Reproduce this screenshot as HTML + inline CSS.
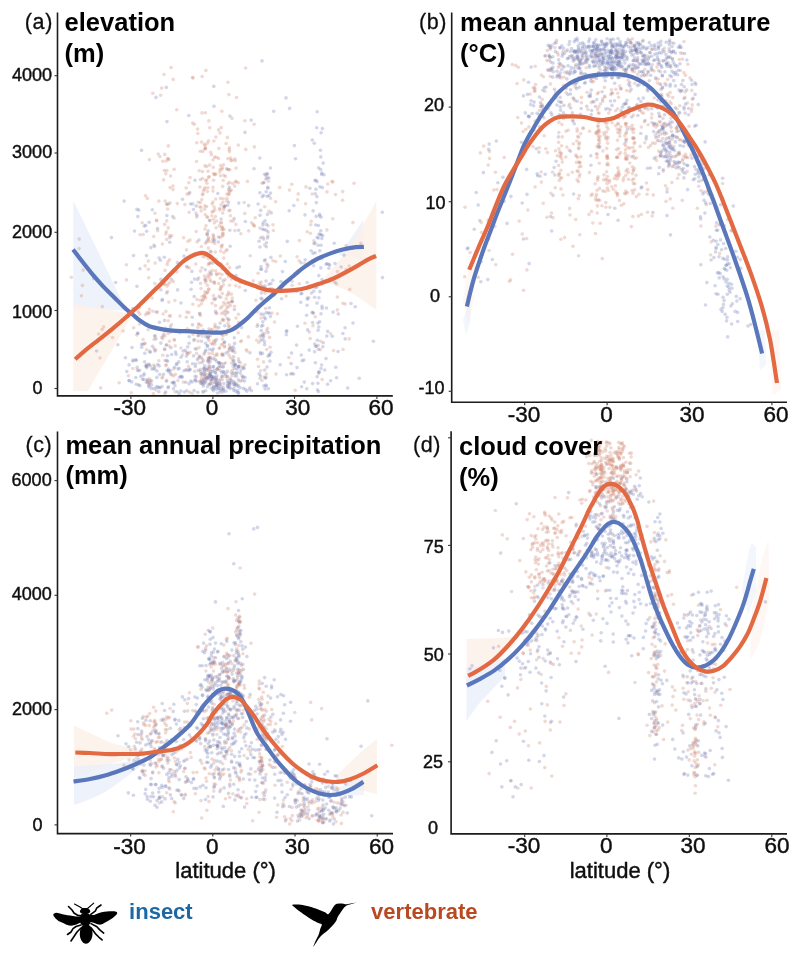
<!DOCTYPE html>
<html><head><meta charset="utf-8"><title>Figure</title>
<style>html,body{margin:0;padding:0;background:#fff;width:800px;height:959px;overflow:hidden}svg{display:block}</style>
</head><body>
<svg width="800" height="959" viewBox="0 0 800 959">
<rect width="800" height="959" fill="#fff"/>
<defs><filter id="gb" x="0" y="0" width="100%" height="100%"><feGaussianBlur stdDeviation="0.45"/></filter></defs><g filter="url(#gb)">
<polygon points="73.3,200.7 124.2,305.5 126.0,311.0 100.0,309.0 73.3,309.0" fill="#e8edf9" fill-opacity="0.75"/>
<polygon points="73.3,304.0 102.8,308.5 128.4,313.5 130.6,318.3 87.8,391.0 73.3,391.0" fill="#fdf0e9" fill-opacity="0.80"/>
<path d="M338.1,255.6 C340.3,252.7 347.1,244.0 351.2,238.0 C355.4,232.0 361.3,222.6 363.3,219.5 L363.3,260.0 C361.3,259.3 353.3,256.3 351.2,255.6Z" fill="#e8edf9" fill-opacity="0.75"/>
<path d="M325.0,277.5 C329.4,272.0 342.7,257.4 351.2,244.7 C359.8,231.9 372.2,208.3 376.4,201.0 L376.4,310.3 C372.2,307.4 359.8,297.5 351.2,292.8 C342.7,288.1 329.4,283.8 325.0,282.0Z" fill="#fdf0e9" fill-opacity="0.80"/>
<path d="M74.0,725.5 C76.7,726.8 83.7,730.1 90.0,733.0 C96.3,735.9 104.5,740.4 112.0,743.0 C119.5,745.6 128.7,747.2 135.0,748.5 C141.3,749.8 147.5,750.6 150.0,751.0 L150.0,753.0 C146.7,753.8 137.5,755.8 130.0,758.0 C122.5,760.2 112.0,763.7 105.0,766.0 C98.0,768.3 93.2,770.2 88.0,772.0 C82.8,773.8 76.3,775.8 74.0,776.5Z" fill="#fdf0e9" fill-opacity="0.80"/>
<path d="M74.0,766.0 C77.5,765.8 87.3,765.5 95.0,765.0 C102.7,764.5 111.7,764.0 120.0,763.0 C128.3,762.0 140.8,759.7 145.0,759.0 L145.0,762.0 C141.7,764.7 131.7,773.0 125.0,778.0 C118.3,783.0 111.2,788.3 105.0,792.0 C98.8,795.7 93.2,797.8 88.0,800.0 C82.8,802.2 76.3,804.2 74.0,805.0Z" fill="#e8edf9" fill-opacity="0.75"/>
<path d="M335.0,777.0 C339.2,773.0 353.0,759.3 360.0,753.0 C367.0,746.7 374.2,741.3 377.0,739.0 L377.0,794.0 C374.2,793.3 366.2,791.8 360.0,790.0 C353.8,788.2 343.3,784.2 340.0,783.0Z" fill="#fdf0e9" fill-opacity="0.80"/>
<path d="M335.0,790.0 C339.8,787.5 359.2,777.5 364.0,775.0 L364.0,795.0 C360.8,795.2 348.2,795.8 345.0,796.0Z" fill="#e8edf9" fill-opacity="0.60"/>
<path d="M466.5,639.0 C468.8,638.9 474.4,638.7 480.0,638.5 C485.6,638.3 494.2,638.4 500.0,638.0 C505.8,637.6 512.5,636.3 515.0,636.0 L515.0,645.0 C511.7,647.5 500.8,655.8 495.0,660.0 C489.2,664.2 484.8,666.3 480.0,670.0 C475.2,673.7 468.8,680.0 466.5,682.0Z" fill="#fdf0e9" fill-opacity="0.80"/>
<path d="M466.5,668.0 C469.6,667.5 478.6,666.7 485.0,665.0 C491.4,663.3 501.7,659.2 505.0,658.0 L505.0,676.0 C502.5,678.7 494.5,687.2 490.0,692.0 C485.5,696.8 481.9,700.2 478.0,705.0 C474.1,709.8 468.4,718.3 466.5,721.0Z" fill="#e8edf9" fill-opacity="0.75"/>
<path d="M742.0,590.0 C743.3,582.8 747.7,554.2 750.0,547.0 C752.3,539.8 755.0,547.0 756.0,547.0 L756.0,592.0 C754.7,595.8 749.3,611.2 748.0,615.0Z" fill="#e8edf9" fill-opacity="0.50"/>
<path d="M752.0,610.0 C753.7,601.7 759.2,571.7 762.0,560.0 C764.8,548.3 767.4,543.3 768.5,540.0 L769.0,600.0 C767.5,606.7 763.2,630.0 760.0,640.0 C756.8,650.0 751.7,656.7 750.0,660.0Z" fill="#fdf0e9" fill-opacity="0.50"/>
<path d="M463.0,300.0 C464.2,294.2 467.8,271.3 470.0,265.0 C472.2,258.7 475.0,262.5 476.0,262.0 L474.0,300.0 C473.0,304.2 469.0,320.8 468.0,325.0Z" fill="#fdf0e9" fill-opacity="0.50"/>
<path d="M463.0,320.0 C464.2,316.7 468.8,303.3 470.0,300.0 L471.0,320.0 C470.2,322.5 466.8,332.5 466.0,335.0Z" fill="#e8edf9" fill-opacity="0.50"/>
<path d="M757.0,330.0 C758.3,330.0 763.7,330.0 765.0,330.0 L766.0,365.0 C765.0,365.8 761.0,369.2 760.0,370.0Z" fill="#e8edf9" fill-opacity="0.50"/>
<path d="M768.0,330.0 C769.8,330.0 777.2,330.0 779.0,330.0 L781.0,390.0 C779.7,390.8 774.3,394.2 773.0,395.0Z" fill="#fdf0e9" fill-opacity="0.50"/>
<defs><filter id="bl" x="-5%" y="-5%" width="110%" height="110%"><feGaussianBlur stdDeviation="0.75"/></filter></defs>
<g filter="url(#bl)">
<g fill="rgb(208,138,115)" fill-opacity="0.32"><circle cx="152.3" cy="292.2" r="1.8"/><circle cx="189.0" cy="193.9" r="1.8"/><circle cx="204.9" cy="187.8" r="1.8"/><circle cx="139.6" cy="323.9" r="1.8"/><circle cx="149.1" cy="312.4" r="1.8"/><circle cx="232.4" cy="359.6" r="1.8"/><circle cx="155.3" cy="336.1" r="1.8"/><circle cx="153.9" cy="245.0" r="1.8"/><circle cx="232.6" cy="183.4" r="1.8"/><circle cx="205.3" cy="373.9" r="1.8"/><circle cx="169.4" cy="316.0" r="1.8"/><circle cx="204.4" cy="296.0" r="1.8"/><circle cx="200.5" cy="315.4" r="1.8"/><circle cx="171.8" cy="235.7" r="1.8"/><circle cx="157.7" cy="230.8" r="1.8"/><circle cx="214.0" cy="282.2" r="1.8"/><circle cx="212.2" cy="270.5" r="1.8"/><circle cx="199.8" cy="313.2" r="1.8"/><circle cx="228.6" cy="382.6" r="1.8"/><circle cx="199.2" cy="356.8" r="1.8"/><circle cx="248.7" cy="230.9" r="1.8"/><circle cx="162.4" cy="244.1" r="1.8"/><circle cx="200.2" cy="381.8" r="1.8"/><circle cx="190.0" cy="240.0" r="1.8"/><circle cx="180.9" cy="348.0" r="1.8"/><circle cx="196.5" cy="161.5" r="1.8"/><circle cx="169.5" cy="259.8" r="1.8"/><circle cx="221.2" cy="263.9" r="1.8"/><circle cx="224.5" cy="347.0" r="1.8"/><circle cx="155.7" cy="349.9" r="1.8"/><circle cx="199.2" cy="170.8" r="1.8"/><circle cx="174.9" cy="300.5" r="1.8"/><circle cx="145.6" cy="314.7" r="1.8"/><circle cx="238.3" cy="182.8" r="1.8"/><circle cx="182.4" cy="355.0" r="1.8"/><circle cx="154.8" cy="283.5" r="1.8"/><circle cx="211.2" cy="378.9" r="1.8"/><circle cx="147.3" cy="198.4" r="1.8"/><circle cx="235.8" cy="285.8" r="1.8"/><circle cx="156.6" cy="220.2" r="1.8"/><circle cx="139.3" cy="307.6" r="1.8"/><circle cx="152.2" cy="298.0" r="1.8"/><circle cx="167.2" cy="264.4" r="1.8"/><circle cx="183.6" cy="237.7" r="1.8"/><circle cx="240.1" cy="282.6" r="1.8"/><circle cx="223.2" cy="233.6" r="1.8"/><circle cx="175.5" cy="374.2" r="1.8"/><circle cx="148.3" cy="261.1" r="1.8"/><circle cx="155.2" cy="263.1" r="1.8"/><circle cx="233.2" cy="221.1" r="1.8"/><circle cx="189.2" cy="212.3" r="1.8"/><circle cx="215.2" cy="380.9" r="1.8"/><circle cx="143.2" cy="234.5" r="1.8"/><circle cx="145.4" cy="366.1" r="1.8"/><circle cx="232.3" cy="298.1" r="1.8"/><circle cx="196.5" cy="376.9" r="1.8"/><circle cx="163.6" cy="179.9" r="1.8"/><circle cx="172.0" cy="382.7" r="1.8"/><circle cx="148.1" cy="329.8" r="1.8"/><circle cx="156.0" cy="287.2" r="1.8"/><circle cx="148.5" cy="313.7" r="1.8"/><circle cx="238.5" cy="322.3" r="1.8"/><circle cx="186.5" cy="249.9" r="1.8"/><circle cx="157.5" cy="312.1" r="1.8"/><circle cx="223.3" cy="198.7" r="1.8"/><circle cx="164.8" cy="154.4" r="1.8"/><circle cx="152.8" cy="311.2" r="1.8"/><circle cx="200.5" cy="271.1" r="1.8"/><circle cx="238.5" cy="358.8" r="1.8"/><circle cx="155.0" cy="213.2" r="1.8"/><circle cx="229.4" cy="345.1" r="1.8"/><circle cx="156.2" cy="389.9" r="1.8"/><circle cx="153.4" cy="368.4" r="1.8"/><circle cx="149.5" cy="378.7" r="1.8"/><circle cx="173.0" cy="189.6" r="1.8"/><circle cx="213.0" cy="187.4" r="1.8"/><circle cx="201.0" cy="207.6" r="1.8"/><circle cx="222.1" cy="236.1" r="1.8"/><circle cx="165.8" cy="173.8" r="1.8"/><circle cx="173.0" cy="186.0" r="1.8"/><circle cx="159.9" cy="156.6" r="1.8"/><circle cx="250.0" cy="387.6" r="1.8"/><circle cx="240.9" cy="233.7" r="1.8"/><circle cx="168.8" cy="302.1" r="1.8"/><circle cx="189.4" cy="267.9" r="1.8"/><circle cx="170.4" cy="315.9" r="1.8"/><circle cx="207.0" cy="333.0" r="1.8"/><circle cx="140.1" cy="234.8" r="1.8"/><circle cx="148.7" cy="277.8" r="1.8"/><circle cx="186.2" cy="188.0" r="1.8"/><circle cx="166.7" cy="220.9" r="1.8"/><circle cx="229.0" cy="210.7" r="1.8"/><circle cx="220.7" cy="222.7" r="1.8"/><circle cx="196.0" cy="213.1" r="1.8"/><circle cx="216.5" cy="274.1" r="1.8"/><circle cx="213.6" cy="236.0" r="1.8"/><circle cx="223.8" cy="229.6" r="1.8"/><circle cx="240.6" cy="341.7" r="1.8"/><circle cx="149.4" cy="159.6" r="1.8"/><circle cx="201.5" cy="142.0" r="1.8"/><circle cx="164.3" cy="170.5" r="1.8"/><circle cx="188.5" cy="366.4" r="1.8"/><circle cx="220.9" cy="297.5" r="1.8"/><circle cx="236.0" cy="318.1" r="1.8"/><circle cx="216.8" cy="384.9" r="1.8"/><circle cx="145.4" cy="195.7" r="1.8"/><circle cx="173.7" cy="376.0" r="1.8"/><circle cx="158.8" cy="201.1" r="1.8"/><circle cx="235.4" cy="279.4" r="1.8"/><circle cx="163.1" cy="314.0" r="1.8"/><circle cx="162.6" cy="338.7" r="1.8"/><circle cx="168.0" cy="204.2" r="1.8"/><circle cx="145.1" cy="265.9" r="1.8"/><circle cx="229.2" cy="149.6" r="1.8"/><circle cx="207.7" cy="217.4" r="1.8"/><circle cx="149.9" cy="383.1" r="1.8"/><circle cx="194.7" cy="371.3" r="1.8"/><circle cx="170.0" cy="282.2" r="1.8"/><circle cx="196.5" cy="349.0" r="1.8"/><circle cx="166.4" cy="364.7" r="1.8"/><circle cx="142.2" cy="222.8" r="1.8"/><circle cx="153.3" cy="393.6" r="1.8"/><circle cx="187.4" cy="267.6" r="1.8"/><circle cx="200.0" cy="187.0" r="1.8"/><circle cx="176.9" cy="271.9" r="1.8"/><circle cx="207.3" cy="292.6" r="1.8"/><circle cx="186.8" cy="312.1" r="1.8"/><circle cx="149.5" cy="309.2" r="1.8"/><circle cx="174.1" cy="169.3" r="1.8"/><circle cx="199.0" cy="305.7" r="1.8"/><circle cx="231.2" cy="372.1" r="1.8"/><circle cx="146.7" cy="312.9" r="1.8"/><circle cx="148.8" cy="383.7" r="1.8"/><circle cx="198.7" cy="277.8" r="1.8"/><circle cx="246.2" cy="349.7" r="1.8"/><circle cx="236.0" cy="181.4" r="1.8"/><circle cx="209.0" cy="365.6" r="1.8"/><circle cx="148.3" cy="269.2" r="1.8"/><circle cx="240.5" cy="362.9" r="1.8"/><circle cx="219.4" cy="225.9" r="1.8"/><circle cx="138.4" cy="312.1" r="1.8"/><circle cx="188.0" cy="353.2" r="1.8"/><circle cx="139.9" cy="314.1" r="1.8"/><circle cx="227.9" cy="302.8" r="1.8"/><circle cx="214.4" cy="377.6" r="1.8"/><circle cx="236.1" cy="168.1" r="1.8"/><circle cx="225.4" cy="176.4" r="1.8"/><circle cx="173.4" cy="281.6" r="1.8"/><circle cx="224.0" cy="374.5" r="1.8"/><circle cx="165.9" cy="311.4" r="1.8"/><circle cx="156.5" cy="220.8" r="1.8"/><circle cx="188.8" cy="182.8" r="1.8"/><circle cx="195.5" cy="253.3" r="1.8"/><circle cx="167.9" cy="261.8" r="1.8"/><circle cx="211.3" cy="274.6" r="1.8"/><circle cx="204.4" cy="295.3" r="1.8"/><circle cx="164.7" cy="224.4" r="1.8"/><circle cx="200.6" cy="369.2" r="1.8"/><circle cx="174.1" cy="218.3" r="1.8"/><circle cx="213.3" cy="167.2" r="1.8"/><circle cx="153.7" cy="236.5" r="1.8"/><circle cx="230.0" cy="378.6" r="1.8"/><circle cx="187.0" cy="194.1" r="1.8"/><circle cx="196.8" cy="217.1" r="1.8"/><circle cx="217.0" cy="379.6" r="1.8"/><circle cx="197.1" cy="241.9" r="1.8"/><circle cx="169.3" cy="346.0" r="1.8"/><circle cx="228.0" cy="169.5" r="1.8"/><circle cx="148.7" cy="364.3" r="1.8"/><circle cx="177.3" cy="203.6" r="1.8"/><circle cx="207.3" cy="191.4" r="1.8"/><circle cx="154.1" cy="339.4" r="1.8"/><circle cx="164.8" cy="393.4" r="1.8"/><circle cx="217.0" cy="369.5" r="1.8"/><circle cx="209.1" cy="331.1" r="1.8"/><circle cx="210.3" cy="368.6" r="1.8"/><circle cx="234.9" cy="385.8" r="1.8"/><circle cx="225.1" cy="279.6" r="1.8"/><circle cx="170.6" cy="176.0" r="1.8"/><circle cx="209.0" cy="359.0" r="1.8"/><circle cx="166.7" cy="239.4" r="1.8"/><circle cx="221.4" cy="222.8" r="1.8"/><circle cx="177.7" cy="266.6" r="1.8"/><circle cx="158.2" cy="154.0" r="1.8"/><circle cx="234.8" cy="158.9" r="1.8"/><circle cx="211.8" cy="215.7" r="1.8"/><circle cx="220.1" cy="289.0" r="1.8"/><circle cx="198.7" cy="324.2" r="1.8"/><circle cx="226.8" cy="376.9" r="1.8"/><circle cx="190.0" cy="352.2" r="1.8"/><circle cx="245.8" cy="149.4" r="1.8"/><circle cx="213.1" cy="234.7" r="1.8"/><circle cx="223.0" cy="229.1" r="1.8"/><circle cx="235.0" cy="352.4" r="1.8"/><circle cx="238.3" cy="145.1" r="1.8"/><circle cx="220.5" cy="175.8" r="1.8"/><circle cx="242.5" cy="366.9" r="1.8"/><circle cx="197.8" cy="133.5" r="1.8"/><circle cx="229.0" cy="190.9" r="1.8"/><circle cx="221.5" cy="247.2" r="1.8"/><circle cx="221.2" cy="127.6" r="1.8"/><circle cx="226.7" cy="200.7" r="1.8"/><circle cx="214.6" cy="283.4" r="1.8"/><circle cx="218.8" cy="283.5" r="1.8"/><circle cx="219.2" cy="273.5" r="1.8"/><circle cx="204.3" cy="297.6" r="1.8"/><circle cx="208.0" cy="291.6" r="1.8"/><circle cx="218.6" cy="129.9" r="1.8"/><circle cx="200.2" cy="300.2" r="1.8"/><circle cx="222.0" cy="274.5" r="1.8"/><circle cx="222.7" cy="186.4" r="1.8"/><circle cx="187.9" cy="241.2" r="1.8"/><circle cx="202.4" cy="194.7" r="1.8"/><circle cx="198.4" cy="358.2" r="1.8"/><circle cx="226.9" cy="198.2" r="1.8"/><circle cx="190.1" cy="177.6" r="1.8"/><circle cx="193.1" cy="334.4" r="1.8"/><circle cx="210.9" cy="329.9" r="1.8"/><circle cx="215.1" cy="355.7" r="1.8"/><circle cx="192.8" cy="304.2" r="1.8"/><circle cx="234.8" cy="230.6" r="1.8"/><circle cx="211.0" cy="257.3" r="1.8"/><circle cx="229.6" cy="267.6" r="1.8"/><circle cx="210.0" cy="279.6" r="1.8"/><circle cx="217.5" cy="369.1" r="1.8"/><circle cx="212.1" cy="204.0" r="1.8"/><circle cx="208.9" cy="328.8" r="1.8"/><circle cx="208.8" cy="120.9" r="1.8"/><circle cx="227.9" cy="183.8" r="1.8"/><circle cx="223.7" cy="387.9" r="1.8"/><circle cx="224.5" cy="206.0" r="1.8"/><circle cx="216.2" cy="259.4" r="1.8"/><circle cx="204.0" cy="368.7" r="1.8"/><circle cx="212.1" cy="303.2" r="1.8"/><circle cx="217.6" cy="262.3" r="1.8"/><circle cx="227.9" cy="312.6" r="1.8"/><circle cx="207.0" cy="377.7" r="1.8"/><circle cx="207.4" cy="379.2" r="1.8"/><circle cx="205.7" cy="180.8" r="1.8"/><circle cx="218.5" cy="158.4" r="1.8"/><circle cx="200.5" cy="202.6" r="1.8"/><circle cx="221.8" cy="169.3" r="1.8"/><circle cx="236.1" cy="328.6" r="1.8"/><circle cx="232.2" cy="349.9" r="1.8"/><circle cx="208.0" cy="171.3" r="1.8"/><circle cx="210.7" cy="152.2" r="1.8"/><circle cx="244.8" cy="213.4" r="1.8"/><circle cx="202.5" cy="300.4" r="1.8"/><circle cx="226.0" cy="333.9" r="1.8"/><circle cx="223.7" cy="258.1" r="1.8"/><circle cx="226.9" cy="307.9" r="1.8"/><circle cx="209.0" cy="368.3" r="1.8"/><circle cx="208.5" cy="358.6" r="1.8"/><circle cx="220.0" cy="169.2" r="1.8"/><circle cx="198.9" cy="324.0" r="1.8"/><circle cx="226.5" cy="333.9" r="1.8"/><circle cx="232.5" cy="370.1" r="1.8"/><circle cx="207.0" cy="234.1" r="1.8"/><circle cx="214.5" cy="174.0" r="1.8"/><circle cx="208.4" cy="248.1" r="1.8"/><circle cx="254.0" cy="225.3" r="1.8"/><circle cx="196.2" cy="231.5" r="1.8"/><circle cx="210.5" cy="335.8" r="1.8"/><circle cx="220.8" cy="286.7" r="1.8"/><circle cx="231.3" cy="301.8" r="1.8"/><circle cx="232.5" cy="301.6" r="1.8"/><circle cx="206.8" cy="166.4" r="1.8"/><circle cx="196.8" cy="142.7" r="1.8"/><circle cx="223.0" cy="235.2" r="1.8"/><circle cx="217.2" cy="355.0" r="1.8"/><circle cx="201.6" cy="303.7" r="1.8"/><circle cx="216.4" cy="330.8" r="1.8"/><circle cx="204.9" cy="291.9" r="1.8"/><circle cx="203.4" cy="331.8" r="1.8"/><circle cx="212.1" cy="383.6" r="1.8"/><circle cx="222.1" cy="306.4" r="1.8"/><circle cx="209.1" cy="353.4" r="1.8"/><circle cx="201.4" cy="377.6" r="1.8"/><circle cx="223.2" cy="335.4" r="1.8"/><circle cx="213.8" cy="340.7" r="1.8"/><circle cx="205.0" cy="149.0" r="1.8"/><circle cx="215.9" cy="137.0" r="1.8"/><circle cx="240.3" cy="381.2" r="1.8"/><circle cx="234.7" cy="186.1" r="1.8"/><circle cx="219.7" cy="208.3" r="1.8"/><circle cx="232.0" cy="160.4" r="1.8"/><circle cx="231.5" cy="294.1" r="1.8"/><circle cx="227.4" cy="137.4" r="1.8"/><circle cx="214.7" cy="344.3" r="1.8"/><circle cx="215.7" cy="199.0" r="1.8"/><circle cx="227.9" cy="323.2" r="1.8"/><circle cx="225.6" cy="376.4" r="1.8"/><circle cx="234.5" cy="306.3" r="1.8"/><circle cx="208.0" cy="239.2" r="1.8"/><circle cx="239.4" cy="287.0" r="1.8"/><circle cx="208.7" cy="336.6" r="1.8"/><circle cx="238.5" cy="314.2" r="1.8"/><circle cx="244.2" cy="202.5" r="1.8"/><circle cx="197.6" cy="129.1" r="1.8"/><circle cx="199.0" cy="347.6" r="1.8"/><circle cx="222.3" cy="293.6" r="1.8"/><circle cx="254.4" cy="146.9" r="1.8"/><circle cx="231.5" cy="279.1" r="1.8"/><circle cx="201.0" cy="288.5" r="1.8"/><circle cx="184.9" cy="204.6" r="1.8"/><circle cx="199.1" cy="362.7" r="1.8"/><circle cx="247.5" cy="181.4" r="1.8"/><circle cx="216.1" cy="174.0" r="1.8"/><circle cx="213.2" cy="211.4" r="1.8"/><circle cx="236.0" cy="224.4" r="1.8"/><circle cx="238.3" cy="366.1" r="1.8"/><circle cx="213.6" cy="299.0" r="1.8"/><circle cx="235.3" cy="160.7" r="1.8"/><circle cx="222.0" cy="227.0" r="1.8"/><circle cx="204.3" cy="144.2" r="1.8"/><circle cx="188.9" cy="312.6" r="1.8"/><circle cx="204.2" cy="353.1" r="1.8"/><circle cx="229.5" cy="147.7" r="1.8"/><circle cx="195.8" cy="264.1" r="1.8"/><circle cx="226.9" cy="194.1" r="1.8"/><circle cx="199.8" cy="206.7" r="1.8"/><circle cx="223.1" cy="319.4" r="1.8"/><circle cx="209.4" cy="373.3" r="1.8"/><circle cx="214.1" cy="207.1" r="1.8"/><circle cx="216.8" cy="274.6" r="1.8"/><circle cx="219.8" cy="209.9" r="1.8"/><circle cx="226.1" cy="143.5" r="1.8"/><circle cx="223.4" cy="284.9" r="1.8"/><circle cx="228.5" cy="169.5" r="1.8"/><circle cx="230.5" cy="305.6" r="1.8"/><circle cx="223.6" cy="312.1" r="1.8"/><circle cx="202.5" cy="171.6" r="1.8"/><circle cx="204.6" cy="276.0" r="1.8"/><circle cx="235.7" cy="182.1" r="1.8"/><circle cx="214.8" cy="326.5" r="1.8"/><circle cx="225.4" cy="205.8" r="1.8"/><circle cx="197.0" cy="299.5" r="1.8"/><circle cx="215.5" cy="305.6" r="1.8"/><circle cx="200.5" cy="283.4" r="1.8"/><circle cx="213.0" cy="191.1" r="1.8"/><circle cx="204.9" cy="278.9" r="1.8"/><circle cx="201.8" cy="199.5" r="1.8"/><circle cx="198.3" cy="202.3" r="1.8"/><circle cx="203.5" cy="391.8" r="1.8"/><circle cx="205.0" cy="229.0" r="1.8"/><circle cx="204.7" cy="380.9" r="1.8"/><circle cx="202.2" cy="296.6" r="1.8"/><circle cx="202.8" cy="151.4" r="1.8"/><circle cx="203.4" cy="190.8" r="1.8"/><circle cx="200.3" cy="151.3" r="1.8"/><circle cx="202.0" cy="267.7" r="1.8"/><circle cx="202.0" cy="380.1" r="1.8"/><circle cx="205.4" cy="148.2" r="1.8"/><circle cx="202.0" cy="112.9" r="1.8"/><circle cx="205.3" cy="148.6" r="1.8"/><circle cx="203.0" cy="193.8" r="1.8"/><circle cx="200.5" cy="179.5" r="1.8"/><circle cx="206.3" cy="378.0" r="1.8"/><circle cx="201.5" cy="333.5" r="1.8"/><circle cx="203.9" cy="379.4" r="1.8"/><circle cx="205.6" cy="282.4" r="1.8"/><circle cx="202.2" cy="335.9" r="1.8"/><circle cx="201.2" cy="325.6" r="1.8"/><circle cx="204.6" cy="209.2" r="1.8"/><circle cx="203.1" cy="299.7" r="1.8"/><circle cx="201.2" cy="211.0" r="1.8"/><circle cx="201.4" cy="246.5" r="1.8"/><circle cx="202.4" cy="359.1" r="1.8"/><circle cx="204.4" cy="189.3" r="1.8"/><circle cx="202.6" cy="178.5" r="1.8"/><circle cx="204.0" cy="354.3" r="1.8"/><circle cx="205.5" cy="243.3" r="1.8"/><circle cx="204.9" cy="165.9" r="1.8"/><circle cx="205.2" cy="214.5" r="1.8"/><circle cx="204.8" cy="205.9" r="1.8"/><circle cx="200.6" cy="373.9" r="1.8"/><circle cx="204.8" cy="256.7" r="1.8"/><circle cx="203.5" cy="360.7" r="1.8"/><circle cx="202.8" cy="256.6" r="1.8"/><circle cx="201.4" cy="381.0" r="1.8"/><circle cx="209.5" cy="220.5" r="1.8"/><circle cx="208.5" cy="274.2" r="1.8"/><circle cx="206.2" cy="280.5" r="1.8"/><circle cx="209.8" cy="271.8" r="1.8"/><circle cx="206.9" cy="183.3" r="1.8"/><circle cx="208.9" cy="289.3" r="1.8"/><circle cx="205.7" cy="297.9" r="1.8"/><circle cx="209.2" cy="276.5" r="1.8"/><circle cx="206.9" cy="216.7" r="1.8"/><circle cx="209.7" cy="165.1" r="1.8"/><circle cx="210.7" cy="262.4" r="1.8"/><circle cx="209.8" cy="127.7" r="1.8"/><circle cx="206.3" cy="369.7" r="1.8"/><circle cx="206.6" cy="206.6" r="1.8"/><circle cx="206.7" cy="179.7" r="1.8"/><circle cx="209.0" cy="241.5" r="1.8"/><circle cx="208.5" cy="140.9" r="1.8"/><circle cx="208.3" cy="357.7" r="1.8"/><circle cx="208.5" cy="384.2" r="1.8"/><circle cx="208.9" cy="340.4" r="1.8"/><circle cx="209.0" cy="263.2" r="1.8"/><circle cx="210.6" cy="375.4" r="1.8"/><circle cx="207.9" cy="187.8" r="1.8"/><circle cx="208.3" cy="239.7" r="1.8"/><circle cx="205.2" cy="145.7" r="1.8"/><circle cx="206.0" cy="225.8" r="1.8"/><circle cx="207.0" cy="375.1" r="1.8"/><circle cx="206.2" cy="293.3" r="1.8"/><circle cx="208.3" cy="258.6" r="1.8"/><circle cx="209.6" cy="263.8" r="1.8"/><circle cx="207.4" cy="285.3" r="1.8"/><circle cx="207.3" cy="277.1" r="1.8"/><circle cx="207.2" cy="233.2" r="1.8"/><circle cx="208.2" cy="264.7" r="1.8"/><circle cx="207.2" cy="143.3" r="1.8"/><circle cx="208.7" cy="237.6" r="1.8"/><circle cx="208.5" cy="289.0" r="1.8"/><circle cx="208.5" cy="177.1" r="1.8"/><circle cx="209.2" cy="176.8" r="1.8"/><circle cx="208.1" cy="338.7" r="1.8"/><circle cx="212.2" cy="377.3" r="1.8"/><circle cx="216.8" cy="313.4" r="1.8"/><circle cx="211.4" cy="343.6" r="1.8"/><circle cx="215.7" cy="383.4" r="1.8"/><circle cx="215.1" cy="324.4" r="1.8"/><circle cx="211.2" cy="252.0" r="1.8"/><circle cx="213.5" cy="295.6" r="1.8"/><circle cx="216.1" cy="327.2" r="1.8"/><circle cx="215.6" cy="298.2" r="1.8"/><circle cx="211.4" cy="154.8" r="1.8"/><circle cx="213.1" cy="159.7" r="1.8"/><circle cx="212.1" cy="211.9" r="1.8"/><circle cx="212.4" cy="344.1" r="1.8"/><circle cx="212.9" cy="202.1" r="1.8"/><circle cx="216.7" cy="221.0" r="1.8"/><circle cx="214.1" cy="342.4" r="1.8"/><circle cx="213.6" cy="180.3" r="1.8"/><circle cx="213.4" cy="219.2" r="1.8"/><circle cx="214.9" cy="209.9" r="1.8"/><circle cx="214.9" cy="174.8" r="1.8"/><circle cx="212.5" cy="329.3" r="1.8"/><circle cx="216.1" cy="227.7" r="1.8"/><circle cx="212.3" cy="242.0" r="1.8"/><circle cx="213.5" cy="237.6" r="1.8"/><circle cx="214.6" cy="157.1" r="1.8"/><circle cx="216.5" cy="339.3" r="1.8"/><circle cx="213.4" cy="173.9" r="1.8"/><circle cx="214.3" cy="222.9" r="1.8"/><circle cx="215.9" cy="313.3" r="1.8"/><circle cx="214.8" cy="243.4" r="1.8"/><circle cx="215.6" cy="270.9" r="1.8"/><circle cx="215.5" cy="216.6" r="1.8"/><circle cx="214.3" cy="282.0" r="1.8"/><circle cx="214.8" cy="239.9" r="1.8"/><circle cx="215.3" cy="252.1" r="1.8"/><circle cx="213.9" cy="141.1" r="1.8"/><circle cx="216.3" cy="157.2" r="1.8"/><circle cx="210.9" cy="281.5" r="1.8"/><circle cx="212.5" cy="353.6" r="1.8"/><circle cx="216.1" cy="386.5" r="1.8"/><circle cx="222.2" cy="268.9" r="1.8"/><circle cx="222.4" cy="339.0" r="1.8"/><circle cx="223.7" cy="302.6" r="1.8"/><circle cx="225.1" cy="304.5" r="1.8"/><circle cx="221.7" cy="313.4" r="1.8"/><circle cx="223.8" cy="252.8" r="1.8"/><circle cx="221.4" cy="333.6" r="1.8"/><circle cx="222.8" cy="344.1" r="1.8"/><circle cx="220.5" cy="289.8" r="1.8"/><circle cx="220.7" cy="165.6" r="1.8"/><circle cx="222.5" cy="233.2" r="1.8"/><circle cx="220.5" cy="198.4" r="1.8"/><circle cx="223.2" cy="180.2" r="1.8"/><circle cx="221.1" cy="204.8" r="1.8"/><circle cx="222.0" cy="334.7" r="1.8"/><circle cx="221.8" cy="229.7" r="1.8"/><circle cx="221.4" cy="245.7" r="1.8"/><circle cx="222.1" cy="227.2" r="1.8"/><circle cx="223.5" cy="164.7" r="1.8"/><circle cx="226.6" cy="273.2" r="1.8"/><circle cx="220.1" cy="237.6" r="1.8"/><circle cx="222.3" cy="379.7" r="1.8"/><circle cx="221.6" cy="287.1" r="1.8"/><circle cx="220.5" cy="392.4" r="1.8"/><circle cx="222.3" cy="353.7" r="1.8"/><circle cx="220.6" cy="251.0" r="1.8"/><circle cx="221.8" cy="111.2" r="1.8"/><circle cx="223.8" cy="175.3" r="1.8"/><circle cx="218.9" cy="148.4" r="1.8"/><circle cx="222.3" cy="319.9" r="1.8"/><circle cx="222.6" cy="167.8" r="1.8"/><circle cx="220.5" cy="308.2" r="1.8"/><circle cx="222.7" cy="213.1" r="1.8"/><circle cx="222.4" cy="245.0" r="1.8"/><circle cx="221.4" cy="344.9" r="1.8"/><circle cx="223.7" cy="209.4" r="1.8"/><circle cx="219.9" cy="171.9" r="1.8"/><circle cx="222.9" cy="202.2" r="1.8"/><circle cx="221.5" cy="363.9" r="1.8"/><circle cx="220.3" cy="278.2" r="1.8"/><circle cx="229.5" cy="285.2" r="1.8"/><circle cx="231.3" cy="190.1" r="1.8"/><circle cx="230.5" cy="158.1" r="1.8"/><circle cx="230.2" cy="191.3" r="1.8"/><circle cx="230.8" cy="221.0" r="1.8"/><circle cx="228.5" cy="292.4" r="1.8"/><circle cx="228.2" cy="306.6" r="1.8"/><circle cx="228.8" cy="326.4" r="1.8"/><circle cx="227.0" cy="249.7" r="1.8"/><circle cx="228.7" cy="294.3" r="1.8"/><circle cx="228.4" cy="276.7" r="1.8"/><circle cx="229.9" cy="210.2" r="1.8"/><circle cx="228.9" cy="193.8" r="1.8"/><circle cx="226.0" cy="250.8" r="1.8"/><circle cx="229.0" cy="303.1" r="1.8"/><circle cx="231.0" cy="160.4" r="1.8"/><circle cx="226.2" cy="298.9" r="1.8"/><circle cx="227.8" cy="158.8" r="1.8"/><circle cx="228.9" cy="194.4" r="1.8"/><circle cx="226.9" cy="318.1" r="1.8"/><circle cx="228.1" cy="352.1" r="1.8"/><circle cx="229.0" cy="326.1" r="1.8"/><circle cx="226.9" cy="312.0" r="1.8"/><circle cx="229.4" cy="182.4" r="1.8"/><circle cx="229.5" cy="382.2" r="1.8"/><circle cx="227.0" cy="295.3" r="1.8"/><circle cx="229.0" cy="355.2" r="1.8"/><circle cx="230.5" cy="357.8" r="1.8"/><circle cx="228.7" cy="189.4" r="1.8"/><circle cx="229.6" cy="384.4" r="1.8"/><circle cx="229.9" cy="169.8" r="1.8"/><circle cx="228.6" cy="320.2" r="1.8"/><circle cx="230.4" cy="215.8" r="1.8"/><circle cx="229.5" cy="151.6" r="1.8"/><circle cx="227.4" cy="264.0" r="1.8"/><circle cx="166.4" cy="231.7" r="1.8"/><circle cx="168.2" cy="320.7" r="1.8"/><circle cx="162.8" cy="377.1" r="1.8"/><circle cx="165.0" cy="336.0" r="1.8"/><circle cx="165.2" cy="201.0" r="1.8"/><circle cx="166.2" cy="161.1" r="1.8"/><circle cx="165.7" cy="234.0" r="1.8"/><circle cx="167.1" cy="286.1" r="1.8"/><circle cx="168.2" cy="227.9" r="1.8"/><circle cx="166.2" cy="345.2" r="1.8"/><circle cx="167.6" cy="209.0" r="1.8"/><circle cx="170.1" cy="187.6" r="1.8"/><circle cx="164.1" cy="284.0" r="1.8"/><circle cx="164.0" cy="333.8" r="1.8"/><circle cx="167.1" cy="204.3" r="1.8"/><circle cx="169.8" cy="235.6" r="1.8"/><circle cx="166.5" cy="204.1" r="1.8"/><circle cx="168.3" cy="145.9" r="1.8"/><circle cx="165.5" cy="328.1" r="1.8"/><circle cx="168.0" cy="159.0" r="1.8"/><circle cx="164.9" cy="284.6" r="1.8"/><circle cx="167.5" cy="291.5" r="1.8"/><circle cx="166.9" cy="278.2" r="1.8"/><circle cx="166.9" cy="170.5" r="1.8"/><circle cx="168.9" cy="159.8" r="1.8"/><circle cx="168.3" cy="284.0" r="1.8"/><circle cx="165.0" cy="270.4" r="1.8"/><circle cx="167.9" cy="158.3" r="1.8"/><circle cx="162.8" cy="161.2" r="1.8"/><circle cx="168.2" cy="333.4" r="1.8"/><circle cx="258.1" cy="273.3" r="1.8"/><circle cx="260.6" cy="285.5" r="1.8"/><circle cx="255.9" cy="300.3" r="1.8"/><circle cx="262.0" cy="183.2" r="1.8"/><circle cx="256.7" cy="340.3" r="1.8"/><circle cx="271.5" cy="288.2" r="1.8"/><circle cx="254.4" cy="226.2" r="1.8"/><circle cx="263.5" cy="361.9" r="1.8"/><circle cx="272.9" cy="260.7" r="1.8"/><circle cx="264.5" cy="333.3" r="1.8"/><circle cx="259.9" cy="228.1" r="1.8"/><circle cx="259.6" cy="283.4" r="1.8"/><circle cx="264.7" cy="206.7" r="1.8"/><circle cx="268.1" cy="225.8" r="1.8"/><circle cx="268.0" cy="236.1" r="1.8"/><circle cx="275.6" cy="201.8" r="1.8"/><circle cx="248.4" cy="336.9" r="1.8"/><circle cx="275.7" cy="261.5" r="1.8"/><circle cx="251.6" cy="222.8" r="1.8"/><circle cx="265.1" cy="293.1" r="1.8"/><circle cx="269.0" cy="211.4" r="1.8"/><circle cx="250.2" cy="255.7" r="1.8"/><circle cx="265.0" cy="285.7" r="1.8"/><circle cx="260.8" cy="305.5" r="1.8"/><circle cx="266.7" cy="263.7" r="1.8"/><circle cx="258.8" cy="342.5" r="1.8"/><circle cx="258.6" cy="366.5" r="1.8"/><circle cx="266.3" cy="377.6" r="1.8"/><circle cx="264.3" cy="290.6" r="1.8"/><circle cx="276.0" cy="374.1" r="1.8"/><circle cx="262.0" cy="380.5" r="1.8"/><circle cx="272.0" cy="313.1" r="1.8"/><circle cx="279.7" cy="187.5" r="1.8"/><circle cx="257.7" cy="307.1" r="1.8"/><circle cx="253.2" cy="280.9" r="1.8"/><circle cx="261.1" cy="318.0" r="1.8"/><circle cx="273.4" cy="230.5" r="1.8"/><circle cx="264.6" cy="244.9" r="1.8"/><circle cx="273.0" cy="224.8" r="1.8"/><circle cx="267.0" cy="268.0" r="1.8"/><circle cx="266.8" cy="330.2" r="1.8"/><circle cx="255.2" cy="217.8" r="1.8"/><circle cx="280.3" cy="256.1" r="1.8"/><circle cx="257.3" cy="311.7" r="1.8"/><circle cx="260.0" cy="336.9" r="1.8"/><circle cx="260.7" cy="370.8" r="1.8"/><circle cx="270.9" cy="290.7" r="1.8"/><circle cx="266.4" cy="374.1" r="1.8"/><circle cx="253.1" cy="224.5" r="1.8"/><circle cx="265.6" cy="308.6" r="1.8"/><circle cx="267.6" cy="328.3" r="1.8"/><circle cx="265.7" cy="175.4" r="1.8"/><circle cx="266.6" cy="349.5" r="1.8"/><circle cx="247.1" cy="351.1" r="1.8"/><circle cx="286.1" cy="296.1" r="1.8"/><circle cx="257.5" cy="359.3" r="1.8"/><circle cx="274.5" cy="322.0" r="1.8"/><circle cx="263.0" cy="237.0" r="1.8"/><circle cx="269.6" cy="337.4" r="1.8"/><circle cx="261.2" cy="282.1" r="1.8"/><circle cx="257.7" cy="324.5" r="1.8"/><circle cx="259.9" cy="378.5" r="1.8"/><circle cx="277.4" cy="313.8" r="1.8"/><circle cx="260.9" cy="335.5" r="1.8"/><circle cx="270.0" cy="347.2" r="1.8"/><circle cx="270.6" cy="198.3" r="1.8"/><circle cx="264.0" cy="182.5" r="1.8"/><circle cx="268.3" cy="181.2" r="1.8"/><circle cx="337.3" cy="309.9" r="1.8"/><circle cx="291.8" cy="184.2" r="1.8"/><circle cx="360.8" cy="243.3" r="1.8"/><circle cx="332.9" cy="181.9" r="1.8"/><circle cx="312.9" cy="312.2" r="1.8"/><circle cx="290.6" cy="374.0" r="1.8"/><circle cx="308.9" cy="297.8" r="1.8"/><circle cx="342.9" cy="303.2" r="1.8"/><circle cx="288.9" cy="357.5" r="1.8"/><circle cx="299.4" cy="240.6" r="1.8"/><circle cx="292.2" cy="285.2" r="1.8"/><circle cx="333.5" cy="350.6" r="1.8"/><circle cx="352.9" cy="222.6" r="1.8"/><circle cx="313.0" cy="325.7" r="1.8"/><circle cx="305.6" cy="203.8" r="1.8"/><circle cx="349.1" cy="266.0" r="1.8"/><circle cx="332.8" cy="218.8" r="1.8"/><circle cx="346.1" cy="269.5" r="1.8"/><circle cx="311.2" cy="221.2" r="1.8"/><circle cx="289.5" cy="190.1" r="1.8"/><circle cx="292.1" cy="281.2" r="1.8"/><circle cx="304.7" cy="263.4" r="1.8"/><circle cx="309.3" cy="332.1" r="1.8"/><circle cx="331.9" cy="181.6" r="1.8"/><circle cx="315.3" cy="316.8" r="1.8"/><circle cx="306.0" cy="186.9" r="1.8"/><circle cx="336.5" cy="283.9" r="1.8"/><circle cx="327.8" cy="184.0" r="1.8"/><circle cx="322.1" cy="379.5" r="1.8"/><circle cx="349.8" cy="289.4" r="1.8"/><circle cx="337.4" cy="271.6" r="1.8"/><circle cx="298.2" cy="193.9" r="1.8"/><circle cx="343.1" cy="349.5" r="1.8"/><circle cx="310.4" cy="233.2" r="1.8"/><circle cx="299.2" cy="283.7" r="1.8"/><circle cx="330.6" cy="333.7" r="1.8"/><circle cx="320.3" cy="349.8" r="1.8"/><circle cx="299.1" cy="260.7" r="1.8"/><circle cx="335.5" cy="194.6" r="1.8"/><circle cx="295.2" cy="390.2" r="1.8"/><circle cx="310.8" cy="224.7" r="1.8"/><circle cx="354.1" cy="183.3" r="1.8"/><circle cx="345.1" cy="304.0" r="1.8"/><circle cx="318.5" cy="373.6" r="1.8"/><circle cx="342.6" cy="200.3" r="1.8"/><circle cx="327.0" cy="191.9" r="1.8"/><circle cx="304.9" cy="323.3" r="1.8"/><circle cx="337.4" cy="297.1" r="1.8"/><circle cx="326.9" cy="229.9" r="1.8"/><circle cx="313.9" cy="240.8" r="1.8"/><circle cx="349.2" cy="338.9" r="1.8"/><circle cx="312.1" cy="194.0" r="1.8"/><circle cx="307.2" cy="231.7" r="1.8"/><circle cx="297.1" cy="256.7" r="1.8"/><circle cx="320.7" cy="341.3" r="1.8"/><circle cx="346.1" cy="245.6" r="1.8"/><circle cx="342.7" cy="191.6" r="1.8"/><circle cx="318.1" cy="345.3" r="1.8"/><circle cx="310.2" cy="338.6" r="1.8"/><circle cx="297.7" cy="199.8" r="1.8"/><circle cx="160.6" cy="95.2" r="1.8"/><circle cx="194.4" cy="124.2" r="1.8"/><circle cx="164.0" cy="74.5" r="1.8"/><circle cx="227.9" cy="82.3" r="1.8"/><circle cx="228.9" cy="94.6" r="1.8"/><circle cx="173.2" cy="79.4" r="1.8"/><circle cx="192.7" cy="123.1" r="1.8"/><circle cx="171.1" cy="67.6" r="1.8"/><circle cx="244.9" cy="120.8" r="1.8"/><circle cx="254.1" cy="124.3" r="1.8"/><circle cx="245.6" cy="68.0" r="1.8"/><circle cx="220.0" cy="133.1" r="1.8"/><circle cx="176.7" cy="109.8" r="1.8"/><circle cx="202.1" cy="76.5" r="1.8"/><circle cx="232.0" cy="118.4" r="1.8"/><circle cx="193.0" cy="77.9" r="1.8"/><circle cx="152.8" cy="93.2" r="1.8"/><circle cx="205.9" cy="70.4" r="1.8"/><circle cx="161.6" cy="88.1" r="1.8"/><circle cx="192.5" cy="77.6" r="1.8"/><circle cx="236.5" cy="97.5" r="1.8"/><circle cx="205.4" cy="112.7" r="1.8"/><circle cx="126.5" cy="279.9" r="1.8"/><circle cx="119.1" cy="382.8" r="1.8"/><circle cx="82.4" cy="285.4" r="1.8"/><circle cx="79.1" cy="248.6" r="1.8"/><circle cx="102.1" cy="329.5" r="1.8"/><circle cx="128.4" cy="375.7" r="1.8"/><circle cx="126.4" cy="264.7" r="1.8"/><circle cx="103.6" cy="326.9" r="1.8"/><circle cx="81.4" cy="295.8" r="1.8"/><circle cx="112.5" cy="337.6" r="1.8"/><circle cx="71.3" cy="277.3" r="1.8"/><circle cx="83.2" cy="270.1" r="1.8"/><circle cx="131.2" cy="392.8" r="1.8"/><circle cx="100.0" cy="358.0" r="1.8"/><circle cx="144.5" cy="343.6" r="1.8"/><circle cx="123.1" cy="331.0" r="1.8"/><circle cx="100.7" cy="387.9" r="1.8"/><circle cx="79.2" cy="239.1" r="1.8"/><circle cx="102.3" cy="306.6" r="1.8"/><circle cx="98.6" cy="334.0" r="1.8"/><circle cx="153.7" cy="365.1" r="1.8"/><circle cx="158.8" cy="360.7" r="1.8"/><circle cx="200.6" cy="383.5" r="1.8"/><circle cx="146.3" cy="382.3" r="1.8"/><circle cx="216.7" cy="353.9" r="1.8"/><circle cx="222.2" cy="354.6" r="1.8"/><circle cx="241.5" cy="340.7" r="1.8"/><circle cx="162.8" cy="355.3" r="1.8"/><circle cx="161.7" cy="337.5" r="1.8"/><circle cx="187.3" cy="328.7" r="1.8"/><circle cx="132.8" cy="368.5" r="1.8"/><circle cx="211.3" cy="376.6" r="1.8"/><circle cx="177.9" cy="380.6" r="1.8"/><circle cx="189.4" cy="330.3" r="1.8"/><circle cx="154.0" cy="348.5" r="1.8"/><circle cx="136.7" cy="335.0" r="1.8"/><circle cx="225.6" cy="362.7" r="1.8"/><circle cx="193.8" cy="340.6" r="1.8"/><circle cx="175.2" cy="345.9" r="1.8"/><circle cx="238.2" cy="332.7" r="1.8"/><circle cx="150.4" cy="380.7" r="1.8"/><circle cx="175.1" cy="391.7" r="1.8"/><circle cx="143.1" cy="339.5" r="1.8"/><circle cx="224.6" cy="346.1" r="1.8"/><circle cx="218.3" cy="367.9" r="1.8"/><circle cx="173.9" cy="368.9" r="1.8"/><circle cx="228.8" cy="350.5" r="1.8"/><circle cx="225.4" cy="310.5" r="1.8"/><circle cx="171.8" cy="375.0" r="1.8"/><circle cx="231.8" cy="375.8" r="1.8"/><circle cx="174.3" cy="340.1" r="1.8"/><circle cx="221.9" cy="386.9" r="1.8"/><circle cx="186.7" cy="370.1" r="1.8"/><circle cx="165.7" cy="365.6" r="1.8"/><circle cx="196.6" cy="353.4" r="1.8"/><circle cx="133.7" cy="327.8" r="1.8"/><circle cx="192.1" cy="393.4" r="1.8"/><circle cx="189.5" cy="392.2" r="1.8"/><circle cx="203.8" cy="332.9" r="1.8"/><circle cx="217.7" cy="383.0" r="1.8"/><circle cx="231.5" cy="363.1" r="1.8"/><circle cx="219.2" cy="348.3" r="1.8"/><circle cx="233.8" cy="360.5" r="1.8"/><circle cx="179.6" cy="332.7" r="1.8"/><circle cx="145.1" cy="343.5" r="1.8"/><circle cx="219.7" cy="348.0" r="1.8"/><circle cx="137.2" cy="369.7" r="1.8"/><circle cx="245.0" cy="364.9" r="1.8"/><circle cx="186.3" cy="317.2" r="1.8"/><circle cx="169.4" cy="341.2" r="1.8"/><circle cx="146.7" cy="349.8" r="1.8"/><circle cx="234.1" cy="348.7" r="1.8"/><circle cx="236.5" cy="383.5" r="1.8"/><circle cx="149.2" cy="382.1" r="1.8"/><circle cx="208.4" cy="360.3" r="1.8"/><circle cx="188.0" cy="353.9" r="1.8"/><circle cx="222.0" cy="354.9" r="1.8"/><circle cx="164.9" cy="360.6" r="1.8"/><circle cx="223.5" cy="320.5" r="1.8"/><circle cx="227.7" cy="329.7" r="1.8"/><circle cx="236.8" cy="376.3" r="1.8"/><circle cx="183.3" cy="382.1" r="1.8"/><circle cx="165.0" cy="349.6" r="1.8"/><circle cx="197.9" cy="327.5" r="1.8"/><circle cx="218.9" cy="362.6" r="1.8"/><circle cx="220.4" cy="379.3" r="1.8"/><circle cx="180.0" cy="316.1" r="1.8"/><circle cx="209.0" cy="370.9" r="1.8"/><circle cx="197.7" cy="335.4" r="1.8"/><circle cx="198.0" cy="341.1" r="1.8"/><circle cx="223.4" cy="366.7" r="1.8"/><circle cx="174.4" cy="339.8" r="1.8"/><circle cx="166.6" cy="380.3" r="1.8"/><circle cx="171.4" cy="324.5" r="1.8"/><circle cx="229.9" cy="348.6" r="1.8"/><circle cx="241.8" cy="375.6" r="1.8"/><circle cx="161.9" cy="378.0" r="1.8"/><circle cx="210.7" cy="360.1" r="1.8"/></g>
<g fill="rgb(115,128,182)" fill-opacity="0.32"><circle cx="179.4" cy="377.2" r="1.8"/><circle cx="139.7" cy="370.3" r="1.8"/><circle cx="217.0" cy="385.4" r="1.8"/><circle cx="240.1" cy="387.8" r="1.8"/><circle cx="205.4" cy="351.5" r="1.8"/><circle cx="219.8" cy="383.3" r="1.8"/><circle cx="224.0" cy="363.8" r="1.8"/><circle cx="245.2" cy="377.5" r="1.8"/><circle cx="140.8" cy="376.4" r="1.8"/><circle cx="235.9" cy="391.4" r="1.8"/><circle cx="209.7" cy="362.4" r="1.8"/><circle cx="243.4" cy="388.3" r="1.8"/><circle cx="218.8" cy="388.1" r="1.8"/><circle cx="190.2" cy="369.5" r="1.8"/><circle cx="207.5" cy="386.8" r="1.8"/><circle cx="160.0" cy="387.7" r="1.8"/><circle cx="171.7" cy="354.5" r="1.8"/><circle cx="147.0" cy="365.9" r="1.8"/><circle cx="175.0" cy="385.7" r="1.8"/><circle cx="227.7" cy="382.9" r="1.8"/><circle cx="174.3" cy="382.3" r="1.8"/><circle cx="222.2" cy="376.7" r="1.8"/><circle cx="150.4" cy="366.0" r="1.8"/><circle cx="203.0" cy="384.1" r="1.8"/><circle cx="157.7" cy="364.5" r="1.8"/><circle cx="209.1" cy="375.9" r="1.8"/><circle cx="212.3" cy="350.5" r="1.8"/><circle cx="234.1" cy="363.8" r="1.8"/><circle cx="207.1" cy="369.9" r="1.8"/><circle cx="141.7" cy="347.3" r="1.8"/><circle cx="205.6" cy="343.3" r="1.8"/><circle cx="162.1" cy="386.6" r="1.8"/><circle cx="184.4" cy="392.1" r="1.8"/><circle cx="143.0" cy="344.2" r="1.8"/><circle cx="178.7" cy="361.9" r="1.8"/><circle cx="204.0" cy="378.9" r="1.8"/><circle cx="132.0" cy="347.5" r="1.8"/><circle cx="189.2" cy="336.8" r="1.8"/><circle cx="229.0" cy="388.0" r="1.8"/><circle cx="193.6" cy="355.9" r="1.8"/><circle cx="173.4" cy="388.8" r="1.8"/><circle cx="170.7" cy="373.9" r="1.8"/><circle cx="183.9" cy="370.8" r="1.8"/><circle cx="170.5" cy="370.5" r="1.8"/><circle cx="210.7" cy="371.5" r="1.8"/><circle cx="219.1" cy="362.9" r="1.8"/><circle cx="210.9" cy="380.0" r="1.8"/><circle cx="210.7" cy="373.7" r="1.8"/><circle cx="220.1" cy="390.8" r="1.8"/><circle cx="213.1" cy="358.6" r="1.8"/><circle cx="150.2" cy="352.2" r="1.8"/><circle cx="189.1" cy="383.7" r="1.8"/><circle cx="182.0" cy="377.4" r="1.8"/><circle cx="125.4" cy="357.7" r="1.8"/><circle cx="203.3" cy="385.9" r="1.8"/><circle cx="144.6" cy="361.7" r="1.8"/><circle cx="217.0" cy="383.2" r="1.8"/><circle cx="195.3" cy="379.9" r="1.8"/><circle cx="132.9" cy="361.0" r="1.8"/><circle cx="185.8" cy="382.3" r="1.8"/><circle cx="189.4" cy="369.2" r="1.8"/><circle cx="170.4" cy="326.9" r="1.8"/><circle cx="246.8" cy="391.3" r="1.8"/><circle cx="238.8" cy="361.4" r="1.8"/><circle cx="146.5" cy="366.6" r="1.8"/><circle cx="213.5" cy="387.3" r="1.8"/><circle cx="173.7" cy="383.2" r="1.8"/><circle cx="232.1" cy="350.7" r="1.8"/><circle cx="240.2" cy="373.0" r="1.8"/><circle cx="192.5" cy="324.7" r="1.8"/><circle cx="209.2" cy="376.8" r="1.8"/><circle cx="180.6" cy="376.4" r="1.8"/><circle cx="212.7" cy="378.2" r="1.8"/><circle cx="243.3" cy="376.7" r="1.8"/><circle cx="168.7" cy="370.5" r="1.8"/><circle cx="135.8" cy="377.5" r="1.8"/><circle cx="240.9" cy="370.1" r="1.8"/><circle cx="131.7" cy="381.9" r="1.8"/><circle cx="220.1" cy="323.1" r="1.8"/><circle cx="199.6" cy="356.0" r="1.8"/><circle cx="187.7" cy="346.9" r="1.8"/><circle cx="232.3" cy="373.5" r="1.8"/><circle cx="143.5" cy="375.3" r="1.8"/><circle cx="154.8" cy="350.9" r="1.8"/><circle cx="223.0" cy="392.0" r="1.8"/><circle cx="129.1" cy="364.9" r="1.8"/><circle cx="159.5" cy="322.2" r="1.8"/><circle cx="146.8" cy="379.9" r="1.8"/><circle cx="189.1" cy="343.3" r="1.8"/><circle cx="218.7" cy="327.6" r="1.8"/><circle cx="235.1" cy="364.2" r="1.8"/><circle cx="154.8" cy="366.7" r="1.8"/><circle cx="135.9" cy="359.9" r="1.8"/><circle cx="218.6" cy="362.8" r="1.8"/><circle cx="231.0" cy="347.5" r="1.8"/><circle cx="137.2" cy="367.2" r="1.8"/><circle cx="192.1" cy="382.0" r="1.8"/><circle cx="195.5" cy="364.0" r="1.8"/><circle cx="204.1" cy="372.1" r="1.8"/><circle cx="186.6" cy="352.6" r="1.8"/><circle cx="160.8" cy="343.1" r="1.8"/><circle cx="238.7" cy="366.9" r="1.8"/><circle cx="154.6" cy="335.9" r="1.8"/><circle cx="234.1" cy="373.1" r="1.8"/><circle cx="234.1" cy="382.9" r="1.8"/><circle cx="213.2" cy="366.5" r="1.8"/><circle cx="166.6" cy="360.4" r="1.8"/><circle cx="239.3" cy="366.5" r="1.8"/><circle cx="151.3" cy="388.4" r="1.8"/><circle cx="186.4" cy="356.1" r="1.8"/><circle cx="187.2" cy="361.7" r="1.8"/><circle cx="147.8" cy="380.4" r="1.8"/><circle cx="233.5" cy="361.1" r="1.8"/><circle cx="149.0" cy="386.9" r="1.8"/><circle cx="183.1" cy="351.0" r="1.8"/><circle cx="138.0" cy="333.5" r="1.8"/><circle cx="157.0" cy="371.0" r="1.8"/><circle cx="212.4" cy="379.4" r="1.8"/><circle cx="211.9" cy="376.8" r="1.8"/><circle cx="176.8" cy="363.6" r="1.8"/><circle cx="218.7" cy="388.5" r="1.8"/><circle cx="153.9" cy="388.7" r="1.8"/><circle cx="215.6" cy="372.6" r="1.8"/><circle cx="235.9" cy="384.3" r="1.8"/><circle cx="129.3" cy="380.8" r="1.8"/><circle cx="167.4" cy="355.7" r="1.8"/><circle cx="152.6" cy="346.2" r="1.8"/><circle cx="141.6" cy="344.4" r="1.8"/><circle cx="234.6" cy="343.4" r="1.8"/><circle cx="203.0" cy="381.6" r="1.8"/><circle cx="208.0" cy="361.9" r="1.8"/><circle cx="207.1" cy="345.9" r="1.8"/><circle cx="210.1" cy="374.5" r="1.8"/><circle cx="167.6" cy="361.3" r="1.8"/><circle cx="162.9" cy="335.9" r="1.8"/><circle cx="138.1" cy="370.7" r="1.8"/><circle cx="139.8" cy="385.8" r="1.8"/><circle cx="147.2" cy="382.5" r="1.8"/><circle cx="225.8" cy="391.3" r="1.8"/><circle cx="168.4" cy="369.1" r="1.8"/><circle cx="165.7" cy="392.1" r="1.8"/><circle cx="222.9" cy="367.0" r="1.8"/><circle cx="242.7" cy="377.3" r="1.8"/><circle cx="151.5" cy="384.9" r="1.8"/><circle cx="204.2" cy="368.1" r="1.8"/><circle cx="175.5" cy="352.0" r="1.8"/><circle cx="151.5" cy="380.9" r="1.8"/><circle cx="215.1" cy="359.4" r="1.8"/><circle cx="159.2" cy="365.9" r="1.8"/><circle cx="197.4" cy="359.5" r="1.8"/><circle cx="190.6" cy="381.1" r="1.8"/><circle cx="126.8" cy="371.5" r="1.8"/><circle cx="233.1" cy="351.0" r="1.8"/><circle cx="229.4" cy="383.2" r="1.8"/><circle cx="224.8" cy="325.7" r="1.8"/><circle cx="186.8" cy="390.8" r="1.8"/><circle cx="177.3" cy="391.8" r="1.8"/><circle cx="215.7" cy="340.9" r="1.8"/><circle cx="241.6" cy="327.6" r="1.8"/><circle cx="182.0" cy="376.5" r="1.8"/><circle cx="169.0" cy="372.0" r="1.8"/><circle cx="176.1" cy="354.4" r="1.8"/><circle cx="188.9" cy="370.8" r="1.8"/><circle cx="201.4" cy="341.3" r="1.8"/><circle cx="238.3" cy="366.7" r="1.8"/><circle cx="195.1" cy="376.3" r="1.8"/><circle cx="212.9" cy="389.5" r="1.8"/><circle cx="176.5" cy="364.6" r="1.8"/><circle cx="185.3" cy="350.3" r="1.8"/><circle cx="237.6" cy="390.5" r="1.8"/><circle cx="156.9" cy="377.4" r="1.8"/><circle cx="166.5" cy="344.8" r="1.8"/><circle cx="194.3" cy="339.5" r="1.8"/><circle cx="149.1" cy="364.5" r="1.8"/><circle cx="144.8" cy="353.2" r="1.8"/><circle cx="198.3" cy="370.4" r="1.8"/><circle cx="202.0" cy="362.6" r="1.8"/><circle cx="251.5" cy="390.8" r="1.8"/><circle cx="148.7" cy="385.4" r="1.8"/><circle cx="129.0" cy="380.6" r="1.8"/><circle cx="207.5" cy="337.2" r="1.8"/><circle cx="234.9" cy="384.8" r="1.8"/><circle cx="146.8" cy="367.7" r="1.8"/><circle cx="156.2" cy="387.1" r="1.8"/><circle cx="205.6" cy="336.4" r="1.8"/><circle cx="207.6" cy="345.9" r="1.8"/><circle cx="233.1" cy="346.9" r="1.8"/><circle cx="200.1" cy="381.1" r="1.8"/><circle cx="233.8" cy="390.5" r="1.8"/><circle cx="166.5" cy="381.3" r="1.8"/><circle cx="209.8" cy="357.4" r="1.8"/><circle cx="199.4" cy="334.0" r="1.8"/><circle cx="180.9" cy="391.0" r="1.8"/><circle cx="213.2" cy="348.8" r="1.8"/><circle cx="211.4" cy="388.3" r="1.8"/><circle cx="203.9" cy="368.8" r="1.8"/><circle cx="219.4" cy="366.1" r="1.8"/><circle cx="186.0" cy="369.7" r="1.8"/><circle cx="234.3" cy="337.8" r="1.8"/><circle cx="164.4" cy="349.1" r="1.8"/><circle cx="210.4" cy="383.6" r="1.8"/><circle cx="200.8" cy="371.4" r="1.8"/><circle cx="194.9" cy="380.3" r="1.8"/><circle cx="234.9" cy="365.1" r="1.8"/><circle cx="209.7" cy="366.7" r="1.8"/><circle cx="196.6" cy="381.4" r="1.8"/><circle cx="221.8" cy="376.5" r="1.8"/><circle cx="213.4" cy="366.9" r="1.8"/><circle cx="167.1" cy="370.5" r="1.8"/><circle cx="158.9" cy="391.7" r="1.8"/><circle cx="203.1" cy="330.1" r="1.8"/><circle cx="146.3" cy="364.9" r="1.8"/><circle cx="224.4" cy="342.3" r="1.8"/><circle cx="224.5" cy="342.1" r="1.8"/><circle cx="208.3" cy="337.0" r="1.8"/><circle cx="168.5" cy="386.7" r="1.8"/><circle cx="244.0" cy="368.5" r="1.8"/><circle cx="216.1" cy="377.7" r="1.8"/><circle cx="233.6" cy="356.8" r="1.8"/><circle cx="217.1" cy="368.9" r="1.8"/><circle cx="195.3" cy="366.5" r="1.8"/><circle cx="157.7" cy="386.8" r="1.8"/><circle cx="156.0" cy="338.7" r="1.8"/><circle cx="229.5" cy="348.4" r="1.8"/><circle cx="195.3" cy="348.8" r="1.8"/><circle cx="159.7" cy="374.6" r="1.8"/><circle cx="151.9" cy="369.1" r="1.8"/><circle cx="173.1" cy="382.2" r="1.8"/><circle cx="202.9" cy="392.1" r="1.8"/><circle cx="223.5" cy="390.1" r="1.8"/><circle cx="181.0" cy="357.3" r="1.8"/><circle cx="154.7" cy="369.2" r="1.8"/><circle cx="214.1" cy="370.2" r="1.8"/><circle cx="138.5" cy="384.8" r="1.8"/><circle cx="144.3" cy="373.8" r="1.8"/><circle cx="171.0" cy="347.7" r="1.8"/><circle cx="198.5" cy="335.8" r="1.8"/><circle cx="136.1" cy="360.3" r="1.8"/><circle cx="142.6" cy="379.3" r="1.8"/><circle cx="209.7" cy="349.3" r="1.8"/><circle cx="178.0" cy="369.0" r="1.8"/><circle cx="179.2" cy="368.3" r="1.8"/><circle cx="179.2" cy="393.9" r="1.8"/><circle cx="143.7" cy="379.5" r="1.8"/><circle cx="245.4" cy="389.4" r="1.8"/><circle cx="235.0" cy="376.0" r="1.8"/><circle cx="220.2" cy="363.3" r="1.8"/><circle cx="204.7" cy="371.1" r="1.8"/><circle cx="223.2" cy="371.6" r="1.8"/><circle cx="170.7" cy="332.0" r="1.8"/><circle cx="149.8" cy="351.4" r="1.8"/><circle cx="216.4" cy="361.1" r="1.8"/><circle cx="205.9" cy="350.0" r="1.8"/><circle cx="174.5" cy="367.3" r="1.8"/><circle cx="168.0" cy="387.7" r="1.8"/><circle cx="250.0" cy="352.7" r="1.8"/><circle cx="137.5" cy="333.1" r="1.8"/><circle cx="163.5" cy="374.3" r="1.8"/><circle cx="205.7" cy="390.7" r="1.8"/><circle cx="207.1" cy="368.2" r="1.8"/><circle cx="233.8" cy="388.6" r="1.8"/><circle cx="223.2" cy="355.3" r="1.8"/><circle cx="204.3" cy="374.9" r="1.8"/><circle cx="216.3" cy="385.7" r="1.8"/><circle cx="233.5" cy="384.5" r="1.8"/><circle cx="206.0" cy="378.1" r="1.8"/><circle cx="217.4" cy="393.0" r="1.8"/><circle cx="227.6" cy="376.5" r="1.8"/><circle cx="220.2" cy="370.5" r="1.8"/><circle cx="235.6" cy="365.3" r="1.8"/><circle cx="222.8" cy="389.5" r="1.8"/><circle cx="238.6" cy="385.8" r="1.8"/><circle cx="227.8" cy="387.3" r="1.8"/><circle cx="227.3" cy="385.5" r="1.8"/><circle cx="210.4" cy="357.7" r="1.8"/><circle cx="227.4" cy="380.4" r="1.8"/><circle cx="192.5" cy="363.8" r="1.8"/><circle cx="209.9" cy="374.6" r="1.8"/><circle cx="226.0" cy="353.0" r="1.8"/><circle cx="231.7" cy="380.5" r="1.8"/><circle cx="243.4" cy="367.9" r="1.8"/><circle cx="233.9" cy="381.9" r="1.8"/><circle cx="249.2" cy="389.2" r="1.8"/><circle cx="233.2" cy="366.3" r="1.8"/><circle cx="204.8" cy="376.0" r="1.8"/><circle cx="234.7" cy="368.4" r="1.8"/><circle cx="207.9" cy="360.5" r="1.8"/><circle cx="214.7" cy="382.4" r="1.8"/><circle cx="230.4" cy="379.8" r="1.8"/><circle cx="223.8" cy="383.6" r="1.8"/><circle cx="238.1" cy="393.1" r="1.8"/><circle cx="205.7" cy="381.6" r="1.8"/><circle cx="228.1" cy="385.9" r="1.8"/><circle cx="214.9" cy="387.9" r="1.8"/><circle cx="237.4" cy="386.1" r="1.8"/><circle cx="244.6" cy="381.0" r="1.8"/><circle cx="216.6" cy="379.8" r="1.8"/><circle cx="211.0" cy="376.6" r="1.8"/><circle cx="214.9" cy="379.3" r="1.8"/><circle cx="208.6" cy="377.8" r="1.8"/><circle cx="216.9" cy="382.3" r="1.8"/><circle cx="223.8" cy="372.0" r="1.8"/><circle cx="225.8" cy="373.7" r="1.8"/><circle cx="212.3" cy="371.4" r="1.8"/><circle cx="202.0" cy="373.8" r="1.8"/><circle cx="201.9" cy="374.7" r="1.8"/><circle cx="217.7" cy="385.6" r="1.8"/><circle cx="201.2" cy="357.7" r="1.8"/><circle cx="197.8" cy="392.3" r="1.8"/><circle cx="237.0" cy="369.1" r="1.8"/><circle cx="213.6" cy="376.9" r="1.8"/><circle cx="204.7" cy="365.8" r="1.8"/><circle cx="202.9" cy="383.0" r="1.8"/><circle cx="219.5" cy="381.1" r="1.8"/><circle cx="216.7" cy="375.9" r="1.8"/><circle cx="211.1" cy="381.2" r="1.8"/><circle cx="230.8" cy="388.5" r="1.8"/><circle cx="230.9" cy="382.7" r="1.8"/><circle cx="215.2" cy="372.8" r="1.8"/><circle cx="227.3" cy="371.4" r="1.8"/><circle cx="213.5" cy="390.6" r="1.8"/><circle cx="221.5" cy="389.0" r="1.8"/><circle cx="236.2" cy="373.7" r="1.8"/><circle cx="204.8" cy="383.0" r="1.8"/><circle cx="220.6" cy="366.8" r="1.8"/><circle cx="220.0" cy="385.6" r="1.8"/><circle cx="220.0" cy="384.0" r="1.8"/><circle cx="229.6" cy="385.9" r="1.8"/><circle cx="237.0" cy="372.5" r="1.8"/><circle cx="238.6" cy="392.7" r="1.8"/><circle cx="238.4" cy="379.9" r="1.8"/><circle cx="194.1" cy="390.6" r="1.8"/><circle cx="209.6" cy="384.6" r="1.8"/><circle cx="216.4" cy="389.2" r="1.8"/><circle cx="201.5" cy="383.3" r="1.8"/><circle cx="213.4" cy="386.6" r="1.8"/><circle cx="207.6" cy="377.9" r="1.8"/><circle cx="266.3" cy="230.3" r="1.8"/><circle cx="266.3" cy="246.7" r="1.8"/><circle cx="267.9" cy="265.4" r="1.8"/><circle cx="272.8" cy="280.2" r="1.8"/><circle cx="259.2" cy="373.9" r="1.8"/><circle cx="260.8" cy="269.3" r="1.8"/><circle cx="261.5" cy="292.9" r="1.8"/><circle cx="263.0" cy="339.2" r="1.8"/><circle cx="268.1" cy="356.2" r="1.8"/><circle cx="263.8" cy="385.9" r="1.8"/><circle cx="262.9" cy="334.0" r="1.8"/><circle cx="261.1" cy="298.2" r="1.8"/><circle cx="262.8" cy="325.2" r="1.8"/><circle cx="263.5" cy="195.3" r="1.8"/><circle cx="264.6" cy="344.8" r="1.8"/><circle cx="260.0" cy="215.3" r="1.8"/><circle cx="264.7" cy="370.0" r="1.8"/><circle cx="267.0" cy="367.1" r="1.8"/><circle cx="266.2" cy="312.8" r="1.8"/><circle cx="260.6" cy="376.1" r="1.8"/><circle cx="267.9" cy="187.3" r="1.8"/><circle cx="267.8" cy="188.2" r="1.8"/><circle cx="266.0" cy="281.0" r="1.8"/><circle cx="260.7" cy="210.4" r="1.8"/><circle cx="259.8" cy="158.0" r="1.8"/><circle cx="265.1" cy="389.0" r="1.8"/><circle cx="261.4" cy="269.2" r="1.8"/><circle cx="260.3" cy="352.6" r="1.8"/><circle cx="268.1" cy="232.1" r="1.8"/><circle cx="268.2" cy="312.7" r="1.8"/><circle cx="267.2" cy="177.8" r="1.8"/><circle cx="269.6" cy="313.3" r="1.8"/><circle cx="268.1" cy="332.6" r="1.8"/><circle cx="260.9" cy="314.0" r="1.8"/><circle cx="269.0" cy="284.3" r="1.8"/><circle cx="265.4" cy="319.0" r="1.8"/><circle cx="266.5" cy="224.4" r="1.8"/><circle cx="270.5" cy="316.5" r="1.8"/><circle cx="266.5" cy="242.7" r="1.8"/><circle cx="270.5" cy="193.1" r="1.8"/><circle cx="265.2" cy="259.8" r="1.8"/><circle cx="263.7" cy="336.6" r="1.8"/><circle cx="262.5" cy="229.2" r="1.8"/><circle cx="264.5" cy="341.9" r="1.8"/><circle cx="259.1" cy="241.3" r="1.8"/><circle cx="264.8" cy="287.2" r="1.8"/><circle cx="264.6" cy="174.2" r="1.8"/><circle cx="263.1" cy="222.7" r="1.8"/><circle cx="257.2" cy="326.2" r="1.8"/><circle cx="257.5" cy="383.7" r="1.8"/><circle cx="267.5" cy="237.9" r="1.8"/><circle cx="261.6" cy="326.3" r="1.8"/><circle cx="269.8" cy="355.1" r="1.8"/><circle cx="262.5" cy="353.4" r="1.8"/><circle cx="266.3" cy="386.0" r="1.8"/><circle cx="259.9" cy="192.7" r="1.8"/><circle cx="262.8" cy="321.7" r="1.8"/><circle cx="264.2" cy="229.6" r="1.8"/><circle cx="267.0" cy="173.6" r="1.8"/><circle cx="270.9" cy="283.5" r="1.8"/><circle cx="268.4" cy="388.8" r="1.8"/><circle cx="259.9" cy="247.0" r="1.8"/><circle cx="265.0" cy="220.7" r="1.8"/><circle cx="264.4" cy="377.1" r="1.8"/><circle cx="262.8" cy="335.5" r="1.8"/><circle cx="267.1" cy="196.2" r="1.8"/><circle cx="270.5" cy="168.0" r="1.8"/><circle cx="263.4" cy="182.8" r="1.8"/><circle cx="268.9" cy="195.7" r="1.8"/><circle cx="269.9" cy="361.1" r="1.8"/><circle cx="261.3" cy="330.6" r="1.8"/><circle cx="271.2" cy="212.9" r="1.8"/><circle cx="270.9" cy="257.4" r="1.8"/><circle cx="266.0" cy="271.2" r="1.8"/><circle cx="271.0" cy="352.3" r="1.8"/><circle cx="265.9" cy="385.1" r="1.8"/><circle cx="269.0" cy="178.0" r="1.8"/><circle cx="267.3" cy="174.3" r="1.8"/><circle cx="262.0" cy="299.1" r="1.8"/><circle cx="265.9" cy="179.0" r="1.8"/><circle cx="264.4" cy="260.7" r="1.8"/><circle cx="263.3" cy="314.4" r="1.8"/><circle cx="261.0" cy="266.6" r="1.8"/><circle cx="262.3" cy="196.7" r="1.8"/><circle cx="260.7" cy="237.7" r="1.8"/><circle cx="269.0" cy="289.0" r="1.8"/><circle cx="258.1" cy="204.0" r="1.8"/><circle cx="265.3" cy="378.1" r="1.8"/><circle cx="262.9" cy="225.0" r="1.8"/><circle cx="260.6" cy="354.0" r="1.8"/><circle cx="267.5" cy="214.4" r="1.8"/><circle cx="262.2" cy="286.2" r="1.8"/><circle cx="269.2" cy="354.6" r="1.8"/><circle cx="264.4" cy="317.6" r="1.8"/><circle cx="266.2" cy="191.7" r="1.8"/><circle cx="318.8" cy="327.0" r="1.8"/><circle cx="314.0" cy="243.6" r="1.8"/><circle cx="315.7" cy="346.2" r="1.8"/><circle cx="318.5" cy="349.3" r="1.8"/><circle cx="318.4" cy="238.0" r="1.8"/><circle cx="321.8" cy="238.5" r="1.8"/><circle cx="321.0" cy="313.8" r="1.8"/><circle cx="319.7" cy="321.8" r="1.8"/><circle cx="316.9" cy="196.6" r="1.8"/><circle cx="317.9" cy="383.2" r="1.8"/><circle cx="317.1" cy="237.4" r="1.8"/><circle cx="324.0" cy="174.8" r="1.8"/><circle cx="319.6" cy="214.4" r="1.8"/><circle cx="315.7" cy="225.0" r="1.8"/><circle cx="315.1" cy="252.8" r="1.8"/><circle cx="322.3" cy="187.6" r="1.8"/><circle cx="315.0" cy="243.1" r="1.8"/><circle cx="319.3" cy="372.3" r="1.8"/><circle cx="321.7" cy="174.4" r="1.8"/><circle cx="315.0" cy="180.6" r="1.8"/><circle cx="319.6" cy="216.0" r="1.8"/><circle cx="318.7" cy="167.8" r="1.8"/><circle cx="320.8" cy="156.9" r="1.8"/><circle cx="322.7" cy="235.8" r="1.8"/><circle cx="318.4" cy="225.5" r="1.8"/><circle cx="317.2" cy="111.7" r="1.8"/><circle cx="321.0" cy="245.2" r="1.8"/><circle cx="313.1" cy="253.2" r="1.8"/><circle cx="318.7" cy="371.8" r="1.8"/><circle cx="314.6" cy="351.7" r="1.8"/><circle cx="313.8" cy="291.1" r="1.8"/><circle cx="312.6" cy="260.6" r="1.8"/><circle cx="312.3" cy="140.0" r="1.8"/><circle cx="320.9" cy="267.9" r="1.8"/><circle cx="321.0" cy="368.6" r="1.8"/><circle cx="318.4" cy="391.6" r="1.8"/><circle cx="321.6" cy="365.0" r="1.8"/><circle cx="318.1" cy="330.2" r="1.8"/><circle cx="316.3" cy="202.6" r="1.8"/><circle cx="314.3" cy="143.2" r="1.8"/><circle cx="320.7" cy="169.5" r="1.8"/><circle cx="320.8" cy="230.8" r="1.8"/><circle cx="322.4" cy="128.6" r="1.8"/><circle cx="315.3" cy="193.7" r="1.8"/><circle cx="317.1" cy="376.8" r="1.8"/><circle cx="313.4" cy="313.2" r="1.8"/><circle cx="322.0" cy="306.3" r="1.8"/><circle cx="320.5" cy="150.3" r="1.8"/><circle cx="319.8" cy="250.8" r="1.8"/><circle cx="318.0" cy="245.2" r="1.8"/><circle cx="317.5" cy="389.7" r="1.8"/><circle cx="316.8" cy="286.9" r="1.8"/><circle cx="321.8" cy="173.1" r="1.8"/><circle cx="315.9" cy="180.2" r="1.8"/><circle cx="321.1" cy="132.8" r="1.8"/><circle cx="319.1" cy="234.1" r="1.8"/><circle cx="314.6" cy="297.2" r="1.8"/><circle cx="313.1" cy="210.9" r="1.8"/><circle cx="315.4" cy="362.8" r="1.8"/><circle cx="317.9" cy="323.1" r="1.8"/><circle cx="313.6" cy="265.7" r="1.8"/><circle cx="320.2" cy="234.6" r="1.8"/><circle cx="322.0" cy="279.5" r="1.8"/><circle cx="319.9" cy="291.6" r="1.8"/><circle cx="312.2" cy="312.6" r="1.8"/><circle cx="309.9" cy="188.2" r="1.8"/><circle cx="321.1" cy="217.1" r="1.8"/><circle cx="323.2" cy="163.1" r="1.8"/><circle cx="316.7" cy="127.7" r="1.8"/><circle cx="319.9" cy="186.7" r="1.8"/><circle cx="317.1" cy="181.7" r="1.8"/><circle cx="315.9" cy="189.2" r="1.8"/><circle cx="321.5" cy="234.7" r="1.8"/><circle cx="316.2" cy="216.4" r="1.8"/><circle cx="338.1" cy="351.5" r="1.8"/><circle cx="335.8" cy="367.3" r="1.8"/><circle cx="336.6" cy="377.7" r="1.8"/><circle cx="353.0" cy="323.0" r="1.8"/><circle cx="347.7" cy="388.1" r="1.8"/><circle cx="317.0" cy="303.1" r="1.8"/><circle cx="307.3" cy="298.0" r="1.8"/><circle cx="303.9" cy="360.1" r="1.8"/><circle cx="286.6" cy="374.7" r="1.8"/><circle cx="285.3" cy="261.5" r="1.8"/><circle cx="327.7" cy="331.4" r="1.8"/><circle cx="338.3" cy="314.0" r="1.8"/><circle cx="335.0" cy="263.5" r="1.8"/><circle cx="326.2" cy="264.3" r="1.8"/><circle cx="291.1" cy="363.6" r="1.8"/><circle cx="312.6" cy="383.6" r="1.8"/><circle cx="345.1" cy="327.8" r="1.8"/><circle cx="334.9" cy="282.2" r="1.8"/><circle cx="301.6" cy="386.7" r="1.8"/><circle cx="306.6" cy="315.2" r="1.8"/><circle cx="282.5" cy="271.6" r="1.8"/><circle cx="302.1" cy="360.8" r="1.8"/><circle cx="296.6" cy="345.1" r="1.8"/><circle cx="297.0" cy="367.6" r="1.8"/><circle cx="351.0" cy="303.5" r="1.8"/><circle cx="281.6" cy="298.8" r="1.8"/><circle cx="318.8" cy="275.6" r="1.8"/><circle cx="286.4" cy="331.4" r="1.8"/><circle cx="300.8" cy="302.2" r="1.8"/><circle cx="322.8" cy="346.7" r="1.8"/><circle cx="291.8" cy="373.6" r="1.8"/><circle cx="324.8" cy="370.0" r="1.8"/><circle cx="311.2" cy="250.7" r="1.8"/><circle cx="317.4" cy="340.3" r="1.8"/><circle cx="322.0" cy="258.5" r="1.8"/><circle cx="318.9" cy="297.7" r="1.8"/><circle cx="301.0" cy="293.7" r="1.8"/><circle cx="286.8" cy="330.9" r="1.8"/><circle cx="328.8" cy="264.4" r="1.8"/><circle cx="296.8" cy="291.4" r="1.8"/><circle cx="330.6" cy="380.8" r="1.8"/><circle cx="334.2" cy="243.3" r="1.8"/><circle cx="311.5" cy="293.1" r="1.8"/><circle cx="297.4" cy="326.3" r="1.8"/><circle cx="301.1" cy="262.8" r="1.8"/><circle cx="315.3" cy="287.4" r="1.8"/><circle cx="332.3" cy="336.2" r="1.8"/><circle cx="355.2" cy="306.8" r="1.8"/><circle cx="307.6" cy="329.9" r="1.8"/><circle cx="304.3" cy="382.1" r="1.8"/><circle cx="305.2" cy="259.7" r="1.8"/><circle cx="345.2" cy="338.9" r="1.8"/><circle cx="298.2" cy="270.8" r="1.8"/><circle cx="307.1" cy="305.3" r="1.8"/><circle cx="291.5" cy="353.1" r="1.8"/><circle cx="327.6" cy="384.2" r="1.8"/><circle cx="312.6" cy="322.5" r="1.8"/><circle cx="342.9" cy="333.5" r="1.8"/><circle cx="326.4" cy="308.0" r="1.8"/><circle cx="326.9" cy="263.6" r="1.8"/><circle cx="329.6" cy="265.1" r="1.8"/><circle cx="323.2" cy="342.8" r="1.8"/><circle cx="293.6" cy="374.0" r="1.8"/><circle cx="281.0" cy="281.5" r="1.8"/><circle cx="301.3" cy="355.0" r="1.8"/><circle cx="286.3" cy="334.7" r="1.8"/><circle cx="301.8" cy="293.4" r="1.8"/><circle cx="314.7" cy="344.1" r="1.8"/><circle cx="314.5" cy="261.1" r="1.8"/><circle cx="307.1" cy="282.5" r="1.8"/><circle cx="309.2" cy="350.1" r="1.8"/><circle cx="307.6" cy="299.2" r="1.8"/><circle cx="223.2" cy="281.1" r="1.8"/><circle cx="115.7" cy="282.5" r="1.8"/><circle cx="273.7" cy="295.2" r="1.8"/><circle cx="159.2" cy="387.5" r="1.8"/><circle cx="328.9" cy="268.3" r="1.8"/><circle cx="181.0" cy="303.0" r="1.8"/><circle cx="263.7" cy="239.1" r="1.8"/><circle cx="239.4" cy="266.7" r="1.8"/><circle cx="124.2" cy="201.1" r="1.8"/><circle cx="280.2" cy="364.7" r="1.8"/><circle cx="373.4" cy="341.3" r="1.8"/><circle cx="96.6" cy="351.0" r="1.8"/><circle cx="260.9" cy="340.4" r="1.8"/><circle cx="289.2" cy="210.8" r="1.8"/><circle cx="333.1" cy="312.1" r="1.8"/><circle cx="166.9" cy="215.6" r="1.8"/><circle cx="322.2" cy="308.5" r="1.8"/><circle cx="293.8" cy="205.5" r="1.8"/><circle cx="137.8" cy="216.6" r="1.8"/><circle cx="305.0" cy="214.9" r="1.8"/><circle cx="214.9" cy="299.6" r="1.8"/><circle cx="138.8" cy="210.1" r="1.8"/><circle cx="159.1" cy="258.0" r="1.8"/><circle cx="184.0" cy="256.0" r="1.8"/><circle cx="306.8" cy="388.8" r="1.8"/><circle cx="117.8" cy="344.7" r="1.8"/><circle cx="269.4" cy="307.8" r="1.8"/><circle cx="316.4" cy="346.4" r="1.8"/><circle cx="229.4" cy="187.4" r="1.8"/><circle cx="352.8" cy="248.0" r="1.8"/><circle cx="287.3" cy="241.4" r="1.8"/><circle cx="228.7" cy="319.2" r="1.8"/><circle cx="382.3" cy="212.3" r="1.8"/><circle cx="242.1" cy="380.4" r="1.8"/><circle cx="111.5" cy="237.6" r="1.8"/><circle cx="133.1" cy="360.1" r="1.8"/><circle cx="326.0" cy="358.6" r="1.8"/><circle cx="341.2" cy="267.0" r="1.8"/><circle cx="194.9" cy="180.2" r="1.8"/><circle cx="190.4" cy="204.0" r="1.8"/><circle cx="140.0" cy="268.8" r="1.8"/><circle cx="326.8" cy="336.1" r="1.8"/><circle cx="382.5" cy="277.6" r="1.8"/><circle cx="359.2" cy="378.3" r="1.8"/><circle cx="221.8" cy="372.6" r="1.8"/><circle cx="344.0" cy="255.3" r="1.8"/><circle cx="136.2" cy="384.3" r="1.8"/><circle cx="93.6" cy="278.6" r="1.8"/><circle cx="273.7" cy="111.3" r="1.8"/><circle cx="213.8" cy="86.4" r="1.8"/><circle cx="141.5" cy="150.4" r="1.8"/><circle cx="188.8" cy="115.5" r="1.8"/><circle cx="254.0" cy="168.8" r="1.8"/><circle cx="214.0" cy="106.2" r="1.8"/><circle cx="251.2" cy="120.1" r="1.8"/><circle cx="167.0" cy="121.6" r="1.8"/><circle cx="245.0" cy="132.4" r="1.8"/><circle cx="226.7" cy="168.8" r="1.8"/><circle cx="156.0" cy="97.4" r="1.8"/><circle cx="289.6" cy="108.4" r="1.8"/><circle cx="286.0" cy="97.9" r="1.8"/><circle cx="166.3" cy="87.4" r="1.8"/><circle cx="262.0" cy="60.9" r="1.8"/><circle cx="295.5" cy="158.8" r="1.8"/><circle cx="229.9" cy="116.1" r="1.8"/><circle cx="294.4" cy="145.6" r="1.8"/><circle cx="196.2" cy="205.9" r="1.8"/><circle cx="208.2" cy="230.9" r="1.8"/><circle cx="164.3" cy="257.2" r="1.8"/><circle cx="144.3" cy="226.1" r="1.8"/><circle cx="154.5" cy="246.4" r="1.8"/><circle cx="199.6" cy="313.9" r="1.8"/><circle cx="169.9" cy="203.1" r="1.8"/><circle cx="248.6" cy="205.6" r="1.8"/><circle cx="205.3" cy="269.8" r="1.8"/><circle cx="166.7" cy="293.0" r="1.8"/><circle cx="207.3" cy="234.9" r="1.8"/><circle cx="152.3" cy="209.7" r="1.8"/><circle cx="206.5" cy="241.8" r="1.8"/><circle cx="160.8" cy="289.8" r="1.8"/><circle cx="213.0" cy="239.3" r="1.8"/><circle cx="177.4" cy="262.5" r="1.8"/><circle cx="210.4" cy="251.3" r="1.8"/><circle cx="215.6" cy="311.4" r="1.8"/><circle cx="160.9" cy="279.4" r="1.8"/><circle cx="146.5" cy="255.6" r="1.8"/><circle cx="169.7" cy="242.2" r="1.8"/><circle cx="234.1" cy="218.6" r="1.8"/><circle cx="245.3" cy="290.5" r="1.8"/><circle cx="209.9" cy="220.6" r="1.8"/><circle cx="157.5" cy="228.5" r="1.8"/><circle cx="218.5" cy="237.0" r="1.8"/><circle cx="171.5" cy="279.3" r="1.8"/><circle cx="160.4" cy="260.2" r="1.8"/><circle cx="224.0" cy="206.9" r="1.8"/><circle cx="236.9" cy="267.7" r="1.8"/><circle cx="194.6" cy="279.1" r="1.8"/><circle cx="191.1" cy="289.2" r="1.8"/><circle cx="238.6" cy="230.2" r="1.8"/><circle cx="136.9" cy="209.4" r="1.8"/><circle cx="230.2" cy="246.2" r="1.8"/><circle cx="245.4" cy="221.5" r="1.8"/><circle cx="234.4" cy="309.5" r="1.8"/><circle cx="191.6" cy="282.3" r="1.8"/><circle cx="229.8" cy="230.2" r="1.8"/><circle cx="194.2" cy="296.5" r="1.8"/><circle cx="186.6" cy="266.3" r="1.8"/><circle cx="192.7" cy="203.9" r="1.8"/><circle cx="146.7" cy="231.3" r="1.8"/><circle cx="134.5" cy="231.1" r="1.8"/><circle cx="192.2" cy="317.3" r="1.8"/><circle cx="197.7" cy="279.4" r="1.8"/><circle cx="149.2" cy="222.2" r="1.8"/><circle cx="219.2" cy="296.4" r="1.8"/><circle cx="150.9" cy="247.6" r="1.8"/><circle cx="156.2" cy="312.1" r="1.8"/><circle cx="191.9" cy="271.4" r="1.8"/><circle cx="217.8" cy="193.5" r="1.8"/><circle cx="198.9" cy="240.1" r="1.8"/><circle cx="236.0" cy="275.5" r="1.8"/><circle cx="218.4" cy="242.0" r="1.8"/><circle cx="205.1" cy="280.1" r="1.8"/><circle cx="224.3" cy="206.8" r="1.8"/><circle cx="182.5" cy="199.2" r="1.8"/><circle cx="196.8" cy="215.3" r="1.8"/><circle cx="212.5" cy="263.2" r="1.8"/><circle cx="145.7" cy="225.4" r="1.8"/><circle cx="162.1" cy="300.5" r="1.8"/><circle cx="232.0" cy="301.4" r="1.8"/><circle cx="172.7" cy="216.5" r="1.8"/><circle cx="238.8" cy="203.1" r="1.8"/><circle cx="136.9" cy="286.2" r="1.8"/><circle cx="177.6" cy="289.9" r="1.8"/><circle cx="164.5" cy="320.4" r="1.8"/><circle cx="133.5" cy="255.5" r="1.8"/><circle cx="228.5" cy="202.2" r="1.8"/><circle cx="162.3" cy="299.4" r="1.8"/><circle cx="210.8" cy="273.3" r="1.8"/><circle cx="132.8" cy="308.5" r="1.8"/><circle cx="213.9" cy="241.1" r="1.8"/><circle cx="193.4" cy="209.5" r="1.8"/><circle cx="189.7" cy="192.5" r="1.8"/><circle cx="225.1" cy="314.6" r="1.8"/><circle cx="169.9" cy="237.6" r="1.8"/><circle cx="221.1" cy="219.1" r="1.8"/><circle cx="227.7" cy="205.2" r="1.8"/></g>
<g fill="rgb(208,138,115)" fill-opacity="0.32"><circle cx="534.6" cy="87.9" r="1.8"/><circle cx="618.6" cy="97.3" r="1.8"/><circle cx="578.8" cy="144.3" r="1.8"/><circle cx="573.4" cy="59.1" r="1.8"/><circle cx="633.9" cy="129.3" r="1.8"/><circle cx="651.5" cy="89.0" r="1.8"/><circle cx="549.2" cy="60.3" r="1.8"/><circle cx="639.8" cy="106.4" r="1.8"/><circle cx="612.1" cy="122.7" r="1.8"/><circle cx="617.7" cy="93.3" r="1.8"/><circle cx="566.1" cy="92.6" r="1.8"/><circle cx="670.1" cy="92.6" r="1.8"/><circle cx="660.5" cy="71.9" r="1.8"/><circle cx="598.9" cy="106.9" r="1.8"/><circle cx="517.8" cy="117.5" r="1.8"/><circle cx="667.7" cy="79.5" r="1.8"/><circle cx="643.5" cy="73.6" r="1.8"/><circle cx="560.9" cy="77.9" r="1.8"/><circle cx="589.6" cy="131.3" r="1.8"/><circle cx="644.5" cy="59.2" r="1.8"/><circle cx="626.7" cy="90.5" r="1.8"/><circle cx="582.2" cy="73.8" r="1.8"/><circle cx="594.2" cy="77.5" r="1.8"/><circle cx="680.5" cy="70.5" r="1.8"/><circle cx="637.3" cy="59.7" r="1.8"/><circle cx="636.9" cy="108.0" r="1.8"/><circle cx="600.5" cy="103.9" r="1.8"/><circle cx="535.0" cy="89.0" r="1.8"/><circle cx="569.6" cy="104.3" r="1.8"/><circle cx="602.5" cy="98.9" r="1.8"/><circle cx="558.2" cy="74.7" r="1.8"/><circle cx="610.8" cy="94.7" r="1.8"/><circle cx="665.5" cy="126.3" r="1.8"/><circle cx="623.7" cy="76.7" r="1.8"/><circle cx="622.9" cy="73.7" r="1.8"/><circle cx="630.4" cy="42.6" r="1.8"/><circle cx="599.6" cy="119.8" r="1.8"/><circle cx="586.2" cy="67.8" r="1.8"/><circle cx="622.5" cy="54.4" r="1.8"/><circle cx="592.3" cy="57.5" r="1.8"/><circle cx="540.4" cy="106.8" r="1.8"/><circle cx="545.1" cy="56.0" r="1.8"/><circle cx="594.0" cy="101.9" r="1.8"/><circle cx="657.3" cy="82.9" r="1.8"/><circle cx="535.0" cy="121.1" r="1.8"/><circle cx="634.8" cy="83.3" r="1.8"/><circle cx="685.4" cy="75.2" r="1.8"/><circle cx="544.0" cy="117.9" r="1.8"/><circle cx="656.0" cy="106.4" r="1.8"/><circle cx="644.9" cy="107.1" r="1.8"/><circle cx="665.0" cy="83.2" r="1.8"/><circle cx="523.1" cy="131.5" r="1.8"/><circle cx="574.8" cy="100.4" r="1.8"/><circle cx="657.0" cy="95.2" r="1.8"/><circle cx="568.9" cy="106.0" r="1.8"/><circle cx="619.6" cy="86.1" r="1.8"/><circle cx="626.0" cy="133.5" r="1.8"/><circle cx="604.4" cy="87.4" r="1.8"/><circle cx="598.3" cy="113.0" r="1.8"/><circle cx="517.1" cy="83.6" r="1.8"/><circle cx="555.7" cy="92.4" r="1.8"/><circle cx="581.4" cy="102.7" r="1.8"/><circle cx="573.9" cy="98.9" r="1.8"/><circle cx="611.4" cy="93.4" r="1.8"/><circle cx="634.4" cy="71.7" r="1.8"/><circle cx="643.4" cy="113.3" r="1.8"/><circle cx="562.0" cy="124.6" r="1.8"/><circle cx="660.2" cy="134.4" r="1.8"/><circle cx="680.5" cy="52.7" r="1.8"/><circle cx="562.4" cy="115.6" r="1.8"/><circle cx="657.0" cy="67.1" r="1.8"/><circle cx="573.0" cy="116.0" r="1.8"/><circle cx="525.9" cy="129.3" r="1.8"/><circle cx="611.5" cy="89.7" r="1.8"/><circle cx="687.8" cy="64.2" r="1.8"/><circle cx="670.1" cy="101.9" r="1.8"/><circle cx="581.5" cy="97.4" r="1.8"/><circle cx="556.0" cy="94.2" r="1.8"/><circle cx="590.2" cy="96.5" r="1.8"/><circle cx="652.2" cy="89.8" r="1.8"/><circle cx="535.2" cy="66.3" r="1.8"/><circle cx="592.2" cy="82.1" r="1.8"/><circle cx="541.8" cy="104.2" r="1.8"/><circle cx="633.7" cy="54.6" r="1.8"/><circle cx="628.1" cy="80.1" r="1.8"/><circle cx="651.6" cy="117.9" r="1.8"/><circle cx="556.7" cy="77.1" r="1.8"/><circle cx="597.3" cy="93.7" r="1.8"/><circle cx="518.3" cy="67.2" r="1.8"/><circle cx="623.6" cy="69.4" r="1.8"/><circle cx="587.9" cy="109.6" r="1.8"/><circle cx="549.8" cy="105.6" r="1.8"/><circle cx="575.2" cy="86.9" r="1.8"/><circle cx="691.8" cy="90.4" r="1.8"/><circle cx="560.9" cy="64.0" r="1.8"/><circle cx="626.3" cy="103.7" r="1.8"/><circle cx="557.4" cy="52.8" r="1.8"/><circle cx="684.0" cy="72.8" r="1.8"/><circle cx="535.5" cy="84.5" r="1.8"/><circle cx="512.3" cy="64.6" r="1.8"/><circle cx="530.2" cy="94.1" r="1.8"/><circle cx="680.8" cy="90.8" r="1.8"/><circle cx="587.0" cy="92.2" r="1.8"/><circle cx="679.4" cy="59.5" r="1.8"/><circle cx="542.2" cy="106.7" r="1.8"/><circle cx="554.4" cy="95.6" r="1.8"/><circle cx="658.3" cy="79.0" r="1.8"/><circle cx="600.7" cy="70.2" r="1.8"/><circle cx="534.4" cy="91.2" r="1.8"/><circle cx="644.0" cy="75.2" r="1.8"/><circle cx="660.6" cy="84.5" r="1.8"/><circle cx="644.8" cy="69.2" r="1.8"/><circle cx="577.1" cy="128.9" r="1.8"/><circle cx="668.6" cy="96.2" r="1.8"/><circle cx="534.9" cy="91.0" r="1.8"/><circle cx="657.7" cy="125.3" r="1.8"/><circle cx="637.2" cy="104.6" r="1.8"/><circle cx="604.9" cy="97.1" r="1.8"/><circle cx="604.6" cy="96.1" r="1.8"/><circle cx="631.9" cy="69.5" r="1.8"/><circle cx="660.0" cy="83.9" r="1.8"/><circle cx="638.0" cy="67.6" r="1.8"/><circle cx="684.9" cy="97.2" r="1.8"/><circle cx="690.0" cy="78.0" r="1.8"/><circle cx="661.6" cy="94.4" r="1.8"/><circle cx="685.1" cy="92.0" r="1.8"/><circle cx="559.6" cy="65.4" r="1.8"/><circle cx="641.4" cy="127.1" r="1.8"/><circle cx="616.3" cy="55.1" r="1.8"/><circle cx="692.4" cy="99.2" r="1.8"/><circle cx="574.9" cy="82.9" r="1.8"/><circle cx="639.5" cy="110.3" r="1.8"/><circle cx="615.9" cy="89.3" r="1.8"/><circle cx="585.7" cy="56.9" r="1.8"/><circle cx="647.8" cy="87.4" r="1.8"/><circle cx="671.3" cy="103.8" r="1.8"/><circle cx="651.9" cy="70.3" r="1.8"/><circle cx="632.4" cy="71.1" r="1.8"/><circle cx="550.1" cy="70.7" r="1.8"/><circle cx="593.6" cy="81.2" r="1.8"/><circle cx="631.7" cy="129.7" r="1.8"/><circle cx="656.2" cy="79.1" r="1.8"/><circle cx="676.9" cy="109.0" r="1.8"/><circle cx="515.7" cy="65.4" r="1.8"/><circle cx="583.2" cy="128.1" r="1.8"/><circle cx="664.9" cy="123.4" r="1.8"/><circle cx="598.5" cy="92.6" r="1.8"/><circle cx="550.3" cy="76.5" r="1.8"/><circle cx="533.2" cy="87.7" r="1.8"/><circle cx="637.1" cy="107.6" r="1.8"/><circle cx="550.4" cy="83.9" r="1.8"/><circle cx="601.5" cy="53.8" r="1.8"/><circle cx="591.4" cy="78.3" r="1.8"/><circle cx="591.3" cy="102.6" r="1.8"/><circle cx="598.4" cy="53.3" r="1.8"/><circle cx="629.9" cy="91.6" r="1.8"/><circle cx="650.2" cy="105.6" r="1.8"/><circle cx="666.0" cy="100.8" r="1.8"/><circle cx="607.8" cy="108.5" r="1.8"/><circle cx="691.8" cy="108.7" r="1.8"/><circle cx="528.9" cy="126.9" r="1.8"/><circle cx="542.2" cy="99.4" r="1.8"/><circle cx="542.0" cy="114.2" r="1.8"/><circle cx="572.7" cy="120.4" r="1.8"/><circle cx="615.6" cy="110.8" r="1.8"/><circle cx="677.5" cy="118.8" r="1.8"/><circle cx="566.0" cy="131.3" r="1.8"/><circle cx="545.0" cy="91.2" r="1.8"/><circle cx="575.4" cy="66.3" r="1.8"/><circle cx="523.8" cy="79.9" r="1.8"/><circle cx="541.4" cy="75.0" r="1.8"/><circle cx="567.0" cy="73.2" r="1.8"/><circle cx="563.5" cy="85.2" r="1.8"/><circle cx="591.6" cy="119.3" r="1.8"/><circle cx="539.5" cy="110.6" r="1.8"/><circle cx="561.5" cy="102.1" r="1.8"/><circle cx="521.5" cy="123.0" r="1.8"/><circle cx="638.7" cy="80.1" r="1.8"/><circle cx="644.2" cy="75.6" r="1.8"/><circle cx="691.4" cy="111.4" r="1.8"/><circle cx="616.1" cy="61.1" r="1.8"/><circle cx="635.5" cy="50.2" r="1.8"/><circle cx="605.8" cy="67.8" r="1.8"/><circle cx="563.8" cy="77.3" r="1.8"/><circle cx="663.0" cy="60.9" r="1.8"/><circle cx="558.2" cy="54.9" r="1.8"/><circle cx="672.3" cy="58.8" r="1.8"/><circle cx="592.8" cy="56.3" r="1.8"/><circle cx="642.4" cy="41.5" r="1.8"/><circle cx="581.7" cy="51.1" r="1.8"/><circle cx="637.5" cy="74.2" r="1.8"/><circle cx="552.0" cy="45.2" r="1.8"/><circle cx="611.9" cy="78.1" r="1.8"/><circle cx="554.9" cy="47.6" r="1.8"/><circle cx="651.5" cy="49.3" r="1.8"/><circle cx="563.0" cy="51.2" r="1.8"/><circle cx="664.4" cy="48.3" r="1.8"/><circle cx="582.5" cy="55.4" r="1.8"/><circle cx="558.4" cy="67.3" r="1.8"/><circle cx="632.0" cy="64.9" r="1.8"/><circle cx="584.8" cy="62.8" r="1.8"/><circle cx="630.3" cy="42.6" r="1.8"/><circle cx="682.5" cy="59.1" r="1.8"/><circle cx="611.1" cy="42.7" r="1.8"/><circle cx="639.4" cy="52.0" r="1.8"/><circle cx="550.6" cy="68.5" r="1.8"/><circle cx="668.1" cy="57.5" r="1.8"/><circle cx="670.6" cy="65.4" r="1.8"/><circle cx="550.3" cy="49.3" r="1.8"/><circle cx="627.1" cy="42.5" r="1.8"/><circle cx="556.6" cy="40.2" r="1.8"/><circle cx="671.2" cy="51.8" r="1.8"/><circle cx="643.9" cy="59.7" r="1.8"/><circle cx="543.4" cy="76.8" r="1.8"/><circle cx="647.2" cy="56.0" r="1.8"/><circle cx="625.9" cy="71.5" r="1.8"/><circle cx="624.5" cy="53.8" r="1.8"/><circle cx="564.7" cy="72.2" r="1.8"/><circle cx="671.4" cy="42.7" r="1.8"/><circle cx="628.5" cy="84.4" r="1.8"/><circle cx="654.0" cy="71.0" r="1.8"/><circle cx="622.0" cy="54.3" r="1.8"/><circle cx="617.0" cy="52.5" r="1.8"/><circle cx="596.6" cy="65.4" r="1.8"/><circle cx="546.9" cy="60.6" r="1.8"/><circle cx="581.8" cy="64.4" r="1.8"/><circle cx="636.2" cy="50.8" r="1.8"/><circle cx="548.5" cy="70.2" r="1.8"/><circle cx="682.3" cy="53.5" r="1.8"/><circle cx="637.8" cy="60.8" r="1.8"/><circle cx="566.0" cy="51.2" r="1.8"/><circle cx="575.3" cy="57.7" r="1.8"/><circle cx="684.0" cy="41.5" r="1.8"/><circle cx="547.2" cy="50.5" r="1.8"/><circle cx="632.4" cy="38.8" r="1.8"/><circle cx="579.1" cy="61.2" r="1.8"/><circle cx="635.9" cy="48.2" r="1.8"/><circle cx="652.5" cy="64.7" r="1.8"/><circle cx="611.5" cy="67.1" r="1.8"/><circle cx="632.6" cy="46.3" r="1.8"/><circle cx="657.8" cy="63.7" r="1.8"/><circle cx="549.5" cy="56.6" r="1.8"/><circle cx="617.8" cy="52.3" r="1.8"/><circle cx="597.5" cy="180.3" r="1.8"/><circle cx="596.5" cy="133.4" r="1.8"/><circle cx="596.5" cy="153.7" r="1.8"/><circle cx="597.0" cy="200.2" r="1.8"/><circle cx="602.8" cy="190.9" r="1.8"/><circle cx="599.6" cy="200.2" r="1.8"/><circle cx="598.5" cy="122.5" r="1.8"/><circle cx="598.4" cy="144.5" r="1.8"/><circle cx="595.7" cy="132.9" r="1.8"/><circle cx="596.5" cy="194.4" r="1.8"/><circle cx="599.1" cy="113.3" r="1.8"/><circle cx="598.0" cy="132.2" r="1.8"/><circle cx="599.6" cy="188.4" r="1.8"/><circle cx="598.0" cy="135.1" r="1.8"/><circle cx="598.8" cy="137.7" r="1.8"/><circle cx="598.2" cy="130.4" r="1.8"/><circle cx="598.8" cy="139.9" r="1.8"/><circle cx="598.5" cy="199.9" r="1.8"/><circle cx="599.6" cy="131.7" r="1.8"/><circle cx="597.2" cy="154.2" r="1.8"/><circle cx="597.7" cy="178.2" r="1.8"/><circle cx="597.0" cy="146.7" r="1.8"/><circle cx="598.0" cy="176.9" r="1.8"/><circle cx="598.7" cy="146.3" r="1.8"/><circle cx="598.1" cy="126.6" r="1.8"/><circle cx="595.1" cy="183.7" r="1.8"/><circle cx="597.0" cy="157.6" r="1.8"/><circle cx="597.2" cy="131.7" r="1.8"/><circle cx="597.5" cy="109.6" r="1.8"/><circle cx="597.1" cy="190.2" r="1.8"/><circle cx="597.5" cy="205.9" r="1.8"/><circle cx="599.3" cy="163.3" r="1.8"/><circle cx="598.9" cy="129.7" r="1.8"/><circle cx="600.1" cy="136.4" r="1.8"/><circle cx="595.6" cy="199.6" r="1.8"/><circle cx="605.9" cy="179.4" r="1.8"/><circle cx="607.2" cy="156.4" r="1.8"/><circle cx="608.7" cy="113.0" r="1.8"/><circle cx="607.8" cy="158.4" r="1.8"/><circle cx="607.0" cy="156.8" r="1.8"/><circle cx="607.6" cy="143.3" r="1.8"/><circle cx="607.0" cy="139.8" r="1.8"/><circle cx="608.3" cy="190.4" r="1.8"/><circle cx="606.7" cy="148.4" r="1.8"/><circle cx="609.5" cy="180.2" r="1.8"/><circle cx="607.6" cy="163.2" r="1.8"/><circle cx="607.3" cy="188.0" r="1.8"/><circle cx="604.4" cy="135.0" r="1.8"/><circle cx="603.8" cy="132.7" r="1.8"/><circle cx="606.8" cy="126.7" r="1.8"/><circle cx="606.4" cy="132.1" r="1.8"/><circle cx="609.9" cy="207.3" r="1.8"/><circle cx="605.9" cy="207.2" r="1.8"/><circle cx="605.6" cy="123.0" r="1.8"/><circle cx="608.2" cy="137.6" r="1.8"/><circle cx="604.0" cy="174.9" r="1.8"/><circle cx="607.1" cy="158.2" r="1.8"/><circle cx="605.1" cy="191.4" r="1.8"/><circle cx="602.9" cy="150.9" r="1.8"/><circle cx="604.3" cy="121.6" r="1.8"/><circle cx="606.8" cy="164.8" r="1.8"/><circle cx="607.0" cy="122.9" r="1.8"/><circle cx="606.6" cy="136.9" r="1.8"/><circle cx="605.6" cy="138.1" r="1.8"/><circle cx="607.0" cy="180.1" r="1.8"/><circle cx="607.4" cy="176.5" r="1.8"/><circle cx="607.0" cy="183.4" r="1.8"/><circle cx="609.4" cy="182.1" r="1.8"/><circle cx="608.4" cy="165.0" r="1.8"/><circle cx="605.6" cy="119.0" r="1.8"/><circle cx="617.9" cy="123.3" r="1.8"/><circle cx="621.4" cy="205.2" r="1.8"/><circle cx="614.4" cy="178.5" r="1.8"/><circle cx="617.5" cy="193.7" r="1.8"/><circle cx="619.5" cy="129.8" r="1.8"/><circle cx="620.8" cy="126.8" r="1.8"/><circle cx="619.9" cy="133.1" r="1.8"/><circle cx="617.3" cy="129.0" r="1.8"/><circle cx="620.5" cy="89.0" r="1.8"/><circle cx="620.4" cy="152.5" r="1.8"/><circle cx="617.5" cy="140.3" r="1.8"/><circle cx="618.1" cy="176.6" r="1.8"/><circle cx="616.7" cy="149.6" r="1.8"/><circle cx="617.6" cy="157.2" r="1.8"/><circle cx="620.1" cy="130.1" r="1.8"/><circle cx="616.3" cy="175.0" r="1.8"/><circle cx="619.8" cy="136.3" r="1.8"/><circle cx="618.6" cy="148.6" r="1.8"/><circle cx="618.6" cy="171.0" r="1.8"/><circle cx="617.1" cy="179.0" r="1.8"/><circle cx="619.2" cy="173.7" r="1.8"/><circle cx="617.8" cy="167.9" r="1.8"/><circle cx="617.7" cy="108.7" r="1.8"/><circle cx="615.6" cy="125.6" r="1.8"/><circle cx="618.1" cy="173.1" r="1.8"/><circle cx="617.5" cy="195.8" r="1.8"/><circle cx="619.3" cy="154.3" r="1.8"/><circle cx="618.2" cy="124.2" r="1.8"/><circle cx="617.9" cy="132.4" r="1.8"/><circle cx="617.2" cy="116.4" r="1.8"/><circle cx="617.1" cy="193.8" r="1.8"/><circle cx="616.9" cy="157.2" r="1.8"/><circle cx="619.1" cy="175.2" r="1.8"/><circle cx="615.8" cy="176.0" r="1.8"/><circle cx="615.8" cy="191.7" r="1.8"/><circle cx="625.7" cy="145.8" r="1.8"/><circle cx="626.1" cy="170.9" r="1.8"/><circle cx="625.8" cy="175.2" r="1.8"/><circle cx="627.5" cy="169.3" r="1.8"/><circle cx="628.4" cy="179.2" r="1.8"/><circle cx="626.4" cy="126.5" r="1.8"/><circle cx="628.0" cy="155.7" r="1.8"/><circle cx="625.2" cy="153.3" r="1.8"/><circle cx="629.5" cy="127.4" r="1.8"/><circle cx="624.5" cy="193.5" r="1.8"/><circle cx="624.3" cy="116.2" r="1.8"/><circle cx="625.4" cy="159.1" r="1.8"/><circle cx="627.2" cy="158.9" r="1.8"/><circle cx="627.4" cy="192.5" r="1.8"/><circle cx="623.6" cy="177.9" r="1.8"/><circle cx="626.3" cy="132.4" r="1.8"/><circle cx="626.5" cy="139.5" r="1.8"/><circle cx="629.8" cy="148.1" r="1.8"/><circle cx="625.5" cy="149.9" r="1.8"/><circle cx="623.8" cy="203.8" r="1.8"/><circle cx="623.4" cy="117.6" r="1.8"/><circle cx="625.7" cy="191.1" r="1.8"/><circle cx="626.7" cy="159.0" r="1.8"/><circle cx="626.3" cy="123.5" r="1.8"/><circle cx="625.8" cy="123.9" r="1.8"/><circle cx="624.8" cy="135.7" r="1.8"/><circle cx="625.9" cy="139.4" r="1.8"/><circle cx="626.0" cy="193.7" r="1.8"/><circle cx="629.8" cy="163.0" r="1.8"/><circle cx="625.8" cy="158.3" r="1.8"/><circle cx="624.3" cy="144.1" r="1.8"/><circle cx="625.3" cy="123.9" r="1.8"/><circle cx="625.6" cy="116.1" r="1.8"/><circle cx="622.7" cy="112.7" r="1.8"/><circle cx="625.9" cy="156.3" r="1.8"/><circle cx="632.8" cy="147.6" r="1.8"/><circle cx="634.6" cy="142.3" r="1.8"/><circle cx="636.1" cy="175.2" r="1.8"/><circle cx="634.2" cy="143.8" r="1.8"/><circle cx="633.9" cy="138.5" r="1.8"/><circle cx="634.7" cy="183.8" r="1.8"/><circle cx="632.5" cy="173.6" r="1.8"/><circle cx="633.0" cy="193.2" r="1.8"/><circle cx="632.2" cy="180.1" r="1.8"/><circle cx="632.5" cy="128.3" r="1.8"/><circle cx="636.4" cy="196.6" r="1.8"/><circle cx="632.7" cy="137.9" r="1.8"/><circle cx="633.8" cy="178.8" r="1.8"/><circle cx="633.3" cy="170.1" r="1.8"/><circle cx="633.2" cy="138.5" r="1.8"/><circle cx="633.4" cy="132.5" r="1.8"/><circle cx="633.5" cy="156.0" r="1.8"/><circle cx="634.3" cy="168.2" r="1.8"/><circle cx="633.4" cy="183.4" r="1.8"/><circle cx="634.4" cy="158.3" r="1.8"/><circle cx="633.6" cy="109.9" r="1.8"/><circle cx="633.4" cy="151.6" r="1.8"/><circle cx="633.5" cy="115.1" r="1.8"/><circle cx="636.3" cy="157.9" r="1.8"/><circle cx="632.1" cy="190.6" r="1.8"/><circle cx="633.6" cy="170.7" r="1.8"/><circle cx="634.9" cy="150.8" r="1.8"/><circle cx="634.6" cy="189.9" r="1.8"/><circle cx="632.4" cy="166.7" r="1.8"/><circle cx="632.2" cy="125.3" r="1.8"/><circle cx="578.9" cy="162.0" r="1.8"/><circle cx="580.9" cy="156.8" r="1.8"/><circle cx="577.1" cy="171.0" r="1.8"/><circle cx="577.2" cy="179.9" r="1.8"/><circle cx="576.5" cy="162.4" r="1.8"/><circle cx="581.0" cy="166.2" r="1.8"/><circle cx="579.5" cy="142.9" r="1.8"/><circle cx="576.8" cy="141.1" r="1.8"/><circle cx="577.8" cy="136.3" r="1.8"/><circle cx="579.0" cy="147.8" r="1.8"/><circle cx="577.6" cy="157.5" r="1.8"/><circle cx="579.7" cy="163.1" r="1.8"/><circle cx="578.1" cy="171.3" r="1.8"/><circle cx="579.8" cy="162.3" r="1.8"/><circle cx="578.5" cy="137.2" r="1.8"/><circle cx="578.4" cy="181.7" r="1.8"/><circle cx="577.2" cy="131.2" r="1.8"/><circle cx="578.5" cy="148.7" r="1.8"/><circle cx="579.2" cy="167.0" r="1.8"/><circle cx="575.8" cy="155.0" r="1.8"/><circle cx="560.2" cy="153.2" r="1.8"/><circle cx="561.6" cy="145.7" r="1.8"/><circle cx="560.5" cy="177.7" r="1.8"/><circle cx="562.2" cy="136.9" r="1.8"/><circle cx="559.3" cy="180.4" r="1.8"/><circle cx="558.9" cy="132.6" r="1.8"/><circle cx="561.5" cy="153.5" r="1.8"/><circle cx="560.9" cy="170.3" r="1.8"/><circle cx="559.4" cy="174.3" r="1.8"/><circle cx="558.6" cy="142.3" r="1.8"/><circle cx="559.2" cy="173.3" r="1.8"/><circle cx="560.1" cy="156.7" r="1.8"/><circle cx="559.8" cy="151.7" r="1.8"/><circle cx="558.6" cy="165.4" r="1.8"/><circle cx="558.9" cy="148.7" r="1.8"/><circle cx="560.9" cy="155.7" r="1.8"/><circle cx="561.7" cy="178.0" r="1.8"/><circle cx="562.3" cy="162.1" r="1.8"/><circle cx="559.0" cy="122.4" r="1.8"/><circle cx="558.6" cy="175.5" r="1.8"/><circle cx="670.2" cy="198.9" r="1.8"/><circle cx="594.4" cy="119.3" r="1.8"/><circle cx="677.6" cy="178.2" r="1.8"/><circle cx="667.2" cy="188.7" r="1.8"/><circle cx="555.2" cy="187.7" r="1.8"/><circle cx="561.0" cy="188.9" r="1.8"/><circle cx="553.0" cy="217.8" r="1.8"/><circle cx="662.8" cy="126.2" r="1.8"/><circle cx="568.2" cy="174.8" r="1.8"/><circle cx="607.1" cy="155.5" r="1.8"/><circle cx="573.3" cy="143.8" r="1.8"/><circle cx="664.8" cy="134.2" r="1.8"/><circle cx="544.1" cy="135.7" r="1.8"/><circle cx="660.5" cy="152.4" r="1.8"/><circle cx="608.1" cy="129.0" r="1.8"/><circle cx="646.5" cy="183.0" r="1.8"/><circle cx="619.5" cy="200.5" r="1.8"/><circle cx="579.4" cy="176.6" r="1.8"/><circle cx="655.4" cy="135.0" r="1.8"/><circle cx="565.8" cy="157.0" r="1.8"/><circle cx="547.4" cy="152.6" r="1.8"/><circle cx="576.5" cy="156.2" r="1.8"/><circle cx="597.2" cy="213.0" r="1.8"/><circle cx="547.0" cy="217.2" r="1.8"/><circle cx="592.8" cy="223.0" r="1.8"/><circle cx="539.2" cy="147.7" r="1.8"/><circle cx="682.3" cy="200.4" r="1.8"/><circle cx="579.3" cy="195.6" r="1.8"/><circle cx="600.2" cy="223.3" r="1.8"/><circle cx="652.7" cy="143.0" r="1.8"/><circle cx="658.6" cy="131.4" r="1.8"/><circle cx="555.5" cy="150.7" r="1.8"/><circle cx="597.9" cy="125.8" r="1.8"/><circle cx="666.0" cy="201.4" r="1.8"/><circle cx="647.7" cy="189.6" r="1.8"/><circle cx="668.1" cy="161.4" r="1.8"/><circle cx="552.6" cy="172.3" r="1.8"/><circle cx="557.3" cy="155.8" r="1.8"/><circle cx="665.4" cy="185.7" r="1.8"/><circle cx="638.9" cy="194.3" r="1.8"/><circle cx="580.7" cy="133.7" r="1.8"/><circle cx="541.1" cy="172.0" r="1.8"/><circle cx="589.5" cy="172.4" r="1.8"/><circle cx="628.2" cy="172.4" r="1.8"/><circle cx="568.2" cy="130.2" r="1.8"/><circle cx="566.8" cy="147.1" r="1.8"/><circle cx="613.4" cy="189.2" r="1.8"/><circle cx="543.2" cy="203.2" r="1.8"/><circle cx="616.7" cy="157.4" r="1.8"/><circle cx="655.1" cy="143.4" r="1.8"/><circle cx="648.1" cy="124.8" r="1.8"/><circle cx="653.3" cy="194.9" r="1.8"/><circle cx="595.9" cy="196.8" r="1.8"/><circle cx="673.3" cy="166.4" r="1.8"/><circle cx="678.3" cy="153.1" r="1.8"/><circle cx="583.1" cy="128.3" r="1.8"/><circle cx="600.0" cy="146.8" r="1.8"/><circle cx="603.6" cy="179.9" r="1.8"/><circle cx="632.9" cy="216.5" r="1.8"/><circle cx="591.5" cy="211.4" r="1.8"/><circle cx="668.5" cy="166.6" r="1.8"/><circle cx="679.0" cy="174.6" r="1.8"/><circle cx="579.8" cy="174.2" r="1.8"/><circle cx="676.1" cy="128.0" r="1.8"/><circle cx="675.2" cy="162.9" r="1.8"/><circle cx="606.6" cy="171.7" r="1.8"/><circle cx="599.3" cy="140.2" r="1.8"/><circle cx="656.0" cy="157.3" r="1.8"/><circle cx="628.1" cy="147.7" r="1.8"/><circle cx="659.4" cy="121.7" r="1.8"/><circle cx="672.8" cy="208.2" r="1.8"/><circle cx="541.4" cy="182.1" r="1.8"/><circle cx="663.3" cy="171.1" r="1.8"/><circle cx="572.3" cy="172.3" r="1.8"/><circle cx="551.5" cy="213.0" r="1.8"/><circle cx="623.2" cy="180.6" r="1.8"/><circle cx="561.8" cy="158.8" r="1.8"/><circle cx="599.4" cy="143.0" r="1.8"/><circle cx="633.9" cy="137.7" r="1.8"/><circle cx="611.8" cy="186.7" r="1.8"/><circle cx="589.0" cy="214.4" r="1.8"/><circle cx="562.9" cy="195.0" r="1.8"/><circle cx="656.0" cy="127.0" r="1.8"/><circle cx="602.0" cy="205.7" r="1.8"/><circle cx="615.5" cy="185.7" r="1.8"/><circle cx="545.8" cy="148.7" r="1.8"/><circle cx="569.1" cy="150.0" r="1.8"/><circle cx="550.9" cy="193.2" r="1.8"/><circle cx="671.9" cy="182.5" r="1.8"/><circle cx="640.1" cy="146.4" r="1.8"/><circle cx="670.9" cy="118.2" r="1.8"/><circle cx="677.0" cy="155.1" r="1.8"/><circle cx="679.8" cy="105.8" r="1.8"/><circle cx="684.9" cy="129.6" r="1.8"/><circle cx="641.7" cy="112.0" r="1.8"/><circle cx="676.9" cy="128.6" r="1.8"/><circle cx="680.5" cy="139.8" r="1.8"/><circle cx="670.8" cy="145.0" r="1.8"/><circle cx="670.0" cy="124.5" r="1.8"/><circle cx="669.5" cy="113.9" r="1.8"/><circle cx="662.7" cy="133.4" r="1.8"/><circle cx="652.3" cy="103.8" r="1.8"/><circle cx="647.0" cy="107.2" r="1.8"/><circle cx="654.3" cy="105.4" r="1.8"/><circle cx="683.7" cy="156.2" r="1.8"/><circle cx="692.0" cy="141.7" r="1.8"/><circle cx="667.5" cy="94.4" r="1.8"/><circle cx="660.4" cy="122.1" r="1.8"/><circle cx="672.7" cy="97.6" r="1.8"/><circle cx="657.4" cy="140.8" r="1.8"/><circle cx="676.9" cy="127.9" r="1.8"/><circle cx="672.0" cy="166.6" r="1.8"/><circle cx="648.4" cy="147.5" r="1.8"/><circle cx="660.6" cy="155.7" r="1.8"/><circle cx="673.8" cy="146.5" r="1.8"/><circle cx="671.5" cy="131.4" r="1.8"/><circle cx="674.2" cy="113.0" r="1.8"/><circle cx="653.6" cy="125.8" r="1.8"/><circle cx="663.4" cy="108.6" r="1.8"/><circle cx="678.9" cy="112.5" r="1.8"/><circle cx="668.2" cy="137.8" r="1.8"/><circle cx="678.9" cy="154.2" r="1.8"/><circle cx="679.5" cy="167.9" r="1.8"/><circle cx="685.5" cy="154.2" r="1.8"/><circle cx="650.5" cy="145.4" r="1.8"/><circle cx="666.2" cy="153.9" r="1.8"/><circle cx="644.8" cy="142.8" r="1.8"/><circle cx="685.8" cy="157.0" r="1.8"/><circle cx="658.4" cy="140.4" r="1.8"/><circle cx="677.4" cy="137.2" r="1.8"/><circle cx="663.3" cy="127.4" r="1.8"/><circle cx="651.9" cy="114.1" r="1.8"/><circle cx="678.3" cy="130.9" r="1.8"/><circle cx="680.7" cy="130.7" r="1.8"/><circle cx="658.6" cy="151.0" r="1.8"/><circle cx="671.0" cy="155.9" r="1.8"/><circle cx="697.4" cy="156.3" r="1.8"/><circle cx="662.9" cy="118.4" r="1.8"/><circle cx="666.1" cy="144.1" r="1.8"/><circle cx="687.4" cy="103.0" r="1.8"/><circle cx="692.2" cy="104.9" r="1.8"/><circle cx="654.3" cy="98.0" r="1.8"/><circle cx="679.2" cy="139.8" r="1.8"/><circle cx="684.8" cy="141.8" r="1.8"/><circle cx="644.4" cy="121.7" r="1.8"/><circle cx="675.9" cy="115.8" r="1.8"/><circle cx="648.1" cy="109.6" r="1.8"/><circle cx="639.9" cy="107.3" r="1.8"/><circle cx="689.0" cy="126.2" r="1.8"/><circle cx="677.9" cy="115.8" r="1.8"/><circle cx="682.8" cy="159.2" r="1.8"/><circle cx="701.0" cy="190.6" r="1.8"/><circle cx="724.5" cy="225.5" r="1.8"/><circle cx="722.4" cy="198.3" r="1.8"/><circle cx="721.9" cy="222.7" r="1.8"/><circle cx="673.2" cy="156.7" r="1.8"/><circle cx="688.8" cy="141.9" r="1.8"/><circle cx="659.9" cy="116.1" r="1.8"/><circle cx="711.1" cy="242.0" r="1.8"/><circle cx="719.7" cy="253.4" r="1.8"/><circle cx="691.2" cy="155.1" r="1.8"/><circle cx="688.0" cy="157.6" r="1.8"/><circle cx="706.4" cy="204.6" r="1.8"/><circle cx="733.0" cy="227.7" r="1.8"/><circle cx="651.8" cy="122.5" r="1.8"/><circle cx="707.6" cy="190.4" r="1.8"/><circle cx="715.9" cy="226.2" r="1.8"/><circle cx="698.7" cy="186.2" r="1.8"/><circle cx="700.9" cy="226.0" r="1.8"/><circle cx="722.6" cy="183.5" r="1.8"/><circle cx="708.7" cy="169.1" r="1.8"/><circle cx="707.4" cy="192.4" r="1.8"/><circle cx="727.7" cy="219.6" r="1.8"/><circle cx="701.9" cy="180.4" r="1.8"/><circle cx="701.1" cy="158.1" r="1.8"/><circle cx="672.7" cy="139.1" r="1.8"/><circle cx="697.3" cy="208.2" r="1.8"/><circle cx="687.1" cy="171.4" r="1.8"/><circle cx="679.6" cy="154.1" r="1.8"/><circle cx="670.0" cy="140.4" r="1.8"/><circle cx="656.6" cy="160.5" r="1.8"/><circle cx="686.2" cy="157.4" r="1.8"/><circle cx="719.2" cy="224.8" r="1.8"/><circle cx="718.8" cy="213.9" r="1.8"/><circle cx="662.6" cy="138.5" r="1.8"/><circle cx="731.1" cy="230.3" r="1.8"/><circle cx="710.0" cy="194.6" r="1.8"/><circle cx="688.2" cy="144.3" r="1.8"/><circle cx="682.3" cy="160.9" r="1.8"/><circle cx="710.7" cy="255.0" r="1.8"/><circle cx="464.7" cy="276.8" r="1.8"/><circle cx="496.9" cy="189.5" r="1.8"/><circle cx="480.4" cy="152.9" r="1.8"/><circle cx="493.7" cy="190.0" r="1.8"/><circle cx="465.0" cy="207.2" r="1.8"/><circle cx="523.5" cy="290.3" r="1.8"/><circle cx="489.1" cy="250.5" r="1.8"/><circle cx="533.1" cy="146.6" r="1.8"/><circle cx="510.6" cy="279.7" r="1.8"/><circle cx="526.7" cy="238.6" r="1.8"/><circle cx="481.5" cy="232.5" r="1.8"/><circle cx="488.0" cy="220.1" r="1.8"/><circle cx="495.4" cy="172.2" r="1.8"/><circle cx="481.2" cy="222.5" r="1.8"/><circle cx="504.2" cy="157.5" r="1.8"/><circle cx="478.3" cy="277.4" r="1.8"/><circle cx="489.5" cy="151.5" r="1.8"/><circle cx="527.9" cy="210.1" r="1.8"/><circle cx="488.2" cy="165.1" r="1.8"/><circle cx="526.9" cy="269.9" r="1.8"/><circle cx="512.5" cy="254.2" r="1.8"/><circle cx="519.2" cy="221.1" r="1.8"/><circle cx="535.1" cy="186.9" r="1.8"/><circle cx="509.5" cy="281.2" r="1.8"/><circle cx="470.1" cy="252.6" r="1.8"/><circle cx="483.6" cy="146.1" r="1.8"/><circle cx="489.5" cy="158.4" r="1.8"/><circle cx="494.9" cy="226.5" r="1.8"/><circle cx="495.8" cy="264.7" r="1.8"/><circle cx="522.2" cy="234.1" r="1.8"/><circle cx="579.8" cy="234.8" r="1.8"/><circle cx="569.6" cy="208.4" r="1.8"/><circle cx="564.6" cy="237.6" r="1.8"/><circle cx="638.5" cy="216.1" r="1.8"/><circle cx="631.3" cy="226.6" r="1.8"/><circle cx="652.2" cy="216.0" r="1.8"/><circle cx="605.8" cy="202.6" r="1.8"/><circle cx="647.1" cy="194.2" r="1.8"/><circle cx="592.3" cy="194.1" r="1.8"/><circle cx="602.3" cy="258.6" r="1.8"/><circle cx="570.0" cy="215.0" r="1.8"/><circle cx="575.7" cy="219.5" r="1.8"/><circle cx="560.8" cy="239.2" r="1.8"/><circle cx="578.3" cy="198.8" r="1.8"/><circle cx="573.0" cy="246.2" r="1.8"/><circle cx="647.5" cy="212.2" r="1.8"/><circle cx="641.3" cy="214.5" r="1.8"/><circle cx="578.6" cy="255.7" r="1.8"/><circle cx="595.5" cy="233.6" r="1.8"/><circle cx="591.2" cy="195.4" r="1.8"/></g>
<g fill="rgb(115,128,182)" fill-opacity="0.32"><circle cx="580.7" cy="73.7" r="1.8"/><circle cx="637.5" cy="53.5" r="1.8"/><circle cx="644.2" cy="61.9" r="1.8"/><circle cx="578.4" cy="48.1" r="1.8"/><circle cx="599.5" cy="49.0" r="1.8"/><circle cx="657.3" cy="59.4" r="1.8"/><circle cx="681.1" cy="47.5" r="1.8"/><circle cx="673.8" cy="72.8" r="1.8"/><circle cx="574.1" cy="51.0" r="1.8"/><circle cx="593.6" cy="46.8" r="1.8"/><circle cx="608.1" cy="50.2" r="1.8"/><circle cx="614.7" cy="83.3" r="1.8"/><circle cx="668.2" cy="62.7" r="1.8"/><circle cx="606.6" cy="68.7" r="1.8"/><circle cx="579.3" cy="67.9" r="1.8"/><circle cx="626.3" cy="69.3" r="1.8"/><circle cx="643.0" cy="71.5" r="1.8"/><circle cx="626.3" cy="69.3" r="1.8"/><circle cx="665.8" cy="59.9" r="1.8"/><circle cx="670.2" cy="57.3" r="1.8"/><circle cx="644.6" cy="56.3" r="1.8"/><circle cx="669.3" cy="48.9" r="1.8"/><circle cx="563.4" cy="48.2" r="1.8"/><circle cx="619.6" cy="62.4" r="1.8"/><circle cx="551.1" cy="69.9" r="1.8"/><circle cx="584.8" cy="73.7" r="1.8"/><circle cx="635.3" cy="60.3" r="1.8"/><circle cx="635.0" cy="45.4" r="1.8"/><circle cx="647.8" cy="72.5" r="1.8"/><circle cx="658.9" cy="60.1" r="1.8"/><circle cx="577.3" cy="55.4" r="1.8"/><circle cx="603.1" cy="58.1" r="1.8"/><circle cx="646.4" cy="64.4" r="1.8"/><circle cx="580.5" cy="60.7" r="1.8"/><circle cx="659.4" cy="52.9" r="1.8"/><circle cx="552.8" cy="56.8" r="1.8"/><circle cx="595.5" cy="53.6" r="1.8"/><circle cx="549.9" cy="47.3" r="1.8"/><circle cx="589.7" cy="46.4" r="1.8"/><circle cx="654.5" cy="60.0" r="1.8"/><circle cx="678.5" cy="47.2" r="1.8"/><circle cx="604.9" cy="66.8" r="1.8"/><circle cx="567.4" cy="58.6" r="1.8"/><circle cx="579.9" cy="61.0" r="1.8"/><circle cx="638.0" cy="67.1" r="1.8"/><circle cx="574.7" cy="71.7" r="1.8"/><circle cx="649.3" cy="42.6" r="1.8"/><circle cx="577.0" cy="57.1" r="1.8"/><circle cx="662.4" cy="75.9" r="1.8"/><circle cx="572.6" cy="58.3" r="1.8"/><circle cx="669.9" cy="75.6" r="1.8"/><circle cx="605.2" cy="73.2" r="1.8"/><circle cx="672.0" cy="71.4" r="1.8"/><circle cx="651.3" cy="45.6" r="1.8"/><circle cx="616.0" cy="57.4" r="1.8"/><circle cx="686.9" cy="60.0" r="1.8"/><circle cx="655.4" cy="49.5" r="1.8"/><circle cx="612.1" cy="77.4" r="1.8"/><circle cx="562.4" cy="54.0" r="1.8"/><circle cx="569.0" cy="44.5" r="1.8"/><circle cx="658.5" cy="48.9" r="1.8"/><circle cx="660.8" cy="44.9" r="1.8"/><circle cx="549.4" cy="56.6" r="1.8"/><circle cx="607.1" cy="38.8" r="1.8"/><circle cx="603.5" cy="56.5" r="1.8"/><circle cx="558.7" cy="59.7" r="1.8"/><circle cx="561.8" cy="45.8" r="1.8"/><circle cx="671.6" cy="52.7" r="1.8"/><circle cx="664.9" cy="71.8" r="1.8"/><circle cx="653.7" cy="60.5" r="1.8"/><circle cx="591.5" cy="53.7" r="1.8"/><circle cx="658.2" cy="43.0" r="1.8"/><circle cx="673.7" cy="80.6" r="1.8"/><circle cx="655.6" cy="77.9" r="1.8"/><circle cx="602.0" cy="49.7" r="1.8"/><circle cx="592.8" cy="74.7" r="1.8"/><circle cx="610.9" cy="64.4" r="1.8"/><circle cx="659.2" cy="62.4" r="1.8"/><circle cx="612.9" cy="62.1" r="1.8"/><circle cx="597.5" cy="46.7" r="1.8"/><circle cx="552.9" cy="67.3" r="1.8"/><circle cx="594.7" cy="53.6" r="1.8"/><circle cx="575.3" cy="71.6" r="1.8"/><circle cx="610.1" cy="52.2" r="1.8"/><circle cx="611.4" cy="50.3" r="1.8"/><circle cx="578.0" cy="59.1" r="1.8"/><circle cx="567.3" cy="50.1" r="1.8"/><circle cx="623.2" cy="46.7" r="1.8"/><circle cx="569.6" cy="56.6" r="1.8"/><circle cx="637.2" cy="78.1" r="1.8"/><circle cx="625.9" cy="42.4" r="1.8"/><circle cx="669.3" cy="41.7" r="1.8"/><circle cx="586.8" cy="46.9" r="1.8"/><circle cx="684.6" cy="53.5" r="1.8"/><circle cx="660.9" cy="41.4" r="1.8"/><circle cx="608.4" cy="56.9" r="1.8"/><circle cx="599.2" cy="60.6" r="1.8"/><circle cx="569.7" cy="74.3" r="1.8"/><circle cx="617.6" cy="51.6" r="1.8"/><circle cx="574.3" cy="41.7" r="1.8"/><circle cx="592.5" cy="61.2" r="1.8"/><circle cx="561.7" cy="69.5" r="1.8"/><circle cx="632.5" cy="50.6" r="1.8"/><circle cx="637.1" cy="80.3" r="1.8"/><circle cx="630.1" cy="40.7" r="1.8"/><circle cx="661.8" cy="67.4" r="1.8"/><circle cx="616.5" cy="54.5" r="1.8"/><circle cx="604.7" cy="70.2" r="1.8"/><circle cx="577.2" cy="58.8" r="1.8"/><circle cx="620.3" cy="44.1" r="1.8"/><circle cx="585.7" cy="53.0" r="1.8"/><circle cx="600.5" cy="60.9" r="1.8"/><circle cx="592.7" cy="51.0" r="1.8"/><circle cx="574.6" cy="52.6" r="1.8"/><circle cx="651.7" cy="69.2" r="1.8"/><circle cx="680.0" cy="63.8" r="1.8"/><circle cx="649.3" cy="57.0" r="1.8"/><circle cx="619.8" cy="45.7" r="1.8"/><circle cx="569.6" cy="41.5" r="1.8"/><circle cx="603.1" cy="63.6" r="1.8"/><circle cx="674.5" cy="64.2" r="1.8"/><circle cx="668.7" cy="56.9" r="1.8"/><circle cx="548.1" cy="45.2" r="1.8"/><circle cx="648.2" cy="63.5" r="1.8"/><circle cx="580.1" cy="68.6" r="1.8"/><circle cx="672.1" cy="46.5" r="1.8"/><circle cx="582.5" cy="58.0" r="1.8"/><circle cx="638.7" cy="47.2" r="1.8"/><circle cx="667.0" cy="64.4" r="1.8"/><circle cx="550.8" cy="62.0" r="1.8"/><circle cx="554.8" cy="43.2" r="1.8"/><circle cx="620.1" cy="67.0" r="1.8"/><circle cx="603.0" cy="60.2" r="1.8"/><circle cx="664.3" cy="51.6" r="1.8"/><circle cx="587.2" cy="58.0" r="1.8"/><circle cx="547.8" cy="69.9" r="1.8"/><circle cx="666.4" cy="63.2" r="1.8"/><circle cx="636.7" cy="49.5" r="1.8"/><circle cx="615.6" cy="50.3" r="1.8"/><circle cx="623.2" cy="48.7" r="1.8"/><circle cx="679.9" cy="47.3" r="1.8"/><circle cx="585.9" cy="60.2" r="1.8"/><circle cx="583.9" cy="44.3" r="1.8"/><circle cx="677.3" cy="66.0" r="1.8"/><circle cx="616.4" cy="63.5" r="1.8"/><circle cx="553.0" cy="63.0" r="1.8"/><circle cx="648.5" cy="58.9" r="1.8"/><circle cx="612.3" cy="69.4" r="1.8"/><circle cx="549.8" cy="45.8" r="1.8"/><circle cx="596.1" cy="55.3" r="1.8"/><circle cx="626.1" cy="75.6" r="1.8"/><circle cx="661.6" cy="52.9" r="1.8"/><circle cx="636.6" cy="42.7" r="1.8"/><circle cx="619.9" cy="49.1" r="1.8"/><circle cx="639.2" cy="63.8" r="1.8"/><circle cx="598.7" cy="62.7" r="1.8"/><circle cx="654.4" cy="46.9" r="1.8"/><circle cx="641.1" cy="52.5" r="1.8"/><circle cx="572.4" cy="56.3" r="1.8"/><circle cx="640.0" cy="64.0" r="1.8"/><circle cx="662.7" cy="50.0" r="1.8"/><circle cx="661.3" cy="65.7" r="1.8"/><circle cx="616.4" cy="55.1" r="1.8"/><circle cx="564.3" cy="53.6" r="1.8"/><circle cx="621.2" cy="66.6" r="1.8"/><circle cx="557.0" cy="71.3" r="1.8"/><circle cx="623.1" cy="50.9" r="1.8"/><circle cx="643.1" cy="56.2" r="1.8"/><circle cx="632.5" cy="69.6" r="1.8"/><circle cx="633.4" cy="60.5" r="1.8"/><circle cx="642.8" cy="55.4" r="1.8"/><circle cx="607.1" cy="71.5" r="1.8"/><circle cx="585.1" cy="49.9" r="1.8"/><circle cx="652.5" cy="49.3" r="1.8"/><circle cx="620.1" cy="41.4" r="1.8"/><circle cx="642.2" cy="48.2" r="1.8"/><circle cx="602.0" cy="62.6" r="1.8"/><circle cx="666.0" cy="54.5" r="1.8"/><circle cx="604.9" cy="50.8" r="1.8"/><circle cx="629.0" cy="66.8" r="1.8"/><circle cx="632.5" cy="68.3" r="1.8"/><circle cx="607.2" cy="63.4" r="1.8"/><circle cx="648.5" cy="64.2" r="1.8"/><circle cx="578.8" cy="49.4" r="1.8"/><circle cx="545.2" cy="55.8" r="1.8"/><circle cx="576.1" cy="50.7" r="1.8"/><circle cx="612.3" cy="58.3" r="1.8"/><circle cx="645.8" cy="58.6" r="1.8"/><circle cx="571.5" cy="55.6" r="1.8"/><circle cx="611.6" cy="68.7" r="1.8"/><circle cx="619.8" cy="60.5" r="1.8"/><circle cx="582.6" cy="42.9" r="1.8"/><circle cx="619.6" cy="57.2" r="1.8"/><circle cx="633.6" cy="64.8" r="1.8"/><circle cx="578.6" cy="58.1" r="1.8"/><circle cx="667.1" cy="66.4" r="1.8"/><circle cx="675.5" cy="53.0" r="1.8"/><circle cx="673.2" cy="62.0" r="1.8"/><circle cx="573.3" cy="61.3" r="1.8"/><circle cx="586.2" cy="74.5" r="1.8"/><circle cx="613.7" cy="63.0" r="1.8"/><circle cx="654.7" cy="54.2" r="1.8"/><circle cx="549.0" cy="55.1" r="1.8"/><circle cx="571.2" cy="67.6" r="1.8"/><circle cx="638.5" cy="44.4" r="1.8"/><circle cx="570.6" cy="70.9" r="1.8"/><circle cx="573.7" cy="51.0" r="1.8"/><circle cx="673.1" cy="51.4" r="1.8"/><circle cx="622.5" cy="75.1" r="1.8"/><circle cx="641.1" cy="76.0" r="1.8"/><circle cx="555.4" cy="51.6" r="1.8"/><circle cx="578.0" cy="68.2" r="1.8"/><circle cx="559.9" cy="47.7" r="1.8"/><circle cx="574.0" cy="68.7" r="1.8"/><circle cx="556.1" cy="42.4" r="1.8"/><circle cx="568.1" cy="65.8" r="1.8"/><circle cx="654.7" cy="44.9" r="1.8"/><circle cx="575.2" cy="39.7" r="1.8"/><circle cx="673.8" cy="43.3" r="1.8"/><circle cx="560.3" cy="72.8" r="1.8"/><circle cx="581.3" cy="59.5" r="1.8"/><circle cx="589.7" cy="75.1" r="1.8"/><circle cx="598.7" cy="72.9" r="1.8"/><circle cx="628.3" cy="66.9" r="1.8"/><circle cx="595.8" cy="39.7" r="1.8"/><circle cx="596.9" cy="44.9" r="1.8"/><circle cx="589.9" cy="50.1" r="1.8"/><circle cx="643.1" cy="40.4" r="1.8"/><circle cx="594.4" cy="42.3" r="1.8"/><circle cx="624.2" cy="46.1" r="1.8"/><circle cx="613.0" cy="45.1" r="1.8"/><circle cx="579.0" cy="64.0" r="1.8"/><circle cx="649.6" cy="52.6" r="1.8"/><circle cx="624.9" cy="75.8" r="1.8"/><circle cx="635.2" cy="48.3" r="1.8"/><circle cx="553.3" cy="71.7" r="1.8"/><circle cx="611.9" cy="65.6" r="1.8"/><circle cx="606.2" cy="43.2" r="1.8"/><circle cx="595.3" cy="48.4" r="1.8"/><circle cx="564.2" cy="67.0" r="1.8"/><circle cx="613.4" cy="39.2" r="1.8"/><circle cx="639.4" cy="71.7" r="1.8"/><circle cx="621.9" cy="51.0" r="1.8"/><circle cx="581.0" cy="71.9" r="1.8"/><circle cx="578.6" cy="65.8" r="1.8"/><circle cx="604.1" cy="77.3" r="1.8"/><circle cx="580.2" cy="50.9" r="1.8"/><circle cx="559.2" cy="63.2" r="1.8"/><circle cx="602.8" cy="43.9" r="1.8"/><circle cx="591.0" cy="77.8" r="1.8"/><circle cx="611.6" cy="50.6" r="1.8"/><circle cx="669.7" cy="65.9" r="1.8"/><circle cx="591.9" cy="46.6" r="1.8"/><circle cx="629.4" cy="65.3" r="1.8"/><circle cx="568.4" cy="58.2" r="1.8"/><circle cx="669.3" cy="44.6" r="1.8"/><circle cx="646.7" cy="74.9" r="1.8"/><circle cx="633.3" cy="60.8" r="1.8"/><circle cx="651.7" cy="56.2" r="1.8"/><circle cx="675.1" cy="74.5" r="1.8"/><circle cx="659.4" cy="64.5" r="1.8"/><circle cx="642.1" cy="63.9" r="1.8"/><circle cx="675.8" cy="72.2" r="1.8"/><circle cx="584.5" cy="83.2" r="1.8"/><circle cx="608.7" cy="65.4" r="1.8"/><circle cx="567.3" cy="71.9" r="1.8"/><circle cx="562.7" cy="66.1" r="1.8"/><circle cx="602.6" cy="62.3" r="1.8"/><circle cx="593.4" cy="43.0" r="1.8"/><circle cx="636.2" cy="50.1" r="1.8"/><circle cx="602.1" cy="64.5" r="1.8"/><circle cx="576.0" cy="64.8" r="1.8"/><circle cx="613.3" cy="46.5" r="1.8"/><circle cx="596.4" cy="61.0" r="1.8"/><circle cx="645.8" cy="63.4" r="1.8"/><circle cx="648.0" cy="47.6" r="1.8"/><circle cx="679.8" cy="45.6" r="1.8"/><circle cx="677.7" cy="74.8" r="1.8"/><circle cx="616.8" cy="45.0" r="1.8"/><circle cx="583.1" cy="52.9" r="1.8"/><circle cx="603.6" cy="60.4" r="1.8"/><circle cx="584.6" cy="46.7" r="1.8"/><circle cx="616.7" cy="49.6" r="1.8"/><circle cx="641.6" cy="71.8" r="1.8"/><circle cx="643.1" cy="46.6" r="1.8"/><circle cx="611.7" cy="69.8" r="1.8"/><circle cx="598.6" cy="73.0" r="1.8"/><circle cx="552.0" cy="69.0" r="1.8"/><circle cx="650.3" cy="52.7" r="1.8"/><circle cx="642.1" cy="60.1" r="1.8"/><circle cx="625.8" cy="45.3" r="1.8"/><circle cx="658.6" cy="47.3" r="1.8"/><circle cx="580.0" cy="43.6" r="1.8"/><circle cx="634.4" cy="46.1" r="1.8"/><circle cx="582.1" cy="55.7" r="1.8"/><circle cx="650.6" cy="75.2" r="1.8"/><circle cx="599.3" cy="55.7" r="1.8"/><circle cx="611.1" cy="39.3" r="1.8"/><circle cx="599.1" cy="67.9" r="1.8"/><circle cx="604.4" cy="46.2" r="1.8"/><circle cx="673.5" cy="51.3" r="1.8"/><circle cx="675.5" cy="66.1" r="1.8"/><circle cx="585.9" cy="61.1" r="1.8"/><circle cx="658.7" cy="70.7" r="1.8"/><circle cx="678.3" cy="70.2" r="1.8"/><circle cx="611.6" cy="45.5" r="1.8"/><circle cx="616.2" cy="68.9" r="1.8"/><circle cx="647.3" cy="61.0" r="1.8"/><circle cx="636.4" cy="51.2" r="1.8"/><circle cx="621.5" cy="57.7" r="1.8"/><circle cx="666.7" cy="57.8" r="1.8"/><circle cx="625.7" cy="72.7" r="1.8"/><circle cx="658.2" cy="46.5" r="1.8"/><circle cx="604.9" cy="70.2" r="1.8"/><circle cx="672.5" cy="59.1" r="1.8"/><circle cx="577.2" cy="51.3" r="1.8"/><circle cx="617.5" cy="63.9" r="1.8"/><circle cx="634.9" cy="67.4" r="1.8"/><circle cx="651.2" cy="67.2" r="1.8"/><circle cx="589.4" cy="65.5" r="1.8"/><circle cx="669.3" cy="51.5" r="1.8"/><circle cx="645.2" cy="64.6" r="1.8"/><circle cx="666.2" cy="42.2" r="1.8"/><circle cx="593.8" cy="44.9" r="1.8"/><circle cx="614.1" cy="70.5" r="1.8"/><circle cx="608.9" cy="63.5" r="1.8"/><circle cx="670.7" cy="67.2" r="1.8"/><circle cx="663.4" cy="60.7" r="1.8"/><circle cx="576.0" cy="51.6" r="1.8"/><circle cx="657.4" cy="56.7" r="1.8"/><circle cx="611.4" cy="68.3" r="1.8"/><circle cx="617.3" cy="45.8" r="1.8"/><circle cx="666.4" cy="64.1" r="1.8"/><circle cx="602.0" cy="54.5" r="1.8"/><circle cx="550.6" cy="57.6" r="1.8"/><circle cx="608.9" cy="68.1" r="1.8"/><circle cx="562.2" cy="56.3" r="1.8"/><circle cx="641.1" cy="52.7" r="1.8"/><circle cx="571.5" cy="48.6" r="1.8"/><circle cx="635.6" cy="65.5" r="1.8"/><circle cx="595.1" cy="76.2" r="1.8"/><circle cx="583.3" cy="63.3" r="1.8"/><circle cx="601.5" cy="41.0" r="1.8"/><circle cx="589.5" cy="39.1" r="1.8"/><circle cx="614.4" cy="67.9" r="1.8"/><circle cx="628.1" cy="39.4" r="1.8"/><circle cx="617.9" cy="65.3" r="1.8"/><circle cx="560.0" cy="47.8" r="1.8"/><circle cx="625.6" cy="51.6" r="1.8"/><circle cx="669.7" cy="40.1" r="1.8"/><circle cx="609.0" cy="55.9" r="1.8"/><circle cx="598.3" cy="56.8" r="1.8"/><circle cx="577.2" cy="40.6" r="1.8"/><circle cx="597.0" cy="50.4" r="1.8"/><circle cx="610.8" cy="50.7" r="1.8"/><circle cx="570.4" cy="51.5" r="1.8"/><circle cx="612.6" cy="58.4" r="1.8"/><circle cx="610.0" cy="58.6" r="1.8"/><circle cx="618.9" cy="63.3" r="1.8"/><circle cx="610.1" cy="40.8" r="1.8"/><circle cx="589.9" cy="56.0" r="1.8"/><circle cx="577.1" cy="52.5" r="1.8"/><circle cx="605.8" cy="46.5" r="1.8"/><circle cx="599.3" cy="59.8" r="1.8"/><circle cx="640.5" cy="44.7" r="1.8"/><circle cx="604.0" cy="44.3" r="1.8"/><circle cx="617.9" cy="65.2" r="1.8"/><circle cx="610.9" cy="56.8" r="1.8"/><circle cx="574.6" cy="59.7" r="1.8"/><circle cx="624.9" cy="63.1" r="1.8"/><circle cx="600.4" cy="45.0" r="1.8"/><circle cx="580.6" cy="63.5" r="1.8"/><circle cx="617.9" cy="54.7" r="1.8"/><circle cx="634.4" cy="57.7" r="1.8"/><circle cx="607.2" cy="59.6" r="1.8"/><circle cx="604.0" cy="58.4" r="1.8"/><circle cx="596.7" cy="51.3" r="1.8"/><circle cx="601.0" cy="53.9" r="1.8"/><circle cx="631.9" cy="55.1" r="1.8"/><circle cx="611.2" cy="61.4" r="1.8"/><circle cx="618.0" cy="38.6" r="1.8"/><circle cx="621.1" cy="63.9" r="1.8"/><circle cx="550.9" cy="47.5" r="1.8"/><circle cx="612.9" cy="69.2" r="1.8"/><circle cx="621.0" cy="57.4" r="1.8"/><circle cx="614.0" cy="66.3" r="1.8"/><circle cx="579.8" cy="52.4" r="1.8"/><circle cx="593.8" cy="66.2" r="1.8"/><circle cx="623.1" cy="57.0" r="1.8"/><circle cx="617.8" cy="57.0" r="1.8"/><circle cx="618.4" cy="57.2" r="1.8"/><circle cx="615.0" cy="43.7" r="1.8"/><circle cx="638.4" cy="42.7" r="1.8"/><circle cx="610.3" cy="54.6" r="1.8"/><circle cx="636.4" cy="52.5" r="1.8"/><circle cx="626.8" cy="59.8" r="1.8"/><circle cx="626.0" cy="56.5" r="1.8"/><circle cx="596.0" cy="62.7" r="1.8"/><circle cx="596.5" cy="49.1" r="1.8"/><circle cx="596.0" cy="56.5" r="1.8"/><circle cx="632.4" cy="50.5" r="1.8"/><circle cx="634.4" cy="45.9" r="1.8"/><circle cx="588.7" cy="41.6" r="1.8"/><circle cx="583.8" cy="53.3" r="1.8"/><circle cx="612.0" cy="47.5" r="1.8"/><circle cx="635.6" cy="50.2" r="1.8"/><circle cx="614.9" cy="47.2" r="1.8"/><circle cx="622.1" cy="46.2" r="1.8"/><circle cx="619.1" cy="73.8" r="1.8"/><circle cx="621.0" cy="54.2" r="1.8"/><circle cx="606.8" cy="44.7" r="1.8"/><circle cx="619.0" cy="52.5" r="1.8"/><circle cx="623.1" cy="54.0" r="1.8"/><circle cx="607.3" cy="43.6" r="1.8"/><circle cx="642.9" cy="61.3" r="1.8"/><circle cx="588.3" cy="47.4" r="1.8"/><circle cx="601.8" cy="57.5" r="1.8"/><circle cx="592.7" cy="50.6" r="1.8"/><circle cx="630.7" cy="48.1" r="1.8"/><circle cx="631.1" cy="76.5" r="1.8"/><circle cx="594.6" cy="49.5" r="1.8"/><circle cx="611.0" cy="43.0" r="1.8"/><circle cx="600.5" cy="50.1" r="1.8"/><circle cx="582.3" cy="46.7" r="1.8"/><circle cx="593.4" cy="61.4" r="1.8"/><circle cx="616.0" cy="56.8" r="1.8"/><circle cx="620.7" cy="45.3" r="1.8"/><circle cx="594.9" cy="66.1" r="1.8"/><circle cx="609.4" cy="52.1" r="1.8"/><circle cx="625.8" cy="44.4" r="1.8"/><circle cx="636.9" cy="61.4" r="1.8"/><circle cx="616.4" cy="58.3" r="1.8"/><circle cx="593.3" cy="46.5" r="1.8"/><circle cx="578.2" cy="45.7" r="1.8"/><circle cx="610.8" cy="52.5" r="1.8"/><circle cx="603.3" cy="48.9" r="1.8"/><circle cx="597.9" cy="57.5" r="1.8"/><circle cx="595.8" cy="55.6" r="1.8"/><circle cx="598.4" cy="45.2" r="1.8"/><circle cx="612.6" cy="46.0" r="1.8"/><circle cx="622.9" cy="51.9" r="1.8"/><circle cx="593.3" cy="62.8" r="1.8"/><circle cx="646.5" cy="49.1" r="1.8"/><circle cx="637.7" cy="57.9" r="1.8"/><circle cx="604.7" cy="49.1" r="1.8"/><circle cx="615.7" cy="56.7" r="1.8"/><circle cx="639.7" cy="49.6" r="1.8"/><circle cx="591.5" cy="56.6" r="1.8"/><circle cx="597.4" cy="47.3" r="1.8"/><circle cx="597.5" cy="48.3" r="1.8"/><circle cx="589.6" cy="67.3" r="1.8"/><circle cx="623.8" cy="60.1" r="1.8"/><circle cx="605.3" cy="44.7" r="1.8"/><circle cx="611.6" cy="61.9" r="1.8"/><circle cx="611.3" cy="52.4" r="1.8"/><circle cx="605.7" cy="63.1" r="1.8"/><circle cx="639.7" cy="44.1" r="1.8"/><circle cx="606.4" cy="52.8" r="1.8"/><circle cx="592.7" cy="50.5" r="1.8"/><circle cx="582.4" cy="48.6" r="1.8"/><circle cx="596.3" cy="45.3" r="1.8"/><circle cx="613.4" cy="67.3" r="1.8"/><circle cx="613.1" cy="53.5" r="1.8"/><circle cx="615.4" cy="51.3" r="1.8"/><circle cx="601.5" cy="41.8" r="1.8"/><circle cx="618.4" cy="61.5" r="1.8"/><circle cx="618.8" cy="61.6" r="1.8"/><circle cx="586.0" cy="52.4" r="1.8"/><circle cx="617.7" cy="43.9" r="1.8"/><circle cx="618.0" cy="57.7" r="1.8"/><circle cx="604.4" cy="53.6" r="1.8"/><circle cx="631.5" cy="43.3" r="1.8"/><circle cx="611.0" cy="68.5" r="1.8"/><circle cx="594.9" cy="58.8" r="1.8"/><circle cx="628.5" cy="46.6" r="1.8"/><circle cx="644.9" cy="47.9" r="1.8"/><circle cx="587.0" cy="59.2" r="1.8"/><circle cx="608.5" cy="62.1" r="1.8"/><circle cx="627.3" cy="57.9" r="1.8"/><circle cx="622.0" cy="57.4" r="1.8"/><circle cx="630.0" cy="51.1" r="1.8"/><circle cx="635.9" cy="68.5" r="1.8"/><circle cx="574.5" cy="51.9" r="1.8"/><circle cx="623.6" cy="55.5" r="1.8"/><circle cx="577.7" cy="56.6" r="1.8"/><circle cx="591.2" cy="51.9" r="1.8"/><circle cx="588.4" cy="59.5" r="1.8"/><circle cx="619.4" cy="65.0" r="1.8"/><circle cx="577.0" cy="38.2" r="1.8"/><circle cx="611.9" cy="52.5" r="1.8"/><circle cx="579.9" cy="62.9" r="1.8"/><circle cx="649.4" cy="64.0" r="1.8"/><circle cx="599.4" cy="50.7" r="1.8"/><circle cx="609.5" cy="58.8" r="1.8"/><circle cx="586.5" cy="55.4" r="1.8"/><circle cx="598.4" cy="55.1" r="1.8"/><circle cx="635.8" cy="49.6" r="1.8"/><circle cx="614.7" cy="61.2" r="1.8"/><circle cx="586.8" cy="62.6" r="1.8"/><circle cx="599.8" cy="65.4" r="1.8"/><circle cx="606.7" cy="56.0" r="1.8"/><circle cx="644.6" cy="55.1" r="1.8"/><circle cx="607.5" cy="62.1" r="1.8"/><circle cx="618.5" cy="77.7" r="1.8"/><circle cx="630.7" cy="52.5" r="1.8"/><circle cx="657.2" cy="53.5" r="1.8"/><circle cx="622.7" cy="66.7" r="1.8"/><circle cx="588.6" cy="46.1" r="1.8"/><circle cx="643.7" cy="61.2" r="1.8"/><circle cx="695.1" cy="82.8" r="1.8"/><circle cx="661.9" cy="96.6" r="1.8"/><circle cx="539.1" cy="114.7" r="1.8"/><circle cx="602.1" cy="91.8" r="1.8"/><circle cx="631.1" cy="89.4" r="1.8"/><circle cx="682.9" cy="80.6" r="1.8"/><circle cx="580.5" cy="114.4" r="1.8"/><circle cx="662.5" cy="88.0" r="1.8"/><circle cx="662.5" cy="87.1" r="1.8"/><circle cx="547.4" cy="107.3" r="1.8"/><circle cx="528.2" cy="116.0" r="1.8"/><circle cx="532.2" cy="113.5" r="1.8"/><circle cx="542.6" cy="109.9" r="1.8"/><circle cx="649.3" cy="80.7" r="1.8"/><circle cx="523.4" cy="95.9" r="1.8"/><circle cx="644.9" cy="108.4" r="1.8"/><circle cx="621.2" cy="88.6" r="1.8"/><circle cx="675.4" cy="85.9" r="1.8"/><circle cx="578.9" cy="77.6" r="1.8"/><circle cx="667.3" cy="109.8" r="1.8"/><circle cx="679.0" cy="90.0" r="1.8"/><circle cx="605.7" cy="109.1" r="1.8"/><circle cx="590.2" cy="96.0" r="1.8"/><circle cx="621.1" cy="110.9" r="1.8"/><circle cx="651.7" cy="108.7" r="1.8"/><circle cx="658.5" cy="96.9" r="1.8"/><circle cx="620.3" cy="76.8" r="1.8"/><circle cx="556.0" cy="98.0" r="1.8"/><circle cx="528.5" cy="82.2" r="1.8"/><circle cx="664.0" cy="106.3" r="1.8"/><circle cx="656.8" cy="106.8" r="1.8"/><circle cx="581.2" cy="108.5" r="1.8"/><circle cx="560.8" cy="102.5" r="1.8"/><circle cx="661.7" cy="106.3" r="1.8"/><circle cx="588.8" cy="96.1" r="1.8"/><circle cx="542.6" cy="106.1" r="1.8"/><circle cx="629.2" cy="107.3" r="1.8"/><circle cx="685.5" cy="104.1" r="1.8"/><circle cx="629.6" cy="82.6" r="1.8"/><circle cx="530.6" cy="104.6" r="1.8"/><circle cx="548.0" cy="108.7" r="1.8"/><circle cx="575.6" cy="84.3" r="1.8"/><circle cx="685.2" cy="113.1" r="1.8"/><circle cx="563.5" cy="118.2" r="1.8"/><circle cx="570.7" cy="108.0" r="1.8"/><circle cx="531.1" cy="67.1" r="1.8"/><circle cx="572.2" cy="115.7" r="1.8"/><circle cx="662.3" cy="75.4" r="1.8"/><circle cx="586.8" cy="106.3" r="1.8"/><circle cx="631.7" cy="117.0" r="1.8"/><circle cx="692.1" cy="84.5" r="1.8"/><circle cx="541.0" cy="106.1" r="1.8"/><circle cx="567.9" cy="94.5" r="1.8"/><circle cx="577.1" cy="82.1" r="1.8"/><circle cx="528.8" cy="116.9" r="1.8"/><circle cx="525.3" cy="112.9" r="1.8"/><circle cx="679.7" cy="112.9" r="1.8"/><circle cx="695.8" cy="84.4" r="1.8"/><circle cx="590.4" cy="93.7" r="1.8"/><circle cx="666.0" cy="85.1" r="1.8"/><circle cx="566.9" cy="78.9" r="1.8"/><circle cx="602.7" cy="101.1" r="1.8"/><circle cx="636.8" cy="105.5" r="1.8"/><circle cx="560.3" cy="106.9" r="1.8"/><circle cx="624.9" cy="70.1" r="1.8"/><circle cx="629.9" cy="85.9" r="1.8"/><circle cx="695.1" cy="94.4" r="1.8"/><circle cx="658.8" cy="113.2" r="1.8"/><circle cx="572.5" cy="83.7" r="1.8"/><circle cx="626.9" cy="100.4" r="1.8"/><circle cx="596.5" cy="78.4" r="1.8"/><circle cx="605.7" cy="74.0" r="1.8"/><circle cx="610.1" cy="109.7" r="1.8"/><circle cx="596.8" cy="99.6" r="1.8"/><circle cx="533.6" cy="105.8" r="1.8"/><circle cx="542.9" cy="90.3" r="1.8"/><circle cx="565.9" cy="115.4" r="1.8"/><circle cx="688.6" cy="114.7" r="1.8"/><circle cx="684.2" cy="86.7" r="1.8"/><circle cx="643.3" cy="98.1" r="1.8"/><circle cx="671.5" cy="76.7" r="1.8"/><circle cx="643.6" cy="84.6" r="1.8"/><circle cx="628.4" cy="113.2" r="1.8"/><circle cx="570.4" cy="94.0" r="1.8"/><circle cx="557.4" cy="75.7" r="1.8"/><circle cx="527.5" cy="94.4" r="1.8"/><circle cx="682.0" cy="90.5" r="1.8"/><circle cx="572.3" cy="112.9" r="1.8"/><circle cx="691.6" cy="80.2" r="1.8"/><circle cx="540.5" cy="102.8" r="1.8"/><circle cx="612.5" cy="93.0" r="1.8"/><circle cx="681.5" cy="84.5" r="1.8"/><circle cx="537.0" cy="113.2" r="1.8"/><circle cx="693.1" cy="98.3" r="1.8"/><circle cx="654.0" cy="124.1" r="1.8"/><circle cx="573.0" cy="121.0" r="1.8"/><circle cx="684.1" cy="98.5" r="1.8"/><circle cx="666.3" cy="103.5" r="1.8"/><circle cx="563.5" cy="112.9" r="1.8"/><circle cx="683.9" cy="107.2" r="1.8"/><circle cx="559.5" cy="114.7" r="1.8"/><circle cx="670.3" cy="84.2" r="1.8"/><circle cx="657.9" cy="100.0" r="1.8"/><circle cx="625.8" cy="103.8" r="1.8"/><circle cx="605.3" cy="80.8" r="1.8"/><circle cx="570.1" cy="73.0" r="1.8"/><circle cx="560.2" cy="97.4" r="1.8"/><circle cx="591.6" cy="110.5" r="1.8"/><circle cx="544.3" cy="87.7" r="1.8"/><circle cx="606.6" cy="76.5" r="1.8"/><circle cx="622.3" cy="107.2" r="1.8"/><circle cx="646.2" cy="105.8" r="1.8"/><circle cx="591.3" cy="90.1" r="1.8"/><circle cx="592.0" cy="76.7" r="1.8"/><circle cx="638.6" cy="98.8" r="1.8"/><circle cx="585.3" cy="82.5" r="1.8"/><circle cx="546.2" cy="87.0" r="1.8"/><circle cx="675.3" cy="107.7" r="1.8"/><circle cx="544.0" cy="110.5" r="1.8"/><circle cx="531.1" cy="100.7" r="1.8"/><circle cx="566.2" cy="88.3" r="1.8"/><circle cx="660.8" cy="101.8" r="1.8"/><circle cx="640.8" cy="101.5" r="1.8"/><circle cx="544.7" cy="110.0" r="1.8"/><circle cx="628.9" cy="108.2" r="1.8"/><circle cx="670.1" cy="86.3" r="1.8"/><circle cx="684.2" cy="109.1" r="1.8"/><circle cx="610.5" cy="101.0" r="1.8"/><circle cx="661.0" cy="89.4" r="1.8"/><circle cx="579.2" cy="87.2" r="1.8"/><circle cx="534.1" cy="102.1" r="1.8"/><circle cx="550.9" cy="112.7" r="1.8"/><circle cx="573.5" cy="72.9" r="1.8"/><circle cx="529.4" cy="116.3" r="1.8"/><circle cx="688.6" cy="108.5" r="1.8"/><circle cx="686.7" cy="90.0" r="1.8"/><circle cx="668.1" cy="106.4" r="1.8"/><circle cx="612.0" cy="105.4" r="1.8"/><circle cx="595.5" cy="106.5" r="1.8"/><circle cx="577.1" cy="101.2" r="1.8"/><circle cx="618.7" cy="117.8" r="1.8"/><circle cx="551.9" cy="114.9" r="1.8"/><circle cx="647.9" cy="90.9" r="1.8"/><circle cx="570.6" cy="89.8" r="1.8"/><circle cx="659.5" cy="116.5" r="1.8"/><circle cx="552.7" cy="77.1" r="1.8"/><circle cx="576.6" cy="88.6" r="1.8"/><circle cx="654.1" cy="123.5" r="1.8"/><circle cx="657.4" cy="108.1" r="1.8"/><circle cx="639.8" cy="110.0" r="1.8"/><circle cx="624.9" cy="103.4" r="1.8"/><circle cx="698.3" cy="104.6" r="1.8"/><circle cx="639.1" cy="84.7" r="1.8"/><circle cx="559.9" cy="75.5" r="1.8"/><circle cx="560.6" cy="110.2" r="1.8"/><circle cx="591.2" cy="114.6" r="1.8"/><circle cx="672.5" cy="122.1" r="1.8"/><circle cx="542.4" cy="116.2" r="1.8"/><circle cx="660.5" cy="95.3" r="1.8"/><circle cx="647.4" cy="89.6" r="1.8"/><circle cx="559.3" cy="77.1" r="1.8"/><circle cx="533.8" cy="130.2" r="1.8"/><circle cx="539.5" cy="97.1" r="1.8"/><circle cx="618.0" cy="77.4" r="1.8"/><circle cx="563.9" cy="105.4" r="1.8"/><circle cx="637.8" cy="115.5" r="1.8"/><circle cx="627.6" cy="111.6" r="1.8"/><circle cx="590.7" cy="80.9" r="1.8"/><circle cx="614.6" cy="100.7" r="1.8"/><circle cx="648.4" cy="71.3" r="1.8"/><circle cx="637.5" cy="85.6" r="1.8"/><circle cx="557.0" cy="105.0" r="1.8"/><circle cx="558.8" cy="101.3" r="1.8"/><circle cx="554.5" cy="89.3" r="1.8"/><circle cx="623.5" cy="104.7" r="1.8"/><circle cx="680.5" cy="91.8" r="1.8"/><circle cx="594.6" cy="76.3" r="1.8"/><circle cx="539.7" cy="126.8" r="1.8"/><circle cx="592.9" cy="101.5" r="1.8"/><circle cx="573.1" cy="98.1" r="1.8"/><circle cx="669.5" cy="164.0" r="1.8"/><circle cx="676.8" cy="137.4" r="1.8"/><circle cx="670.4" cy="160.2" r="1.8"/><circle cx="661.2" cy="152.2" r="1.8"/><circle cx="663.3" cy="145.6" r="1.8"/><circle cx="661.4" cy="129.4" r="1.8"/><circle cx="678.0" cy="166.7" r="1.8"/><circle cx="669.8" cy="152.4" r="1.8"/><circle cx="674.6" cy="150.6" r="1.8"/><circle cx="674.2" cy="161.5" r="1.8"/><circle cx="666.2" cy="138.9" r="1.8"/><circle cx="676.1" cy="168.0" r="1.8"/><circle cx="667.7" cy="160.8" r="1.8"/><circle cx="670.7" cy="157.8" r="1.8"/><circle cx="654.3" cy="158.4" r="1.8"/><circle cx="667.7" cy="143.3" r="1.8"/><circle cx="665.4" cy="149.3" r="1.8"/><circle cx="662.9" cy="156.6" r="1.8"/><circle cx="669.7" cy="145.2" r="1.8"/><circle cx="659.4" cy="167.5" r="1.8"/><circle cx="666.3" cy="161.2" r="1.8"/><circle cx="650.4" cy="168.0" r="1.8"/><circle cx="666.5" cy="133.3" r="1.8"/><circle cx="663.2" cy="169.8" r="1.8"/><circle cx="680.1" cy="145.5" r="1.8"/><circle cx="669.4" cy="142.2" r="1.8"/><circle cx="672.2" cy="147.8" r="1.8"/><circle cx="647.6" cy="168.3" r="1.8"/><circle cx="665.0" cy="156.8" r="1.8"/><circle cx="659.9" cy="156.1" r="1.8"/><circle cx="677.1" cy="163.7" r="1.8"/><circle cx="674.7" cy="164.3" r="1.8"/><circle cx="668.8" cy="165.1" r="1.8"/><circle cx="669.1" cy="162.6" r="1.8"/><circle cx="668.7" cy="155.0" r="1.8"/><circle cx="667.6" cy="157.5" r="1.8"/><circle cx="672.5" cy="135.0" r="1.8"/><circle cx="672.0" cy="149.5" r="1.8"/><circle cx="666.9" cy="125.0" r="1.8"/><circle cx="662.9" cy="150.1" r="1.8"/><circle cx="679.2" cy="152.4" r="1.8"/><circle cx="664.9" cy="142.1" r="1.8"/><circle cx="662.9" cy="144.9" r="1.8"/><circle cx="684.1" cy="163.7" r="1.8"/><circle cx="668.7" cy="146.9" r="1.8"/><circle cx="667.0" cy="151.3" r="1.8"/><circle cx="658.6" cy="173.8" r="1.8"/><circle cx="660.8" cy="154.9" r="1.8"/><circle cx="677.6" cy="162.0" r="1.8"/><circle cx="665.9" cy="156.4" r="1.8"/><circle cx="724.1" cy="300.4" r="1.8"/><circle cx="698.8" cy="176.9" r="1.8"/><circle cx="702.9" cy="193.9" r="1.8"/><circle cx="692.0" cy="158.2" r="1.8"/><circle cx="694.8" cy="178.8" r="1.8"/><circle cx="664.6" cy="114.7" r="1.8"/><circle cx="725.1" cy="314.2" r="1.8"/><circle cx="658.3" cy="136.5" r="1.8"/><circle cx="747.9" cy="326.0" r="1.8"/><circle cx="646.3" cy="136.6" r="1.8"/><circle cx="701.2" cy="160.9" r="1.8"/><circle cx="659.6" cy="130.9" r="1.8"/><circle cx="736.3" cy="296.4" r="1.8"/><circle cx="662.6" cy="128.4" r="1.8"/><circle cx="726.7" cy="270.3" r="1.8"/><circle cx="726.5" cy="265.3" r="1.8"/><circle cx="700.8" cy="264.8" r="1.8"/><circle cx="675.7" cy="156.3" r="1.8"/><circle cx="731.5" cy="284.2" r="1.8"/><circle cx="705.1" cy="178.4" r="1.8"/><circle cx="730.0" cy="292.3" r="1.8"/><circle cx="657.2" cy="132.8" r="1.8"/><circle cx="662.8" cy="127.8" r="1.8"/><circle cx="656.3" cy="124.0" r="1.8"/><circle cx="672.5" cy="135.8" r="1.8"/><circle cx="730.9" cy="306.0" r="1.8"/><circle cx="693.2" cy="179.8" r="1.8"/><circle cx="663.0" cy="129.3" r="1.8"/><circle cx="717.6" cy="230.2" r="1.8"/><circle cx="720.2" cy="224.5" r="1.8"/><circle cx="686.9" cy="165.3" r="1.8"/><circle cx="727.5" cy="260.0" r="1.8"/><circle cx="733.3" cy="206.1" r="1.8"/><circle cx="645.1" cy="120.5" r="1.8"/><circle cx="703.7" cy="179.3" r="1.8"/><circle cx="700.7" cy="219.0" r="1.8"/><circle cx="698.0" cy="171.8" r="1.8"/><circle cx="683.4" cy="146.3" r="1.8"/><circle cx="704.9" cy="213.1" r="1.8"/><circle cx="729.2" cy="289.9" r="1.8"/><circle cx="685.0" cy="142.4" r="1.8"/><circle cx="727.0" cy="317.2" r="1.8"/><circle cx="669.8" cy="137.4" r="1.8"/><circle cx="731.8" cy="231.0" r="1.8"/><circle cx="677.8" cy="125.8" r="1.8"/><circle cx="716.1" cy="241.3" r="1.8"/><circle cx="697.8" cy="161.9" r="1.8"/><circle cx="740.8" cy="268.4" r="1.8"/><circle cx="720.1" cy="273.6" r="1.8"/><circle cx="704.9" cy="176.9" r="1.8"/><circle cx="719.2" cy="277.9" r="1.8"/><circle cx="673.3" cy="149.1" r="1.8"/><circle cx="705.6" cy="202.9" r="1.8"/><circle cx="670.1" cy="122.1" r="1.8"/><circle cx="709.0" cy="194.2" r="1.8"/><circle cx="723.0" cy="307.6" r="1.8"/><circle cx="671.0" cy="127.2" r="1.8"/><circle cx="704.1" cy="200.3" r="1.8"/><circle cx="653.6" cy="131.6" r="1.8"/><circle cx="716.2" cy="247.2" r="1.8"/><circle cx="664.5" cy="147.9" r="1.8"/><circle cx="727.6" cy="263.9" r="1.8"/><circle cx="721.6" cy="249.7" r="1.8"/><circle cx="731.6" cy="324.0" r="1.8"/><circle cx="694.5" cy="166.5" r="1.8"/><circle cx="715.6" cy="252.0" r="1.8"/><circle cx="717.9" cy="244.5" r="1.8"/><circle cx="640.8" cy="133.5" r="1.8"/><circle cx="716.6" cy="207.3" r="1.8"/><circle cx="726.6" cy="320.9" r="1.8"/><circle cx="732.0" cy="288.2" r="1.8"/><circle cx="709.2" cy="174.7" r="1.8"/><circle cx="716.4" cy="230.3" r="1.8"/><circle cx="687.7" cy="165.6" r="1.8"/><circle cx="727.2" cy="279.3" r="1.8"/><circle cx="730.4" cy="267.7" r="1.8"/><circle cx="689.0" cy="145.8" r="1.8"/><circle cx="718.8" cy="272.6" r="1.8"/><circle cx="721.0" cy="309.4" r="1.8"/><circle cx="716.0" cy="248.7" r="1.8"/><circle cx="715.1" cy="285.8" r="1.8"/><circle cx="681.9" cy="169.9" r="1.8"/><circle cx="672.8" cy="135.9" r="1.8"/><circle cx="725.9" cy="265.3" r="1.8"/><circle cx="729.2" cy="263.8" r="1.8"/><circle cx="709.8" cy="237.0" r="1.8"/><circle cx="727.2" cy="294.3" r="1.8"/><circle cx="665.9" cy="150.7" r="1.8"/><circle cx="700.4" cy="216.8" r="1.8"/><circle cx="674.8" cy="136.3" r="1.8"/><circle cx="706.9" cy="282.6" r="1.8"/><circle cx="683.3" cy="168.6" r="1.8"/><circle cx="694.7" cy="126.1" r="1.8"/><circle cx="736.8" cy="301.1" r="1.8"/><circle cx="720.6" cy="204.7" r="1.8"/><circle cx="725.7" cy="248.5" r="1.8"/><circle cx="723.0" cy="276.8" r="1.8"/><circle cx="717.4" cy="272.9" r="1.8"/><circle cx="750.7" cy="324.5" r="1.8"/><circle cx="723.5" cy="304.2" r="1.8"/><circle cx="722.2" cy="311.5" r="1.8"/><circle cx="684.6" cy="140.5" r="1.8"/><circle cx="664.5" cy="132.0" r="1.8"/><circle cx="740.2" cy="298.7" r="1.8"/><circle cx="704.1" cy="192.0" r="1.8"/><circle cx="718.0" cy="294.3" r="1.8"/><circle cx="723.0" cy="297.2" r="1.8"/><circle cx="737.3" cy="257.2" r="1.8"/><circle cx="720.2" cy="193.1" r="1.8"/><circle cx="722.9" cy="258.4" r="1.8"/><circle cx="716.6" cy="222.9" r="1.8"/><circle cx="724.9" cy="269.3" r="1.8"/><circle cx="655.9" cy="137.5" r="1.8"/><circle cx="702.6" cy="164.3" r="1.8"/><circle cx="710.3" cy="203.5" r="1.8"/><circle cx="720.6" cy="239.9" r="1.8"/><circle cx="698.6" cy="169.9" r="1.8"/><circle cx="701.9" cy="167.8" r="1.8"/><circle cx="661.9" cy="125.8" r="1.8"/><circle cx="737.5" cy="312.4" r="1.8"/><circle cx="732.4" cy="303.7" r="1.8"/><circle cx="683.9" cy="177.9" r="1.8"/><circle cx="698.2" cy="173.2" r="1.8"/><circle cx="668.6" cy="124.4" r="1.8"/><circle cx="724.7" cy="259.3" r="1.8"/><circle cx="727.6" cy="256.9" r="1.8"/><circle cx="700.7" cy="173.7" r="1.8"/><circle cx="724.3" cy="268.5" r="1.8"/><circle cx="726.0" cy="281.9" r="1.8"/><circle cx="663.8" cy="123.7" r="1.8"/><circle cx="682.9" cy="141.1" r="1.8"/><circle cx="723.6" cy="243.5" r="1.8"/><circle cx="687.6" cy="189.6" r="1.8"/><circle cx="728.9" cy="287.1" r="1.8"/><circle cx="675.4" cy="141.9" r="1.8"/><circle cx="722.6" cy="178.3" r="1.8"/><circle cx="666.6" cy="143.4" r="1.8"/><circle cx="716.0" cy="293.7" r="1.8"/><circle cx="735.1" cy="311.4" r="1.8"/><circle cx="713.9" cy="257.6" r="1.8"/><circle cx="727.7" cy="336.9" r="1.8"/><circle cx="719.0" cy="256.8" r="1.8"/><circle cx="679.5" cy="162.2" r="1.8"/><circle cx="698.9" cy="181.2" r="1.8"/><circle cx="705.5" cy="305.0" r="1.8"/><circle cx="697.4" cy="156.4" r="1.8"/><circle cx="704.1" cy="168.7" r="1.8"/><circle cx="740.3" cy="259.6" r="1.8"/><circle cx="727.2" cy="286.1" r="1.8"/><circle cx="737.7" cy="321.5" r="1.8"/><circle cx="713.3" cy="240.2" r="1.8"/><circle cx="686.5" cy="131.8" r="1.8"/><circle cx="705.1" cy="141.9" r="1.8"/><circle cx="728.9" cy="283.4" r="1.8"/><circle cx="695.9" cy="169.2" r="1.8"/><circle cx="724.2" cy="278.9" r="1.8"/><circle cx="684.2" cy="141.7" r="1.8"/><circle cx="695.3" cy="174.3" r="1.8"/><circle cx="735.8" cy="251.2" r="1.8"/><circle cx="711.1" cy="260.0" r="1.8"/><circle cx="467.3" cy="248.8" r="1.8"/><circle cx="492.4" cy="259.5" r="1.8"/><circle cx="502.9" cy="177.2" r="1.8"/><circle cx="476.2" cy="192.5" r="1.8"/><circle cx="483.4" cy="172.6" r="1.8"/><circle cx="475.2" cy="254.6" r="1.8"/><circle cx="480.8" cy="281.8" r="1.8"/><circle cx="474.2" cy="229.3" r="1.8"/><circle cx="488.7" cy="239.1" r="1.8"/><circle cx="537.7" cy="175.8" r="1.8"/><circle cx="478.2" cy="205.1" r="1.8"/><circle cx="510.9" cy="196.4" r="1.8"/><circle cx="523.5" cy="239.0" r="1.8"/><circle cx="521.4" cy="142.2" r="1.8"/><circle cx="479.8" cy="220.5" r="1.8"/><circle cx="504.1" cy="201.5" r="1.8"/><circle cx="475.9" cy="251.7" r="1.8"/><circle cx="468.0" cy="248.1" r="1.8"/><circle cx="526.6" cy="169.4" r="1.8"/><circle cx="522.2" cy="203.0" r="1.8"/><circle cx="529.2" cy="263.6" r="1.8"/><circle cx="527.0" cy="194.4" r="1.8"/><circle cx="489.2" cy="144.1" r="1.8"/><circle cx="487.8" cy="279.6" r="1.8"/><circle cx="537.2" cy="173.9" r="1.8"/><circle cx="507.0" cy="223.4" r="1.8"/><circle cx="488.6" cy="149.4" r="1.8"/><circle cx="481.1" cy="261.7" r="1.8"/><circle cx="497.9" cy="182.8" r="1.8"/><circle cx="496.3" cy="141.0" r="1.8"/><circle cx="545.2" cy="174.3" r="1.8"/><circle cx="554.2" cy="167.5" r="1.8"/><circle cx="627.4" cy="129.5" r="1.8"/><circle cx="558.4" cy="136.9" r="1.8"/><circle cx="553.0" cy="195.4" r="1.8"/><circle cx="670.7" cy="148.3" r="1.8"/><circle cx="652.9" cy="212.5" r="1.8"/><circle cx="667.0" cy="215.6" r="1.8"/><circle cx="554.8" cy="175.0" r="1.8"/><circle cx="625.9" cy="142.0" r="1.8"/><circle cx="540.2" cy="176.2" r="1.8"/><circle cx="685.1" cy="173.2" r="1.8"/><circle cx="631.6" cy="156.8" r="1.8"/><circle cx="614.8" cy="208.2" r="1.8"/><circle cx="599.1" cy="147.5" r="1.8"/><circle cx="641.1" cy="187.9" r="1.8"/><circle cx="550.6" cy="216.5" r="1.8"/><circle cx="661.1" cy="141.3" r="1.8"/><circle cx="696.2" cy="125.4" r="1.8"/><circle cx="667.0" cy="191.9" r="1.8"/><circle cx="536.3" cy="148.7" r="1.8"/><circle cx="677.0" cy="131.6" r="1.8"/><circle cx="679.3" cy="162.6" r="1.8"/><circle cx="683.0" cy="172.0" r="1.8"/><circle cx="538.9" cy="152.1" r="1.8"/><circle cx="556.1" cy="161.3" r="1.8"/><circle cx="608.0" cy="214.6" r="1.8"/><circle cx="590.8" cy="155.7" r="1.8"/><circle cx="570.4" cy="151.3" r="1.8"/><circle cx="646.1" cy="139.1" r="1.8"/><circle cx="574.3" cy="123.7" r="1.8"/><circle cx="618.1" cy="220.2" r="1.8"/><circle cx="641.8" cy="187.1" r="1.8"/><circle cx="669.9" cy="146.9" r="1.8"/><circle cx="695.1" cy="154.4" r="1.8"/><circle cx="551.7" cy="231.0" r="1.8"/><circle cx="590.9" cy="165.3" r="1.8"/><circle cx="668.9" cy="142.7" r="1.8"/><circle cx="573.6" cy="194.0" r="1.8"/><circle cx="670.5" cy="234.9" r="1.8"/></g>
<g fill="rgb(208,138,115)" fill-opacity="0.32"><circle cx="208.9" cy="717.7" r="1.8"/><circle cx="250.6" cy="774.3" r="1.8"/><circle cx="226.7" cy="653.3" r="1.8"/><circle cx="209.0" cy="801.6" r="1.8"/><circle cx="225.3" cy="711.2" r="1.8"/><circle cx="220.0" cy="664.4" r="1.8"/><circle cx="231.4" cy="690.2" r="1.8"/><circle cx="236.8" cy="686.8" r="1.8"/><circle cx="233.7" cy="655.6" r="1.8"/><circle cx="223.4" cy="666.3" r="1.8"/><circle cx="191.1" cy="757.4" r="1.8"/><circle cx="225.2" cy="758.6" r="1.8"/><circle cx="236.1" cy="709.6" r="1.8"/><circle cx="229.7" cy="747.6" r="1.8"/><circle cx="249.4" cy="697.2" r="1.8"/><circle cx="218.0" cy="679.1" r="1.8"/><circle cx="230.6" cy="692.9" r="1.8"/><circle cx="221.0" cy="697.3" r="1.8"/><circle cx="232.8" cy="793.8" r="1.8"/><circle cx="222.5" cy="665.2" r="1.8"/><circle cx="244.1" cy="755.5" r="1.8"/><circle cx="199.1" cy="737.6" r="1.8"/><circle cx="222.9" cy="682.4" r="1.8"/><circle cx="229.7" cy="797.4" r="1.8"/><circle cx="241.4" cy="798.0" r="1.8"/><circle cx="239.3" cy="777.8" r="1.8"/><circle cx="213.8" cy="791.1" r="1.8"/><circle cx="215.6" cy="676.9" r="1.8"/><circle cx="225.4" cy="798.7" r="1.8"/><circle cx="242.7" cy="713.5" r="1.8"/><circle cx="226.4" cy="668.0" r="1.8"/><circle cx="211.3" cy="663.5" r="1.8"/><circle cx="230.3" cy="697.5" r="1.8"/><circle cx="208.9" cy="689.3" r="1.8"/><circle cx="215.1" cy="694.6" r="1.8"/><circle cx="219.0" cy="774.6" r="1.8"/><circle cx="227.9" cy="687.7" r="1.8"/><circle cx="240.1" cy="684.4" r="1.8"/><circle cx="211.1" cy="728.9" r="1.8"/><circle cx="220.8" cy="789.4" r="1.8"/><circle cx="201.9" cy="763.3" r="1.8"/><circle cx="208.2" cy="717.9" r="1.8"/><circle cx="237.6" cy="678.0" r="1.8"/><circle cx="230.4" cy="780.0" r="1.8"/><circle cx="209.0" cy="719.3" r="1.8"/><circle cx="238.8" cy="645.4" r="1.8"/><circle cx="198.5" cy="646.9" r="1.8"/><circle cx="205.9" cy="671.0" r="1.8"/><circle cx="232.5" cy="723.8" r="1.8"/><circle cx="222.9" cy="693.9" r="1.8"/><circle cx="228.5" cy="662.9" r="1.8"/><circle cx="216.9" cy="729.2" r="1.8"/><circle cx="206.8" cy="718.4" r="1.8"/><circle cx="211.6" cy="700.4" r="1.8"/><circle cx="233.5" cy="681.6" r="1.8"/><circle cx="207.4" cy="690.2" r="1.8"/><circle cx="220.1" cy="743.7" r="1.8"/><circle cx="231.9" cy="663.8" r="1.8"/><circle cx="201.0" cy="689.3" r="1.8"/><circle cx="207.4" cy="733.2" r="1.8"/><circle cx="228.9" cy="738.4" r="1.8"/><circle cx="240.4" cy="766.5" r="1.8"/><circle cx="220.6" cy="716.1" r="1.8"/><circle cx="232.9" cy="700.9" r="1.8"/><circle cx="225.9" cy="682.6" r="1.8"/><circle cx="228.2" cy="685.2" r="1.8"/><circle cx="224.6" cy="671.6" r="1.8"/><circle cx="223.7" cy="774.1" r="1.8"/><circle cx="220.1" cy="674.7" r="1.8"/><circle cx="209.3" cy="773.8" r="1.8"/><circle cx="250.3" cy="751.5" r="1.8"/><circle cx="205.1" cy="768.9" r="1.8"/><circle cx="219.2" cy="752.9" r="1.8"/><circle cx="205.2" cy="634.2" r="1.8"/><circle cx="230.6" cy="694.8" r="1.8"/><circle cx="206.5" cy="781.3" r="1.8"/><circle cx="223.8" cy="645.1" r="1.8"/><circle cx="197.4" cy="647.1" r="1.8"/><circle cx="217.7" cy="717.6" r="1.8"/><circle cx="204.2" cy="768.0" r="1.8"/><circle cx="227.6" cy="676.0" r="1.8"/><circle cx="217.7" cy="745.9" r="1.8"/><circle cx="204.6" cy="711.4" r="1.8"/><circle cx="225.9" cy="723.8" r="1.8"/><circle cx="226.5" cy="742.8" r="1.8"/><circle cx="222.5" cy="671.7" r="1.8"/><circle cx="229.9" cy="786.5" r="1.8"/><circle cx="233.4" cy="721.1" r="1.8"/><circle cx="242.9" cy="653.7" r="1.8"/><circle cx="244.5" cy="688.3" r="1.8"/><circle cx="239.3" cy="779.0" r="1.8"/><circle cx="210.4" cy="688.6" r="1.8"/><circle cx="213.7" cy="657.6" r="1.8"/><circle cx="225.5" cy="664.0" r="1.8"/><circle cx="206.9" cy="723.7" r="1.8"/><circle cx="235.3" cy="768.4" r="1.8"/><circle cx="241.0" cy="772.1" r="1.8"/><circle cx="238.2" cy="794.9" r="1.8"/><circle cx="210.0" cy="746.4" r="1.8"/><circle cx="236.5" cy="688.6" r="1.8"/><circle cx="241.6" cy="770.2" r="1.8"/><circle cx="225.1" cy="665.1" r="1.8"/><circle cx="213.9" cy="684.2" r="1.8"/><circle cx="244.1" cy="685.3" r="1.8"/><circle cx="204.7" cy="746.6" r="1.8"/><circle cx="243.2" cy="696.8" r="1.8"/><circle cx="208.7" cy="682.1" r="1.8"/><circle cx="243.4" cy="792.0" r="1.8"/><circle cx="241.6" cy="670.4" r="1.8"/><circle cx="242.1" cy="727.2" r="1.8"/><circle cx="224.2" cy="769.0" r="1.8"/><circle cx="236.4" cy="673.1" r="1.8"/><circle cx="215.6" cy="784.5" r="1.8"/><circle cx="239.7" cy="780.4" r="1.8"/><circle cx="224.9" cy="743.3" r="1.8"/><circle cx="212.1" cy="686.8" r="1.8"/><circle cx="205.2" cy="738.5" r="1.8"/><circle cx="206.6" cy="645.8" r="1.8"/><circle cx="212.7" cy="694.2" r="1.8"/><circle cx="211.7" cy="714.1" r="1.8"/><circle cx="222.7" cy="763.7" r="1.8"/><circle cx="229.1" cy="678.3" r="1.8"/><circle cx="208.1" cy="796.6" r="1.8"/><circle cx="243.6" cy="710.0" r="1.8"/><circle cx="212.7" cy="628.1" r="1.8"/><circle cx="211.2" cy="667.0" r="1.8"/><circle cx="206.0" cy="778.0" r="1.8"/><circle cx="241.4" cy="665.5" r="1.8"/><circle cx="251.0" cy="643.3" r="1.8"/><circle cx="210.8" cy="684.4" r="1.8"/><circle cx="216.9" cy="734.6" r="1.8"/><circle cx="205.6" cy="648.4" r="1.8"/><circle cx="226.8" cy="754.2" r="1.8"/><circle cx="223.0" cy="705.1" r="1.8"/><circle cx="209.9" cy="677.0" r="1.8"/><circle cx="233.5" cy="670.2" r="1.8"/><circle cx="210.3" cy="730.4" r="1.8"/><circle cx="206.6" cy="710.1" r="1.8"/><circle cx="215.2" cy="769.9" r="1.8"/><circle cx="220.2" cy="772.7" r="1.8"/><circle cx="238.0" cy="672.9" r="1.8"/><circle cx="241.1" cy="698.3" r="1.8"/><circle cx="239.6" cy="617.2" r="1.8"/><circle cx="236.5" cy="699.9" r="1.8"/><circle cx="236.1" cy="658.8" r="1.8"/><circle cx="237.7" cy="731.5" r="1.8"/><circle cx="235.8" cy="691.5" r="1.8"/><circle cx="236.0" cy="601.7" r="1.8"/><circle cx="239.6" cy="695.2" r="1.8"/><circle cx="239.5" cy="636.3" r="1.8"/><circle cx="239.4" cy="670.1" r="1.8"/><circle cx="240.4" cy="621.4" r="1.8"/><circle cx="235.0" cy="698.0" r="1.8"/><circle cx="238.2" cy="692.3" r="1.8"/><circle cx="237.0" cy="686.3" r="1.8"/><circle cx="239.5" cy="616.2" r="1.8"/><circle cx="236.5" cy="620.4" r="1.8"/><circle cx="238.6" cy="672.5" r="1.8"/><circle cx="239.3" cy="685.8" r="1.8"/><circle cx="239.5" cy="621.2" r="1.8"/><circle cx="240.4" cy="672.7" r="1.8"/><circle cx="240.2" cy="634.4" r="1.8"/><circle cx="238.2" cy="684.5" r="1.8"/><circle cx="235.7" cy="632.1" r="1.8"/><circle cx="238.6" cy="729.8" r="1.8"/><circle cx="240.2" cy="706.0" r="1.8"/><circle cx="239.8" cy="682.9" r="1.8"/><circle cx="235.0" cy="715.3" r="1.8"/><circle cx="236.6" cy="630.3" r="1.8"/><circle cx="239.0" cy="670.9" r="1.8"/><circle cx="238.8" cy="626.3" r="1.8"/><circle cx="238.2" cy="651.5" r="1.8"/><circle cx="238.2" cy="661.9" r="1.8"/><circle cx="236.8" cy="648.8" r="1.8"/><circle cx="238.8" cy="683.8" r="1.8"/><circle cx="240.6" cy="731.9" r="1.8"/><circle cx="238.1" cy="627.4" r="1.8"/><circle cx="235.5" cy="692.5" r="1.8"/><circle cx="237.0" cy="635.0" r="1.8"/><circle cx="238.8" cy="718.6" r="1.8"/><circle cx="238.8" cy="621.4" r="1.8"/><circle cx="236.9" cy="710.9" r="1.8"/><circle cx="236.7" cy="680.3" r="1.8"/><circle cx="238.3" cy="684.4" r="1.8"/><circle cx="238.4" cy="620.9" r="1.8"/><circle cx="231.5" cy="750.8" r="1.8"/><circle cx="230.6" cy="723.5" r="1.8"/><circle cx="226.9" cy="672.3" r="1.8"/><circle cx="229.1" cy="694.7" r="1.8"/><circle cx="229.4" cy="722.1" r="1.8"/><circle cx="224.3" cy="656.3" r="1.8"/><circle cx="227.8" cy="684.1" r="1.8"/><circle cx="228.2" cy="657.5" r="1.8"/><circle cx="227.7" cy="706.0" r="1.8"/><circle cx="225.9" cy="725.5" r="1.8"/><circle cx="227.8" cy="655.3" r="1.8"/><circle cx="228.8" cy="688.7" r="1.8"/><circle cx="228.6" cy="676.9" r="1.8"/><circle cx="226.4" cy="727.2" r="1.8"/><circle cx="231.5" cy="717.7" r="1.8"/><circle cx="226.4" cy="639.4" r="1.8"/><circle cx="227.1" cy="701.6" r="1.8"/><circle cx="228.8" cy="678.7" r="1.8"/><circle cx="227.2" cy="671.8" r="1.8"/><circle cx="227.1" cy="690.0" r="1.8"/><circle cx="227.2" cy="638.2" r="1.8"/><circle cx="227.8" cy="694.9" r="1.8"/><circle cx="231.6" cy="671.2" r="1.8"/><circle cx="227.6" cy="694.6" r="1.8"/><circle cx="227.2" cy="724.8" r="1.8"/><circle cx="226.3" cy="752.1" r="1.8"/><circle cx="228.3" cy="693.8" r="1.8"/><circle cx="228.9" cy="698.0" r="1.8"/><circle cx="226.7" cy="726.7" r="1.8"/><circle cx="227.3" cy="654.7" r="1.8"/><circle cx="212.0" cy="680.3" r="1.8"/><circle cx="214.3" cy="760.2" r="1.8"/><circle cx="211.9" cy="759.0" r="1.8"/><circle cx="210.0" cy="726.8" r="1.8"/><circle cx="215.9" cy="712.3" r="1.8"/><circle cx="212.3" cy="717.9" r="1.8"/><circle cx="213.1" cy="662.5" r="1.8"/><circle cx="214.5" cy="662.4" r="1.8"/><circle cx="215.3" cy="664.3" r="1.8"/><circle cx="214.2" cy="783.9" r="1.8"/><circle cx="213.4" cy="664.1" r="1.8"/><circle cx="216.8" cy="767.3" r="1.8"/><circle cx="213.5" cy="671.1" r="1.8"/><circle cx="212.6" cy="707.5" r="1.8"/><circle cx="214.3" cy="773.6" r="1.8"/><circle cx="213.0" cy="735.2" r="1.8"/><circle cx="214.4" cy="777.9" r="1.8"/><circle cx="212.6" cy="695.8" r="1.8"/><circle cx="214.6" cy="662.0" r="1.8"/><circle cx="211.5" cy="719.4" r="1.8"/><circle cx="214.2" cy="727.8" r="1.8"/><circle cx="215.0" cy="728.0" r="1.8"/><circle cx="214.2" cy="704.3" r="1.8"/><circle cx="213.9" cy="763.0" r="1.8"/><circle cx="217.3" cy="718.4" r="1.8"/><circle cx="133.9" cy="729.1" r="1.8"/><circle cx="130.5" cy="750.0" r="1.8"/><circle cx="129.1" cy="759.8" r="1.8"/><circle cx="141.9" cy="771.2" r="1.8"/><circle cx="158.4" cy="737.5" r="1.8"/><circle cx="165.0" cy="755.1" r="1.8"/><circle cx="151.8" cy="763.6" r="1.8"/><circle cx="158.6" cy="759.4" r="1.8"/><circle cx="141.6" cy="737.9" r="1.8"/><circle cx="154.3" cy="748.6" r="1.8"/><circle cx="174.4" cy="758.0" r="1.8"/><circle cx="161.0" cy="720.0" r="1.8"/><circle cx="157.2" cy="741.6" r="1.8"/><circle cx="143.6" cy="755.0" r="1.8"/><circle cx="154.8" cy="730.1" r="1.8"/><circle cx="161.3" cy="759.4" r="1.8"/><circle cx="159.7" cy="737.2" r="1.8"/><circle cx="167.1" cy="758.3" r="1.8"/><circle cx="165.8" cy="719.3" r="1.8"/><circle cx="143.3" cy="716.5" r="1.8"/><circle cx="166.7" cy="716.9" r="1.8"/><circle cx="141.9" cy="733.0" r="1.8"/><circle cx="149.3" cy="725.6" r="1.8"/><circle cx="157.2" cy="765.6" r="1.8"/><circle cx="141.8" cy="749.1" r="1.8"/><circle cx="133.6" cy="736.2" r="1.8"/><circle cx="136.3" cy="758.0" r="1.8"/><circle cx="153.7" cy="727.2" r="1.8"/><circle cx="152.2" cy="740.7" r="1.8"/><circle cx="150.3" cy="760.1" r="1.8"/><circle cx="152.5" cy="773.0" r="1.8"/><circle cx="137.6" cy="755.4" r="1.8"/><circle cx="135.4" cy="738.8" r="1.8"/><circle cx="149.7" cy="713.5" r="1.8"/><circle cx="150.2" cy="742.8" r="1.8"/><circle cx="159.0" cy="761.5" r="1.8"/><circle cx="167.8" cy="763.1" r="1.8"/><circle cx="130.8" cy="720.8" r="1.8"/><circle cx="143.7" cy="722.9" r="1.8"/><circle cx="172.4" cy="748.7" r="1.8"/><circle cx="142.5" cy="770.4" r="1.8"/><circle cx="162.1" cy="766.7" r="1.8"/><circle cx="147.6" cy="716.3" r="1.8"/><circle cx="154.9" cy="749.8" r="1.8"/><circle cx="156.0" cy="763.5" r="1.8"/><circle cx="165.7" cy="745.5" r="1.8"/><circle cx="164.8" cy="743.0" r="1.8"/><circle cx="156.0" cy="766.9" r="1.8"/><circle cx="156.3" cy="724.0" r="1.8"/><circle cx="175.2" cy="773.2" r="1.8"/><circle cx="131.1" cy="729.1" r="1.8"/><circle cx="145.6" cy="725.4" r="1.8"/><circle cx="154.7" cy="725.7" r="1.8"/><circle cx="141.1" cy="764.1" r="1.8"/><circle cx="145.1" cy="770.7" r="1.8"/><circle cx="174.3" cy="771.4" r="1.8"/><circle cx="146.3" cy="717.1" r="1.8"/><circle cx="160.1" cy="752.4" r="1.8"/><circle cx="159.5" cy="750.7" r="1.8"/><circle cx="154.0" cy="721.9" r="1.8"/><circle cx="158.3" cy="754.7" r="1.8"/><circle cx="145.1" cy="775.4" r="1.8"/><circle cx="152.7" cy="730.9" r="1.8"/><circle cx="155.8" cy="711.1" r="1.8"/><circle cx="143.8" cy="724.8" r="1.8"/><circle cx="165.6" cy="732.7" r="1.8"/><circle cx="134.4" cy="746.3" r="1.8"/><circle cx="167.8" cy="757.3" r="1.8"/><circle cx="154.7" cy="720.2" r="1.8"/><circle cx="155.1" cy="722.2" r="1.8"/><circle cx="124.0" cy="765.2" r="1.8"/><circle cx="142.2" cy="739.6" r="1.8"/><circle cx="156.0" cy="742.3" r="1.8"/><circle cx="165.3" cy="729.5" r="1.8"/><circle cx="161.0" cy="759.5" r="1.8"/><circle cx="164.6" cy="750.5" r="1.8"/><circle cx="134.9" cy="734.0" r="1.8"/><circle cx="166.5" cy="725.5" r="1.8"/><circle cx="170.7" cy="742.4" r="1.8"/><circle cx="169.6" cy="769.6" r="1.8"/><circle cx="187.4" cy="703.4" r="1.8"/><circle cx="159.1" cy="733.5" r="1.8"/><circle cx="166.7" cy="792.8" r="1.8"/><circle cx="189.4" cy="692.8" r="1.8"/><circle cx="181.1" cy="749.3" r="1.8"/><circle cx="169.2" cy="781.7" r="1.8"/><circle cx="183.6" cy="771.5" r="1.8"/><circle cx="187.7" cy="710.9" r="1.8"/><circle cx="150.3" cy="734.2" r="1.8"/><circle cx="185.1" cy="795.3" r="1.8"/><circle cx="159.3" cy="803.0" r="1.8"/><circle cx="184.9" cy="760.2" r="1.8"/><circle cx="175.8" cy="776.8" r="1.8"/><circle cx="190.4" cy="752.5" r="1.8"/><circle cx="169.3" cy="717.3" r="1.8"/><circle cx="168.4" cy="718.0" r="1.8"/><circle cx="195.3" cy="793.8" r="1.8"/><circle cx="201.7" cy="818.1" r="1.8"/><circle cx="195.9" cy="740.1" r="1.8"/><circle cx="184.9" cy="768.5" r="1.8"/><circle cx="175.4" cy="761.6" r="1.8"/><circle cx="161.1" cy="749.2" r="1.8"/><circle cx="179.3" cy="791.1" r="1.8"/><circle cx="167.0" cy="729.7" r="1.8"/><circle cx="153.6" cy="707.3" r="1.8"/><circle cx="175.2" cy="802.9" r="1.8"/><circle cx="182.8" cy="747.2" r="1.8"/><circle cx="174.2" cy="801.7" r="1.8"/><circle cx="168.6" cy="779.9" r="1.8"/><circle cx="187.2" cy="722.1" r="1.8"/><circle cx="184.6" cy="722.1" r="1.8"/><circle cx="169.9" cy="788.9" r="1.8"/><circle cx="175.9" cy="752.2" r="1.8"/><circle cx="185.5" cy="782.3" r="1.8"/><circle cx="187.6" cy="779.9" r="1.8"/><circle cx="170.0" cy="708.5" r="1.8"/><circle cx="196.9" cy="772.2" r="1.8"/><circle cx="206.8" cy="810.2" r="1.8"/><circle cx="162.7" cy="796.9" r="1.8"/><circle cx="185.3" cy="794.3" r="1.8"/><circle cx="170.9" cy="750.7" r="1.8"/><circle cx="193.2" cy="772.6" r="1.8"/><circle cx="163.2" cy="755.3" r="1.8"/><circle cx="155.9" cy="753.6" r="1.8"/><circle cx="192.8" cy="710.6" r="1.8"/><circle cx="158.9" cy="772.8" r="1.8"/><circle cx="210.5" cy="746.9" r="1.8"/><circle cx="160.2" cy="742.1" r="1.8"/><circle cx="196.4" cy="712.3" r="1.8"/><circle cx="179.2" cy="730.1" r="1.8"/><circle cx="259.2" cy="681.1" r="1.8"/><circle cx="261.5" cy="770.8" r="1.8"/><circle cx="260.0" cy="761.1" r="1.8"/><circle cx="264.3" cy="737.8" r="1.8"/><circle cx="259.9" cy="756.8" r="1.8"/><circle cx="264.4" cy="719.8" r="1.8"/><circle cx="263.4" cy="783.4" r="1.8"/><circle cx="258.7" cy="699.2" r="1.8"/><circle cx="261.7" cy="697.1" r="1.8"/><circle cx="261.4" cy="761.1" r="1.8"/><circle cx="260.8" cy="761.0" r="1.8"/><circle cx="261.6" cy="760.2" r="1.8"/><circle cx="266.0" cy="734.2" r="1.8"/><circle cx="261.6" cy="704.0" r="1.8"/><circle cx="259.6" cy="753.8" r="1.8"/><circle cx="260.1" cy="749.6" r="1.8"/><circle cx="260.9" cy="709.2" r="1.8"/><circle cx="266.5" cy="729.0" r="1.8"/><circle cx="261.0" cy="718.1" r="1.8"/><circle cx="264.8" cy="739.1" r="1.8"/><circle cx="259.1" cy="767.4" r="1.8"/><circle cx="261.0" cy="730.8" r="1.8"/><circle cx="261.2" cy="767.3" r="1.8"/><circle cx="261.1" cy="708.4" r="1.8"/><circle cx="262.5" cy="734.5" r="1.8"/><circle cx="262.8" cy="765.8" r="1.8"/><circle cx="261.6" cy="724.6" r="1.8"/><circle cx="259.3" cy="684.0" r="1.8"/><circle cx="262.3" cy="762.4" r="1.8"/><circle cx="261.9" cy="758.0" r="1.8"/><circle cx="263.3" cy="692.2" r="1.8"/><circle cx="260.1" cy="771.1" r="1.8"/><circle cx="264.5" cy="736.5" r="1.8"/><circle cx="262.6" cy="731.9" r="1.8"/><circle cx="259.5" cy="689.0" r="1.8"/><circle cx="263.6" cy="721.4" r="1.8"/><circle cx="260.0" cy="763.4" r="1.8"/><circle cx="260.5" cy="739.6" r="1.8"/><circle cx="261.4" cy="782.7" r="1.8"/><circle cx="262.5" cy="710.2" r="1.8"/><circle cx="266.6" cy="740.1" r="1.8"/><circle cx="261.5" cy="744.9" r="1.8"/><circle cx="263.0" cy="717.0" r="1.8"/><circle cx="262.9" cy="769.6" r="1.8"/><circle cx="261.4" cy="757.8" r="1.8"/><circle cx="258.9" cy="688.1" r="1.8"/><circle cx="262.0" cy="724.4" r="1.8"/><circle cx="257.9" cy="729.1" r="1.8"/><circle cx="262.7" cy="716.1" r="1.8"/><circle cx="259.1" cy="726.4" r="1.8"/><circle cx="262.0" cy="699.2" r="1.8"/><circle cx="263.0" cy="793.1" r="1.8"/><circle cx="274.9" cy="785.2" r="1.8"/><circle cx="277.0" cy="755.6" r="1.8"/><circle cx="249.3" cy="728.9" r="1.8"/><circle cx="246.8" cy="803.5" r="1.8"/><circle cx="270.7" cy="721.2" r="1.8"/><circle cx="244.8" cy="741.6" r="1.8"/><circle cx="269.1" cy="764.5" r="1.8"/><circle cx="274.6" cy="729.7" r="1.8"/><circle cx="246.7" cy="798.7" r="1.8"/><circle cx="255.3" cy="771.7" r="1.8"/><circle cx="275.7" cy="723.7" r="1.8"/><circle cx="267.6" cy="702.7" r="1.8"/><circle cx="291.0" cy="789.3" r="1.8"/><circle cx="264.9" cy="709.6" r="1.8"/><circle cx="268.1" cy="696.0" r="1.8"/><circle cx="248.3" cy="749.3" r="1.8"/><circle cx="266.4" cy="711.3" r="1.8"/><circle cx="275.5" cy="767.2" r="1.8"/><circle cx="270.9" cy="765.9" r="1.8"/><circle cx="257.1" cy="739.5" r="1.8"/><circle cx="278.4" cy="742.1" r="1.8"/><circle cx="267.5" cy="738.3" r="1.8"/><circle cx="259.9" cy="799.6" r="1.8"/><circle cx="277.2" cy="755.3" r="1.8"/><circle cx="266.9" cy="749.7" r="1.8"/><circle cx="262.7" cy="765.8" r="1.8"/><circle cx="266.0" cy="774.5" r="1.8"/><circle cx="282.3" cy="746.6" r="1.8"/><circle cx="274.2" cy="761.6" r="1.8"/><circle cx="244.3" cy="724.7" r="1.8"/><circle cx="271.7" cy="709.5" r="1.8"/><circle cx="277.8" cy="805.1" r="1.8"/><circle cx="267.8" cy="724.8" r="1.8"/><circle cx="269.0" cy="719.4" r="1.8"/><circle cx="282.1" cy="772.2" r="1.8"/><circle cx="265.8" cy="789.9" r="1.8"/><circle cx="264.9" cy="799.6" r="1.8"/><circle cx="270.3" cy="724.4" r="1.8"/><circle cx="332.7" cy="806.9" r="1.8"/><circle cx="298.6" cy="791.6" r="1.8"/><circle cx="306.1" cy="817.8" r="1.8"/><circle cx="287.3" cy="782.2" r="1.8"/><circle cx="291.8" cy="820.7" r="1.8"/><circle cx="320.9" cy="819.6" r="1.8"/><circle cx="322.2" cy="807.4" r="1.8"/><circle cx="303.0" cy="786.1" r="1.8"/><circle cx="322.8" cy="819.7" r="1.8"/><circle cx="304.7" cy="814.3" r="1.8"/><circle cx="318.9" cy="821.2" r="1.8"/><circle cx="300.1" cy="793.0" r="1.8"/><circle cx="341.1" cy="815.0" r="1.8"/><circle cx="289.6" cy="824.0" r="1.8"/><circle cx="303.7" cy="805.3" r="1.8"/><circle cx="336.2" cy="787.8" r="1.8"/><circle cx="330.6" cy="819.7" r="1.8"/><circle cx="316.2" cy="788.5" r="1.8"/><circle cx="301.7" cy="810.2" r="1.8"/><circle cx="326.7" cy="818.7" r="1.8"/><circle cx="340.4" cy="803.6" r="1.8"/><circle cx="312.6" cy="803.0" r="1.8"/><circle cx="318.2" cy="789.9" r="1.8"/><circle cx="312.2" cy="816.0" r="1.8"/><circle cx="318.6" cy="820.8" r="1.8"/><circle cx="334.2" cy="802.3" r="1.8"/><circle cx="292.4" cy="815.6" r="1.8"/><circle cx="319.0" cy="808.2" r="1.8"/><circle cx="284.2" cy="805.9" r="1.8"/><circle cx="322.4" cy="818.3" r="1.8"/><circle cx="317.4" cy="820.3" r="1.8"/><circle cx="317.6" cy="808.9" r="1.8"/><circle cx="297.4" cy="800.8" r="1.8"/><circle cx="342.0" cy="798.2" r="1.8"/><circle cx="321.8" cy="815.6" r="1.8"/><circle cx="314.0" cy="790.1" r="1.8"/><circle cx="301.0" cy="804.5" r="1.8"/><circle cx="337.8" cy="788.6" r="1.8"/><circle cx="308.2" cy="792.1" r="1.8"/><circle cx="310.7" cy="787.7" r="1.8"/><circle cx="332.9" cy="816.4" r="1.8"/><circle cx="301.4" cy="816.0" r="1.8"/><circle cx="286.1" cy="819.3" r="1.8"/><circle cx="312.5" cy="799.8" r="1.8"/><circle cx="332.5" cy="812.9" r="1.8"/><circle cx="303.3" cy="798.7" r="1.8"/><circle cx="324.0" cy="822.1" r="1.8"/><circle cx="309.8" cy="784.6" r="1.8"/><circle cx="295.1" cy="800.1" r="1.8"/><circle cx="318.1" cy="796.0" r="1.8"/><circle cx="346.1" cy="805.2" r="1.8"/><circle cx="297.9" cy="815.4" r="1.8"/><circle cx="317.4" cy="814.0" r="1.8"/><circle cx="315.2" cy="801.7" r="1.8"/><circle cx="341.5" cy="801.7" r="1.8"/><circle cx="308.4" cy="801.4" r="1.8"/><circle cx="304.9" cy="786.3" r="1.8"/><circle cx="305.4" cy="809.7" r="1.8"/><circle cx="283.5" cy="800.1" r="1.8"/><circle cx="329.6" cy="814.5" r="1.8"/><circle cx="290.4" cy="818.6" r="1.8"/><circle cx="336.6" cy="810.1" r="1.8"/><circle cx="321.7" cy="810.0" r="1.8"/><circle cx="299.6" cy="820.2" r="1.8"/><circle cx="302.9" cy="814.6" r="1.8"/><circle cx="330.4" cy="801.0" r="1.8"/><circle cx="329.5" cy="781.3" r="1.8"/><circle cx="276.6" cy="817.2" r="1.8"/><circle cx="284.5" cy="816.8" r="1.8"/><circle cx="337.5" cy="802.9" r="1.8"/><circle cx="300.9" cy="810.0" r="1.8"/><circle cx="293.4" cy="775.5" r="1.8"/><circle cx="313.7" cy="792.0" r="1.8"/><circle cx="343.0" cy="812.4" r="1.8"/><circle cx="312.5" cy="815.8" r="1.8"/><circle cx="309.5" cy="803.4" r="1.8"/><circle cx="307.9" cy="806.8" r="1.8"/><circle cx="323.1" cy="779.0" r="1.8"/><circle cx="296.6" cy="784.1" r="1.8"/><circle cx="318.8" cy="819.7" r="1.8"/><circle cx="338.4" cy="781.1" r="1.8"/><circle cx="292.0" cy="807.5" r="1.8"/><circle cx="336.0" cy="821.8" r="1.8"/><circle cx="307.6" cy="816.0" r="1.8"/><circle cx="332.4" cy="813.9" r="1.8"/><circle cx="319.4" cy="780.3" r="1.8"/><circle cx="301.5" cy="813.5" r="1.8"/><circle cx="341.4" cy="823.4" r="1.8"/><circle cx="328.6" cy="786.4" r="1.8"/><circle cx="308.8" cy="788.1" r="1.8"/><circle cx="259.1" cy="812.2" r="1.8"/><circle cx="229.7" cy="774.6" r="1.8"/><circle cx="294.8" cy="712.5" r="1.8"/><circle cx="201.0" cy="800.6" r="1.8"/><circle cx="238.5" cy="796.8" r="1.8"/><circle cx="221.8" cy="775.1" r="1.8"/><circle cx="156.0" cy="753.2" r="1.8"/><circle cx="173.3" cy="811.7" r="1.8"/><circle cx="191.2" cy="737.6" r="1.8"/><circle cx="321.6" cy="708.6" r="1.8"/><circle cx="391.8" cy="745.2" r="1.8"/><circle cx="212.9" cy="723.5" r="1.8"/><circle cx="106.8" cy="713.3" r="1.8"/><circle cx="310.7" cy="702.4" r="1.8"/><circle cx="111.7" cy="710.1" r="1.8"/><circle cx="252.6" cy="820.7" r="1.8"/><circle cx="190.4" cy="725.7" r="1.8"/><circle cx="311.7" cy="719.9" r="1.8"/><circle cx="164.9" cy="723.4" r="1.8"/><circle cx="235.7" cy="615.1" r="1.8"/><circle cx="228.1" cy="608.6" r="1.8"/><circle cx="240.1" cy="568.0" r="1.8"/><circle cx="254.6" cy="594.1" r="1.8"/></g>
<g fill="rgb(115,128,182)" fill-opacity="0.32"><circle cx="228.4" cy="714.0" r="1.8"/><circle cx="234.5" cy="681.6" r="1.8"/><circle cx="236.3" cy="657.7" r="1.8"/><circle cx="230.0" cy="692.8" r="1.8"/><circle cx="246.0" cy="733.7" r="1.8"/><circle cx="213.0" cy="796.9" r="1.8"/><circle cx="212.7" cy="774.3" r="1.8"/><circle cx="210.8" cy="722.7" r="1.8"/><circle cx="204.6" cy="652.7" r="1.8"/><circle cx="206.0" cy="665.6" r="1.8"/><circle cx="241.6" cy="678.5" r="1.8"/><circle cx="213.3" cy="661.1" r="1.8"/><circle cx="207.1" cy="690.6" r="1.8"/><circle cx="245.9" cy="745.8" r="1.8"/><circle cx="235.5" cy="642.7" r="1.8"/><circle cx="209.3" cy="675.8" r="1.8"/><circle cx="196.6" cy="788.4" r="1.8"/><circle cx="229.1" cy="715.4" r="1.8"/><circle cx="196.6" cy="727.5" r="1.8"/><circle cx="205.7" cy="740.8" r="1.8"/><circle cx="241.6" cy="748.8" r="1.8"/><circle cx="234.9" cy="680.4" r="1.8"/><circle cx="217.9" cy="746.5" r="1.8"/><circle cx="205.6" cy="650.3" r="1.8"/><circle cx="228.5" cy="769.5" r="1.8"/><circle cx="210.7" cy="767.3" r="1.8"/><circle cx="221.8" cy="697.0" r="1.8"/><circle cx="200.5" cy="760.4" r="1.8"/><circle cx="238.8" cy="656.7" r="1.8"/><circle cx="236.1" cy="773.2" r="1.8"/><circle cx="237.8" cy="718.4" r="1.8"/><circle cx="242.3" cy="705.3" r="1.8"/><circle cx="226.7" cy="676.3" r="1.8"/><circle cx="239.4" cy="764.8" r="1.8"/><circle cx="226.8" cy="717.7" r="1.8"/><circle cx="215.4" cy="683.0" r="1.8"/><circle cx="241.0" cy="681.1" r="1.8"/><circle cx="230.7" cy="726.2" r="1.8"/><circle cx="202.8" cy="651.4" r="1.8"/><circle cx="210.0" cy="701.6" r="1.8"/><circle cx="229.8" cy="655.5" r="1.8"/><circle cx="233.7" cy="784.2" r="1.8"/><circle cx="207.9" cy="696.2" r="1.8"/><circle cx="215.5" cy="643.1" r="1.8"/><circle cx="212.1" cy="710.6" r="1.8"/><circle cx="208.2" cy="675.2" r="1.8"/><circle cx="243.8" cy="737.8" r="1.8"/><circle cx="218.8" cy="769.9" r="1.8"/><circle cx="234.6" cy="729.1" r="1.8"/><circle cx="237.2" cy="776.4" r="1.8"/><circle cx="240.2" cy="728.5" r="1.8"/><circle cx="248.5" cy="773.9" r="1.8"/><circle cx="202.9" cy="710.5" r="1.8"/><circle cx="234.6" cy="756.4" r="1.8"/><circle cx="243.0" cy="695.4" r="1.8"/><circle cx="239.8" cy="765.3" r="1.8"/><circle cx="235.4" cy="771.9" r="1.8"/><circle cx="217.4" cy="681.3" r="1.8"/><circle cx="220.7" cy="717.5" r="1.8"/><circle cx="212.7" cy="708.7" r="1.8"/><circle cx="236.1" cy="660.4" r="1.8"/><circle cx="194.9" cy="697.0" r="1.8"/><circle cx="202.4" cy="695.1" r="1.8"/><circle cx="229.7" cy="784.4" r="1.8"/><circle cx="206.6" cy="751.9" r="1.8"/><circle cx="214.4" cy="649.1" r="1.8"/><circle cx="230.2" cy="661.3" r="1.8"/><circle cx="207.0" cy="680.1" r="1.8"/><circle cx="222.8" cy="728.5" r="1.8"/><circle cx="224.8" cy="681.8" r="1.8"/><circle cx="208.8" cy="658.4" r="1.8"/><circle cx="244.3" cy="735.1" r="1.8"/><circle cx="238.1" cy="694.8" r="1.8"/><circle cx="203.9" cy="725.4" r="1.8"/><circle cx="218.5" cy="768.9" r="1.8"/><circle cx="234.9" cy="799.9" r="1.8"/><circle cx="231.6" cy="754.2" r="1.8"/><circle cx="208.0" cy="762.5" r="1.8"/><circle cx="209.6" cy="741.1" r="1.8"/><circle cx="227.9" cy="729.6" r="1.8"/><circle cx="203.6" cy="643.1" r="1.8"/><circle cx="229.1" cy="719.6" r="1.8"/><circle cx="234.6" cy="665.8" r="1.8"/><circle cx="243.3" cy="669.4" r="1.8"/><circle cx="241.0" cy="693.7" r="1.8"/><circle cx="201.3" cy="723.5" r="1.8"/><circle cx="214.2" cy="786.2" r="1.8"/><circle cx="217.6" cy="652.0" r="1.8"/><circle cx="241.3" cy="695.3" r="1.8"/><circle cx="229.9" cy="669.2" r="1.8"/><circle cx="222.5" cy="769.9" r="1.8"/><circle cx="212.4" cy="678.4" r="1.8"/><circle cx="229.2" cy="709.0" r="1.8"/><circle cx="219.9" cy="694.6" r="1.8"/><circle cx="213.8" cy="739.9" r="1.8"/><circle cx="231.9" cy="650.0" r="1.8"/><circle cx="219.3" cy="742.2" r="1.8"/><circle cx="221.2" cy="752.7" r="1.8"/><circle cx="221.0" cy="685.3" r="1.8"/><circle cx="219.8" cy="791.5" r="1.8"/><circle cx="208.3" cy="743.5" r="1.8"/><circle cx="202.2" cy="665.7" r="1.8"/><circle cx="208.2" cy="687.3" r="1.8"/><circle cx="209.1" cy="659.2" r="1.8"/><circle cx="217.6" cy="693.8" r="1.8"/><circle cx="226.8" cy="641.4" r="1.8"/><circle cx="217.0" cy="745.1" r="1.8"/><circle cx="223.3" cy="806.4" r="1.8"/><circle cx="193.5" cy="778.5" r="1.8"/><circle cx="199.8" cy="665.8" r="1.8"/><circle cx="236.5" cy="714.5" r="1.8"/><circle cx="234.1" cy="733.3" r="1.8"/><circle cx="241.4" cy="713.8" r="1.8"/><circle cx="222.0" cy="722.8" r="1.8"/><circle cx="236.7" cy="650.7" r="1.8"/><circle cx="229.1" cy="726.8" r="1.8"/><circle cx="205.6" cy="739.4" r="1.8"/><circle cx="225.7" cy="734.6" r="1.8"/><circle cx="228.5" cy="793.4" r="1.8"/><circle cx="209.2" cy="732.5" r="1.8"/><circle cx="228.4" cy="732.0" r="1.8"/><circle cx="224.7" cy="741.6" r="1.8"/><circle cx="213.3" cy="652.1" r="1.8"/><circle cx="212.8" cy="734.0" r="1.8"/><circle cx="232.6" cy="738.8" r="1.8"/><circle cx="239.7" cy="763.4" r="1.8"/><circle cx="227.7" cy="706.9" r="1.8"/><circle cx="224.8" cy="756.1" r="1.8"/><circle cx="230.5" cy="709.9" r="1.8"/><circle cx="222.6" cy="662.6" r="1.8"/><circle cx="221.5" cy="697.0" r="1.8"/><circle cx="206.0" cy="787.8" r="1.8"/><circle cx="217.9" cy="723.6" r="1.8"/><circle cx="239.4" cy="752.0" r="1.8"/><circle cx="234.0" cy="642.7" r="1.8"/><circle cx="219.7" cy="779.0" r="1.8"/><circle cx="230.0" cy="721.9" r="1.8"/><circle cx="202.2" cy="686.9" r="1.8"/><circle cx="229.7" cy="776.3" r="1.8"/><circle cx="239.6" cy="756.3" r="1.8"/><circle cx="235.3" cy="644.6" r="1.8"/><circle cx="235.4" cy="694.8" r="1.8"/><circle cx="216.9" cy="745.2" r="1.8"/><circle cx="215.6" cy="657.8" r="1.8"/><circle cx="217.5" cy="746.1" r="1.8"/><circle cx="220.1" cy="663.4" r="1.8"/><circle cx="220.2" cy="761.9" r="1.8"/><circle cx="243.3" cy="779.0" r="1.8"/><circle cx="234.3" cy="706.3" r="1.8"/><circle cx="238.3" cy="653.7" r="1.8"/><circle cx="221.1" cy="722.9" r="1.8"/><circle cx="217.7" cy="741.5" r="1.8"/><circle cx="233.3" cy="717.6" r="1.8"/><circle cx="217.1" cy="761.1" r="1.8"/><circle cx="236.1" cy="795.6" r="1.8"/><circle cx="213.9" cy="724.5" r="1.8"/><circle cx="211.7" cy="765.1" r="1.8"/><circle cx="251.7" cy="797.3" r="1.8"/><circle cx="205.5" cy="799.5" r="1.8"/><circle cx="217.9" cy="651.2" r="1.8"/><circle cx="217.3" cy="748.6" r="1.8"/><circle cx="229.6" cy="727.6" r="1.8"/><circle cx="233.2" cy="678.9" r="1.8"/><circle cx="224.6" cy="747.6" r="1.8"/><circle cx="211.9" cy="681.5" r="1.8"/><circle cx="242.8" cy="649.2" r="1.8"/><circle cx="207.9" cy="753.2" r="1.8"/><circle cx="207.5" cy="757.0" r="1.8"/><circle cx="211.3" cy="655.9" r="1.8"/><circle cx="201.0" cy="684.5" r="1.8"/><circle cx="200.2" cy="685.5" r="1.8"/><circle cx="239.2" cy="705.0" r="1.8"/><circle cx="245.5" cy="647.1" r="1.8"/><circle cx="228.0" cy="663.8" r="1.8"/><circle cx="240.8" cy="797.4" r="1.8"/><circle cx="211.8" cy="752.8" r="1.8"/><circle cx="233.6" cy="767.7" r="1.8"/><circle cx="238.1" cy="789.8" r="1.8"/><circle cx="239.4" cy="710.3" r="1.8"/><circle cx="225.8" cy="700.3" r="1.8"/><circle cx="200.6" cy="743.6" r="1.8"/><circle cx="235.2" cy="660.8" r="1.8"/><circle cx="213.0" cy="712.5" r="1.8"/><circle cx="224.1" cy="787.9" r="1.8"/><circle cx="214.3" cy="717.0" r="1.8"/><circle cx="240.8" cy="641.7" r="1.8"/><circle cx="246.9" cy="656.5" r="1.8"/><circle cx="231.5" cy="761.1" r="1.8"/><circle cx="244.6" cy="807.1" r="1.8"/><circle cx="231.6" cy="691.4" r="1.8"/><circle cx="225.4" cy="726.1" r="1.8"/><circle cx="222.1" cy="720.3" r="1.8"/><circle cx="225.0" cy="724.4" r="1.8"/><circle cx="217.2" cy="676.6" r="1.8"/><circle cx="221.8" cy="718.3" r="1.8"/><circle cx="219.8" cy="691.6" r="1.8"/><circle cx="219.4" cy="678.5" r="1.8"/><circle cx="223.6" cy="711.0" r="1.8"/><circle cx="209.2" cy="699.8" r="1.8"/><circle cx="232.2" cy="724.5" r="1.8"/><circle cx="222.9" cy="723.9" r="1.8"/><circle cx="223.9" cy="709.0" r="1.8"/><circle cx="215.5" cy="725.7" r="1.8"/><circle cx="203.4" cy="718.8" r="1.8"/><circle cx="221.0" cy="708.0" r="1.8"/><circle cx="217.6" cy="685.6" r="1.8"/><circle cx="199.6" cy="739.3" r="1.8"/><circle cx="232.6" cy="737.4" r="1.8"/><circle cx="235.9" cy="741.0" r="1.8"/><circle cx="219.2" cy="680.6" r="1.8"/><circle cx="226.3" cy="680.7" r="1.8"/><circle cx="235.6" cy="716.2" r="1.8"/><circle cx="227.7" cy="735.8" r="1.8"/><circle cx="195.5" cy="711.0" r="1.8"/><circle cx="233.3" cy="743.4" r="1.8"/><circle cx="204.8" cy="679.8" r="1.8"/><circle cx="217.5" cy="727.0" r="1.8"/><circle cx="236.3" cy="652.8" r="1.8"/><circle cx="214.2" cy="686.0" r="1.8"/><circle cx="207.8" cy="678.2" r="1.8"/><circle cx="220.6" cy="728.2" r="1.8"/><circle cx="218.9" cy="692.1" r="1.8"/><circle cx="201.9" cy="710.3" r="1.8"/><circle cx="235.1" cy="736.1" r="1.8"/><circle cx="221.2" cy="691.9" r="1.8"/><circle cx="220.0" cy="737.5" r="1.8"/><circle cx="222.0" cy="681.9" r="1.8"/><circle cx="222.4" cy="749.2" r="1.8"/><circle cx="233.7" cy="680.9" r="1.8"/><circle cx="219.5" cy="674.6" r="1.8"/><circle cx="215.7" cy="722.5" r="1.8"/><circle cx="225.7" cy="751.4" r="1.8"/><circle cx="224.0" cy="656.8" r="1.8"/><circle cx="227.6" cy="739.6" r="1.8"/><circle cx="213.4" cy="745.3" r="1.8"/><circle cx="225.7" cy="720.7" r="1.8"/><circle cx="226.7" cy="668.8" r="1.8"/><circle cx="212.0" cy="679.5" r="1.8"/><circle cx="226.3" cy="724.3" r="1.8"/><circle cx="221.2" cy="643.8" r="1.8"/><circle cx="234.5" cy="742.9" r="1.8"/><circle cx="236.8" cy="762.6" r="1.8"/><circle cx="224.4" cy="670.5" r="1.8"/><circle cx="211.1" cy="675.1" r="1.8"/><circle cx="221.1" cy="731.0" r="1.8"/><circle cx="213.3" cy="688.9" r="1.8"/><circle cx="214.0" cy="730.1" r="1.8"/><circle cx="232.9" cy="696.3" r="1.8"/><circle cx="226.5" cy="694.5" r="1.8"/><circle cx="218.6" cy="706.0" r="1.8"/><circle cx="211.6" cy="729.9" r="1.8"/><circle cx="223.2" cy="728.3" r="1.8"/><circle cx="233.7" cy="708.2" r="1.8"/><circle cx="226.8" cy="751.8" r="1.8"/><circle cx="223.5" cy="756.3" r="1.8"/><circle cx="223.7" cy="734.0" r="1.8"/><circle cx="233.9" cy="668.1" r="1.8"/><circle cx="229.4" cy="690.4" r="1.8"/><circle cx="223.2" cy="703.8" r="1.8"/><circle cx="202.5" cy="725.5" r="1.8"/><circle cx="228.0" cy="749.9" r="1.8"/><circle cx="223.4" cy="691.8" r="1.8"/><circle cx="221.3" cy="747.7" r="1.8"/><circle cx="232.1" cy="674.1" r="1.8"/><circle cx="214.5" cy="719.7" r="1.8"/><circle cx="224.5" cy="696.9" r="1.8"/><circle cx="222.9" cy="702.2" r="1.8"/><circle cx="208.5" cy="747.3" r="1.8"/><circle cx="219.8" cy="698.7" r="1.8"/><circle cx="222.9" cy="712.9" r="1.8"/><circle cx="231.7" cy="762.2" r="1.8"/><circle cx="226.7" cy="718.0" r="1.8"/><circle cx="221.6" cy="668.6" r="1.8"/><circle cx="228.7" cy="677.6" r="1.8"/><circle cx="202.6" cy="695.4" r="1.8"/><circle cx="217.9" cy="717.3" r="1.8"/><circle cx="214.7" cy="718.5" r="1.8"/><circle cx="226.4" cy="658.6" r="1.8"/><circle cx="237.6" cy="675.8" r="1.8"/><circle cx="228.3" cy="671.2" r="1.8"/><circle cx="230.7" cy="709.3" r="1.8"/><circle cx="229.3" cy="721.4" r="1.8"/><circle cx="236.5" cy="703.6" r="1.8"/><circle cx="211.6" cy="725.0" r="1.8"/><circle cx="226.2" cy="704.2" r="1.8"/><circle cx="214.1" cy="712.5" r="1.8"/><circle cx="217.4" cy="754.0" r="1.8"/><circle cx="228.3" cy="733.6" r="1.8"/><circle cx="229.5" cy="693.9" r="1.8"/><circle cx="220.9" cy="699.9" r="1.8"/><circle cx="231.8" cy="744.5" r="1.8"/><circle cx="221.8" cy="709.1" r="1.8"/><circle cx="220.8" cy="689.5" r="1.8"/><circle cx="222.2" cy="723.7" r="1.8"/><circle cx="222.6" cy="672.2" r="1.8"/><circle cx="232.4" cy="717.0" r="1.8"/><circle cx="231.6" cy="695.3" r="1.8"/><circle cx="218.3" cy="720.6" r="1.8"/><circle cx="220.3" cy="776.9" r="1.8"/><circle cx="217.6" cy="718.0" r="1.8"/><circle cx="237.9" cy="663.4" r="1.8"/><circle cx="236.6" cy="635.5" r="1.8"/><circle cx="240.3" cy="633.8" r="1.8"/><circle cx="239.5" cy="630.5" r="1.8"/><circle cx="237.3" cy="701.3" r="1.8"/><circle cx="238.9" cy="655.4" r="1.8"/><circle cx="240.0" cy="681.2" r="1.8"/><circle cx="237.7" cy="709.8" r="1.8"/><circle cx="239.7" cy="622.8" r="1.8"/><circle cx="241.0" cy="675.8" r="1.8"/><circle cx="238.6" cy="692.2" r="1.8"/><circle cx="242.7" cy="664.3" r="1.8"/><circle cx="238.2" cy="637.3" r="1.8"/><circle cx="237.7" cy="669.2" r="1.8"/><circle cx="242.2" cy="676.9" r="1.8"/><circle cx="239.1" cy="633.1" r="1.8"/><circle cx="238.5" cy="610.5" r="1.8"/><circle cx="238.1" cy="618.2" r="1.8"/><circle cx="240.9" cy="630.6" r="1.8"/><circle cx="238.7" cy="638.7" r="1.8"/><circle cx="239.0" cy="693.4" r="1.8"/><circle cx="236.3" cy="690.3" r="1.8"/><circle cx="237.2" cy="628.0" r="1.8"/><circle cx="239.2" cy="683.0" r="1.8"/><circle cx="237.1" cy="660.1" r="1.8"/><circle cx="239.0" cy="673.5" r="1.8"/><circle cx="242.1" cy="645.9" r="1.8"/><circle cx="240.2" cy="663.2" r="1.8"/><circle cx="212.8" cy="677.4" r="1.8"/><circle cx="210.3" cy="639.2" r="1.8"/><circle cx="208.6" cy="707.0" r="1.8"/><circle cx="211.3" cy="652.9" r="1.8"/><circle cx="210.5" cy="687.7" r="1.8"/><circle cx="209.8" cy="659.3" r="1.8"/><circle cx="209.2" cy="690.3" r="1.8"/><circle cx="207.9" cy="697.2" r="1.8"/><circle cx="209.9" cy="676.1" r="1.8"/><circle cx="210.2" cy="631.8" r="1.8"/><circle cx="210.0" cy="631.8" r="1.8"/><circle cx="213.0" cy="637.6" r="1.8"/><circle cx="210.0" cy="644.3" r="1.8"/><circle cx="210.6" cy="662.5" r="1.8"/><circle cx="212.6" cy="663.3" r="1.8"/><circle cx="211.7" cy="703.1" r="1.8"/><circle cx="205.8" cy="689.7" r="1.8"/><circle cx="209.8" cy="664.5" r="1.8"/><circle cx="207.9" cy="676.4" r="1.8"/><circle cx="208.4" cy="630.3" r="1.8"/><circle cx="158.6" cy="734.0" r="1.8"/><circle cx="140.8" cy="751.2" r="1.8"/><circle cx="152.6" cy="793.1" r="1.8"/><circle cx="178.2" cy="790.1" r="1.8"/><circle cx="151.7" cy="741.1" r="1.8"/><circle cx="128.3" cy="792.9" r="1.8"/><circle cx="155.5" cy="732.1" r="1.8"/><circle cx="145.9" cy="720.2" r="1.8"/><circle cx="152.8" cy="772.1" r="1.8"/><circle cx="163.6" cy="768.3" r="1.8"/><circle cx="142.8" cy="771.6" r="1.8"/><circle cx="177.8" cy="759.4" r="1.8"/><circle cx="138.0" cy="734.6" r="1.8"/><circle cx="165.1" cy="798.9" r="1.8"/><circle cx="141.6" cy="731.0" r="1.8"/><circle cx="133.1" cy="769.2" r="1.8"/><circle cx="148.6" cy="739.8" r="1.8"/><circle cx="155.7" cy="725.0" r="1.8"/><circle cx="128.7" cy="746.6" r="1.8"/><circle cx="162.1" cy="787.4" r="1.8"/><circle cx="161.7" cy="801.9" r="1.8"/><circle cx="153.6" cy="796.7" r="1.8"/><circle cx="150.6" cy="743.7" r="1.8"/><circle cx="140.0" cy="778.4" r="1.8"/><circle cx="150.3" cy="801.2" r="1.8"/><circle cx="136.6" cy="761.8" r="1.8"/><circle cx="143.4" cy="774.0" r="1.8"/><circle cx="178.2" cy="750.1" r="1.8"/><circle cx="144.0" cy="765.1" r="1.8"/><circle cx="159.7" cy="747.6" r="1.8"/><circle cx="150.9" cy="796.6" r="1.8"/><circle cx="161.3" cy="753.0" r="1.8"/><circle cx="151.1" cy="778.6" r="1.8"/><circle cx="132.7" cy="768.6" r="1.8"/><circle cx="137.9" cy="728.6" r="1.8"/><circle cx="140.9" cy="734.9" r="1.8"/><circle cx="148.0" cy="744.0" r="1.8"/><circle cx="183.7" cy="739.5" r="1.8"/><circle cx="139.3" cy="777.5" r="1.8"/><circle cx="149.8" cy="764.0" r="1.8"/><circle cx="168.9" cy="772.6" r="1.8"/><circle cx="170.4" cy="794.9" r="1.8"/><circle cx="176.9" cy="790.3" r="1.8"/><circle cx="136.7" cy="742.2" r="1.8"/><circle cx="155.0" cy="805.3" r="1.8"/><circle cx="138.6" cy="759.6" r="1.8"/><circle cx="138.6" cy="755.6" r="1.8"/><circle cx="171.0" cy="769.7" r="1.8"/><circle cx="169.0" cy="777.4" r="1.8"/><circle cx="177.0" cy="770.4" r="1.8"/><circle cx="155.5" cy="784.6" r="1.8"/><circle cx="142.4" cy="718.2" r="1.8"/><circle cx="166.8" cy="774.4" r="1.8"/><circle cx="140.0" cy="742.9" r="1.8"/><circle cx="173.9" cy="748.7" r="1.8"/><circle cx="176.4" cy="724.1" r="1.8"/><circle cx="135.2" cy="748.9" r="1.8"/><circle cx="147.1" cy="736.6" r="1.8"/><circle cx="168.8" cy="787.9" r="1.8"/><circle cx="155.9" cy="784.5" r="1.8"/><circle cx="158.8" cy="792.1" r="1.8"/><circle cx="162.1" cy="766.1" r="1.8"/><circle cx="133.4" cy="795.3" r="1.8"/><circle cx="186.1" cy="781.7" r="1.8"/><circle cx="151.1" cy="733.3" r="1.8"/><circle cx="126.0" cy="743.7" r="1.8"/><circle cx="165.7" cy="785.9" r="1.8"/><circle cx="150.3" cy="720.8" r="1.8"/><circle cx="176.5" cy="764.5" r="1.8"/><circle cx="159.9" cy="748.9" r="1.8"/><circle cx="165.4" cy="786.6" r="1.8"/><circle cx="159.1" cy="788.3" r="1.8"/><circle cx="171.7" cy="739.6" r="1.8"/><circle cx="147.2" cy="796.5" r="1.8"/><circle cx="179.5" cy="767.9" r="1.8"/><circle cx="145.6" cy="745.0" r="1.8"/><circle cx="151.1" cy="746.6" r="1.8"/><circle cx="156.0" cy="733.1" r="1.8"/><circle cx="140.8" cy="753.0" r="1.8"/><circle cx="147.5" cy="799.2" r="1.8"/><circle cx="159.3" cy="798.4" r="1.8"/><circle cx="150.5" cy="784.4" r="1.8"/><circle cx="179.2" cy="779.6" r="1.8"/><circle cx="161.8" cy="742.0" r="1.8"/><circle cx="171.8" cy="774.0" r="1.8"/><circle cx="133.8" cy="760.3" r="1.8"/><circle cx="145.2" cy="793.7" r="1.8"/><circle cx="137.7" cy="721.8" r="1.8"/><circle cx="155.3" cy="763.1" r="1.8"/><circle cx="162.9" cy="720.5" r="1.8"/><circle cx="182.4" cy="696.9" r="1.8"/><circle cx="184.8" cy="699.8" r="1.8"/><circle cx="199.8" cy="737.5" r="1.8"/><circle cx="188.9" cy="725.2" r="1.8"/><circle cx="180.4" cy="728.4" r="1.8"/><circle cx="171.7" cy="798.6" r="1.8"/><circle cx="157.0" cy="807.3" r="1.8"/><circle cx="189.4" cy="735.0" r="1.8"/><circle cx="166.9" cy="740.5" r="1.8"/><circle cx="183.8" cy="761.2" r="1.8"/><circle cx="161.8" cy="785.4" r="1.8"/><circle cx="205.2" cy="749.9" r="1.8"/><circle cx="163.2" cy="755.9" r="1.8"/><circle cx="200.2" cy="786.9" r="1.8"/><circle cx="171.8" cy="776.4" r="1.8"/><circle cx="188.6" cy="698.6" r="1.8"/><circle cx="162.9" cy="755.1" r="1.8"/><circle cx="183.7" cy="798.4" r="1.8"/><circle cx="194.0" cy="788.4" r="1.8"/><circle cx="162.2" cy="703.5" r="1.8"/><circle cx="184.9" cy="768.3" r="1.8"/><circle cx="181.7" cy="795.0" r="1.8"/><circle cx="180.1" cy="745.9" r="1.8"/><circle cx="174.9" cy="775.3" r="1.8"/><circle cx="187.8" cy="778.9" r="1.8"/><circle cx="204.4" cy="704.5" r="1.8"/><circle cx="193.4" cy="779.5" r="1.8"/><circle cx="179.1" cy="762.6" r="1.8"/><circle cx="174.3" cy="748.5" r="1.8"/><circle cx="174.9" cy="720.1" r="1.8"/><circle cx="150.5" cy="765.5" r="1.8"/><circle cx="157.0" cy="800.6" r="1.8"/><circle cx="164.5" cy="710.5" r="1.8"/><circle cx="176.9" cy="764.7" r="1.8"/><circle cx="167.1" cy="760.5" r="1.8"/><circle cx="178.9" cy="720.4" r="1.8"/><circle cx="175.0" cy="719.2" r="1.8"/><circle cx="184.5" cy="711.3" r="1.8"/><circle cx="186.0" cy="776.8" r="1.8"/><circle cx="202.9" cy="785.2" r="1.8"/><circle cx="191.5" cy="782.6" r="1.8"/><circle cx="196.4" cy="741.2" r="1.8"/><circle cx="173.8" cy="753.1" r="1.8"/><circle cx="187.1" cy="759.3" r="1.8"/><circle cx="197.7" cy="728.6" r="1.8"/><circle cx="188.4" cy="781.2" r="1.8"/><circle cx="168.9" cy="760.2" r="1.8"/><circle cx="159.9" cy="796.7" r="1.8"/><circle cx="181.2" cy="794.8" r="1.8"/><circle cx="199.9" cy="711.8" r="1.8"/><circle cx="180.4" cy="765.8" r="1.8"/><circle cx="159.1" cy="797.9" r="1.8"/><circle cx="184.5" cy="727.9" r="1.8"/><circle cx="156.2" cy="730.9" r="1.8"/><circle cx="197.4" cy="698.1" r="1.8"/><circle cx="207.0" cy="749.8" r="1.8"/><circle cx="196.3" cy="704.5" r="1.8"/><circle cx="172.0" cy="754.7" r="1.8"/><circle cx="173.8" cy="704.2" r="1.8"/><circle cx="170.3" cy="728.3" r="1.8"/><circle cx="285.1" cy="797.5" r="1.8"/><circle cx="259.6" cy="702.6" r="1.8"/><circle cx="270.9" cy="717.0" r="1.8"/><circle cx="264.6" cy="715.0" r="1.8"/><circle cx="280.2" cy="731.8" r="1.8"/><circle cx="262.5" cy="778.0" r="1.8"/><circle cx="251.4" cy="742.7" r="1.8"/><circle cx="270.6" cy="698.1" r="1.8"/><circle cx="282.0" cy="734.4" r="1.8"/><circle cx="255.7" cy="791.5" r="1.8"/><circle cx="280.9" cy="729.2" r="1.8"/><circle cx="274.8" cy="749.7" r="1.8"/><circle cx="253.0" cy="757.5" r="1.8"/><circle cx="265.2" cy="780.4" r="1.8"/><circle cx="247.4" cy="758.2" r="1.8"/><circle cx="262.1" cy="765.2" r="1.8"/><circle cx="275.1" cy="731.3" r="1.8"/><circle cx="272.7" cy="732.1" r="1.8"/><circle cx="252.4" cy="749.2" r="1.8"/><circle cx="267.7" cy="733.8" r="1.8"/><circle cx="283.5" cy="695.7" r="1.8"/><circle cx="266.9" cy="737.2" r="1.8"/><circle cx="264.6" cy="732.3" r="1.8"/><circle cx="262.4" cy="782.7" r="1.8"/><circle cx="261.4" cy="745.5" r="1.8"/><circle cx="254.5" cy="757.7" r="1.8"/><circle cx="284.7" cy="704.8" r="1.8"/><circle cx="250.8" cy="754.6" r="1.8"/><circle cx="254.8" cy="780.1" r="1.8"/><circle cx="285.5" cy="739.2" r="1.8"/><circle cx="246.3" cy="721.5" r="1.8"/><circle cx="272.8" cy="714.3" r="1.8"/><circle cx="278.9" cy="753.9" r="1.8"/><circle cx="261.0" cy="720.4" r="1.8"/><circle cx="274.2" cy="679.8" r="1.8"/><circle cx="263.4" cy="726.7" r="1.8"/><circle cx="264.4" cy="795.6" r="1.8"/><circle cx="275.5" cy="762.0" r="1.8"/><circle cx="264.5" cy="727.7" r="1.8"/><circle cx="250.2" cy="694.6" r="1.8"/><circle cx="256.7" cy="797.3" r="1.8"/><circle cx="249.5" cy="779.8" r="1.8"/><circle cx="265.2" cy="777.6" r="1.8"/><circle cx="256.2" cy="797.4" r="1.8"/><circle cx="280.6" cy="719.9" r="1.8"/><circle cx="264.6" cy="677.6" r="1.8"/><circle cx="282.6" cy="806.7" r="1.8"/><circle cx="269.3" cy="751.2" r="1.8"/><circle cx="246.8" cy="727.9" r="1.8"/><circle cx="259.3" cy="761.5" r="1.8"/><circle cx="261.2" cy="704.4" r="1.8"/><circle cx="250.8" cy="768.9" r="1.8"/><circle cx="261.0" cy="770.9" r="1.8"/><circle cx="274.5" cy="749.9" r="1.8"/><circle cx="278.1" cy="780.6" r="1.8"/><circle cx="266.7" cy="746.1" r="1.8"/><circle cx="260.2" cy="705.5" r="1.8"/><circle cx="264.9" cy="792.3" r="1.8"/><circle cx="255.3" cy="750.1" r="1.8"/><circle cx="263.2" cy="735.2" r="1.8"/><circle cx="277.0" cy="812.3" r="1.8"/><circle cx="258.4" cy="769.6" r="1.8"/><circle cx="271.6" cy="688.0" r="1.8"/><circle cx="257.1" cy="786.0" r="1.8"/><circle cx="280.9" cy="694.6" r="1.8"/><circle cx="266.2" cy="686.3" r="1.8"/><circle cx="257.2" cy="714.1" r="1.8"/><circle cx="290.6" cy="702.3" r="1.8"/><circle cx="260.0" cy="773.9" r="1.8"/><circle cx="263.2" cy="799.1" r="1.8"/><circle cx="272.9" cy="767.5" r="1.8"/><circle cx="261.5" cy="768.1" r="1.8"/><circle cx="275.9" cy="739.5" r="1.8"/><circle cx="257.1" cy="708.9" r="1.8"/><circle cx="266.1" cy="749.2" r="1.8"/><circle cx="277.5" cy="696.7" r="1.8"/><circle cx="283.1" cy="732.2" r="1.8"/><circle cx="259.5" cy="738.0" r="1.8"/><circle cx="280.9" cy="780.5" r="1.8"/><circle cx="269.9" cy="760.1" r="1.8"/><circle cx="271.6" cy="686.1" r="1.8"/><circle cx="283.4" cy="713.2" r="1.8"/><circle cx="265.0" cy="743.7" r="1.8"/><circle cx="266.8" cy="748.1" r="1.8"/><circle cx="255.7" cy="706.3" r="1.8"/><circle cx="262.2" cy="683.4" r="1.8"/><circle cx="274.7" cy="774.2" r="1.8"/><circle cx="249.9" cy="746.5" r="1.8"/><circle cx="242.7" cy="717.4" r="1.8"/><circle cx="258.2" cy="749.9" r="1.8"/><circle cx="321.9" cy="791.9" r="1.8"/><circle cx="304.4" cy="803.9" r="1.8"/><circle cx="297.4" cy="821.1" r="1.8"/><circle cx="292.8" cy="786.0" r="1.8"/><circle cx="335.1" cy="775.7" r="1.8"/><circle cx="293.0" cy="773.1" r="1.8"/><circle cx="322.7" cy="822.6" r="1.8"/><circle cx="330.6" cy="813.4" r="1.8"/><circle cx="319.5" cy="815.3" r="1.8"/><circle cx="300.8" cy="788.7" r="1.8"/><circle cx="314.2" cy="774.6" r="1.8"/><circle cx="341.6" cy="799.8" r="1.8"/><circle cx="311.3" cy="801.6" r="1.8"/><circle cx="283.0" cy="804.0" r="1.8"/><circle cx="325.9" cy="781.9" r="1.8"/><circle cx="323.7" cy="814.2" r="1.8"/><circle cx="339.6" cy="795.1" r="1.8"/><circle cx="334.2" cy="808.4" r="1.8"/><circle cx="323.1" cy="805.0" r="1.8"/><circle cx="319.9" cy="817.0" r="1.8"/><circle cx="308.8" cy="810.1" r="1.8"/><circle cx="324.7" cy="774.3" r="1.8"/><circle cx="332.2" cy="783.1" r="1.8"/><circle cx="289.4" cy="806.5" r="1.8"/><circle cx="343.0" cy="804.6" r="1.8"/><circle cx="322.6" cy="822.8" r="1.8"/><circle cx="336.7" cy="776.0" r="1.8"/><circle cx="307.2" cy="798.7" r="1.8"/><circle cx="296.4" cy="807.1" r="1.8"/><circle cx="310.7" cy="778.1" r="1.8"/><circle cx="322.9" cy="810.4" r="1.8"/><circle cx="295.0" cy="777.8" r="1.8"/><circle cx="331.4" cy="800.9" r="1.8"/><circle cx="296.0" cy="799.8" r="1.8"/><circle cx="329.2" cy="796.2" r="1.8"/><circle cx="322.4" cy="782.9" r="1.8"/><circle cx="300.0" cy="815.0" r="1.8"/><circle cx="285.4" cy="820.9" r="1.8"/><circle cx="280.1" cy="772.7" r="1.8"/><circle cx="310.7" cy="785.7" r="1.8"/><circle cx="332.8" cy="786.3" r="1.8"/><circle cx="322.5" cy="793.2" r="1.8"/><circle cx="307.6" cy="813.5" r="1.8"/><circle cx="319.1" cy="798.7" r="1.8"/><circle cx="336.4" cy="811.9" r="1.8"/><circle cx="314.0" cy="775.1" r="1.8"/><circle cx="319.0" cy="816.8" r="1.8"/><circle cx="328.3" cy="792.0" r="1.8"/><circle cx="302.3" cy="811.8" r="1.8"/><circle cx="300.6" cy="813.5" r="1.8"/><circle cx="319.8" cy="794.3" r="1.8"/><circle cx="347.3" cy="813.0" r="1.8"/><circle cx="323.6" cy="809.2" r="1.8"/><circle cx="324.5" cy="791.8" r="1.8"/><circle cx="285.0" cy="773.2" r="1.8"/><circle cx="308.7" cy="788.5" r="1.8"/><circle cx="327.5" cy="771.5" r="1.8"/><circle cx="305.5" cy="799.6" r="1.8"/><circle cx="304.0" cy="797.5" r="1.8"/><circle cx="333.3" cy="807.4" r="1.8"/><circle cx="315.6" cy="815.3" r="1.8"/><circle cx="304.7" cy="784.8" r="1.8"/><circle cx="312.8" cy="771.9" r="1.8"/><circle cx="298.8" cy="805.9" r="1.8"/><circle cx="326.8" cy="782.2" r="1.8"/><circle cx="294.3" cy="774.9" r="1.8"/><circle cx="325.6" cy="819.0" r="1.8"/><circle cx="307.1" cy="791.9" r="1.8"/><circle cx="295.0" cy="800.9" r="1.8"/><circle cx="295.5" cy="803.0" r="1.8"/><circle cx="319.5" cy="811.5" r="1.8"/><circle cx="332.7" cy="794.4" r="1.8"/><circle cx="309.2" cy="818.7" r="1.8"/><circle cx="330.1" cy="797.1" r="1.8"/><circle cx="340.2" cy="808.1" r="1.8"/><circle cx="326.6" cy="804.0" r="1.8"/><circle cx="334.2" cy="789.9" r="1.8"/><circle cx="341.4" cy="804.4" r="1.8"/><circle cx="311.7" cy="781.9" r="1.8"/><circle cx="293.8" cy="769.5" r="1.8"/><circle cx="349.5" cy="796.8" r="1.8"/><circle cx="301.8" cy="816.4" r="1.8"/><circle cx="336.2" cy="811.2" r="1.8"/><circle cx="292.9" cy="784.1" r="1.8"/><circle cx="290.5" cy="778.2" r="1.8"/><circle cx="337.2" cy="791.1" r="1.8"/><circle cx="337.4" cy="781.0" r="1.8"/><circle cx="291.8" cy="772.1" r="1.8"/><circle cx="302.1" cy="793.7" r="1.8"/><circle cx="304.5" cy="807.2" r="1.8"/><circle cx="298.0" cy="793.4" r="1.8"/><circle cx="319.6" cy="764.2" r="1.8"/><circle cx="289.5" cy="776.4" r="1.8"/><circle cx="309.1" cy="793.1" r="1.8"/><circle cx="318.4" cy="800.4" r="1.8"/><circle cx="320.5" cy="789.9" r="1.8"/><circle cx="325.7" cy="787.4" r="1.8"/><circle cx="325.3" cy="808.0" r="1.8"/><circle cx="342.9" cy="801.8" r="1.8"/><circle cx="334.2" cy="819.0" r="1.8"/><circle cx="329.6" cy="821.0" r="1.8"/><circle cx="328.9" cy="797.3" r="1.8"/><circle cx="303.5" cy="801.0" r="1.8"/><circle cx="338.6" cy="810.4" r="1.8"/><circle cx="321.4" cy="811.3" r="1.8"/><circle cx="293.1" cy="778.9" r="1.8"/><circle cx="306.8" cy="789.7" r="1.8"/><circle cx="345.1" cy="797.3" r="1.8"/><circle cx="345.7" cy="784.0" r="1.8"/><circle cx="316.7" cy="798.5" r="1.8"/><circle cx="333.4" cy="823.9" r="1.8"/><circle cx="328.8" cy="810.3" r="1.8"/><circle cx="282.0" cy="792.0" r="1.8"/><circle cx="329.4" cy="795.4" r="1.8"/><circle cx="316.5" cy="814.0" r="1.8"/><circle cx="332.7" cy="783.2" r="1.8"/><circle cx="304.8" cy="812.3" r="1.8"/><circle cx="302.8" cy="810.5" r="1.8"/><circle cx="312.8" cy="777.7" r="1.8"/><circle cx="351.3" cy="796.9" r="1.8"/><circle cx="336.0" cy="807.6" r="1.8"/><circle cx="281.8" cy="784.9" r="1.8"/><circle cx="299.0" cy="817.2" r="1.8"/><circle cx="344.5" cy="805.7" r="1.8"/><circle cx="294.9" cy="778.1" r="1.8"/><circle cx="332.1" cy="788.2" r="1.8"/><circle cx="350.4" cy="780.5" r="1.8"/><circle cx="322.8" cy="800.1" r="1.8"/><circle cx="331.4" cy="812.7" r="1.8"/><circle cx="287.3" cy="794.7" r="1.8"/><circle cx="331.7" cy="787.9" r="1.8"/><circle cx="169.6" cy="741.5" r="1.8"/><circle cx="206.7" cy="762.2" r="1.8"/><circle cx="214.2" cy="777.0" r="1.8"/><circle cx="151.5" cy="784.6" r="1.8"/><circle cx="210.4" cy="746.5" r="1.8"/><circle cx="274.6" cy="798.1" r="1.8"/><circle cx="278.3" cy="736.6" r="1.8"/><circle cx="371.7" cy="815.7" r="1.8"/><circle cx="214.0" cy="787.4" r="1.8"/><circle cx="254.5" cy="710.4" r="1.8"/><circle cx="309.1" cy="764.0" r="1.8"/><circle cx="327.0" cy="738.7" r="1.8"/><circle cx="361.1" cy="746.2" r="1.8"/><circle cx="163.2" cy="719.1" r="1.8"/><circle cx="118.0" cy="735.8" r="1.8"/><circle cx="367.8" cy="700.9" r="1.8"/><circle cx="218.6" cy="773.8" r="1.8"/><circle cx="145.7" cy="789.4" r="1.8"/><circle cx="290.5" cy="721.2" r="1.8"/><circle cx="320.3" cy="817.3" r="1.8"/><circle cx="192.3" cy="739.4" r="1.8"/><circle cx="323.4" cy="817.9" r="1.8"/><circle cx="176.2" cy="741.5" r="1.8"/><circle cx="173.2" cy="711.4" r="1.8"/><circle cx="229.0" cy="533.7" r="1.8"/><circle cx="257.5" cy="527.4" r="1.8"/><circle cx="253.7" cy="528.9" r="1.8"/><circle cx="215.5" cy="601.9" r="1.8"/><circle cx="242.3" cy="598.7" r="1.8"/><circle cx="233.8" cy="563.8" r="1.8"/></g>
<g fill="rgb(208,138,115)" fill-opacity="0.32"><circle cx="620.4" cy="482.8" r="1.8"/><circle cx="608.9" cy="442.8" r="1.8"/><circle cx="611.1" cy="495.3" r="1.8"/><circle cx="597.3" cy="468.7" r="1.8"/><circle cx="636.1" cy="474.8" r="1.8"/><circle cx="605.2" cy="489.1" r="1.8"/><circle cx="609.0" cy="491.6" r="1.8"/><circle cx="596.2" cy="474.5" r="1.8"/><circle cx="620.5" cy="443.8" r="1.8"/><circle cx="595.5" cy="481.1" r="1.8"/><circle cx="612.0" cy="465.0" r="1.8"/><circle cx="608.0" cy="496.9" r="1.8"/><circle cx="628.3" cy="496.2" r="1.8"/><circle cx="612.4" cy="461.2" r="1.8"/><circle cx="616.2" cy="467.4" r="1.8"/><circle cx="623.4" cy="457.6" r="1.8"/><circle cx="601.5" cy="442.1" r="1.8"/><circle cx="628.9" cy="496.0" r="1.8"/><circle cx="607.8" cy="478.4" r="1.8"/><circle cx="620.8" cy="470.1" r="1.8"/><circle cx="616.3" cy="467.7" r="1.8"/><circle cx="629.3" cy="499.3" r="1.8"/><circle cx="614.3" cy="490.5" r="1.8"/><circle cx="615.9" cy="466.5" r="1.8"/><circle cx="618.7" cy="442.2" r="1.8"/><circle cx="620.9" cy="491.5" r="1.8"/><circle cx="626.4" cy="489.0" r="1.8"/><circle cx="603.7" cy="486.1" r="1.8"/><circle cx="608.8" cy="485.3" r="1.8"/><circle cx="624.8" cy="476.5" r="1.8"/><circle cx="601.5" cy="478.0" r="1.8"/><circle cx="625.9" cy="501.4" r="1.8"/><circle cx="623.0" cy="449.3" r="1.8"/><circle cx="619.8" cy="483.4" r="1.8"/><circle cx="611.0" cy="487.3" r="1.8"/><circle cx="612.0" cy="489.1" r="1.8"/><circle cx="595.0" cy="454.6" r="1.8"/><circle cx="589.5" cy="491.5" r="1.8"/><circle cx="597.1" cy="463.5" r="1.8"/><circle cx="599.3" cy="454.6" r="1.8"/><circle cx="612.6" cy="470.1" r="1.8"/><circle cx="627.0" cy="472.5" r="1.8"/><circle cx="621.9" cy="443.8" r="1.8"/><circle cx="613.1" cy="488.2" r="1.8"/><circle cx="610.6" cy="459.0" r="1.8"/><circle cx="603.2" cy="489.6" r="1.8"/><circle cx="612.6" cy="501.0" r="1.8"/><circle cx="627.2" cy="472.4" r="1.8"/><circle cx="589.8" cy="455.6" r="1.8"/><circle cx="626.4" cy="495.3" r="1.8"/><circle cx="612.4" cy="472.5" r="1.8"/><circle cx="593.9" cy="497.0" r="1.8"/><circle cx="622.2" cy="451.4" r="1.8"/><circle cx="594.2" cy="498.7" r="1.8"/><circle cx="596.0" cy="466.1" r="1.8"/><circle cx="608.5" cy="460.8" r="1.8"/><circle cx="605.2" cy="448.8" r="1.8"/><circle cx="599.3" cy="489.9" r="1.8"/><circle cx="615.7" cy="496.2" r="1.8"/><circle cx="618.9" cy="447.5" r="1.8"/><circle cx="629.5" cy="453.2" r="1.8"/><circle cx="602.9" cy="481.4" r="1.8"/><circle cx="603.9" cy="471.3" r="1.8"/><circle cx="620.5" cy="453.5" r="1.8"/><circle cx="622.9" cy="465.6" r="1.8"/><circle cx="600.4" cy="473.6" r="1.8"/><circle cx="606.6" cy="464.5" r="1.8"/><circle cx="605.0" cy="472.9" r="1.8"/><circle cx="603.3" cy="495.2" r="1.8"/><circle cx="605.7" cy="450.9" r="1.8"/><circle cx="617.0" cy="453.9" r="1.8"/><circle cx="615.8" cy="451.9" r="1.8"/><circle cx="619.1" cy="458.0" r="1.8"/><circle cx="606.8" cy="445.9" r="1.8"/><circle cx="592.1" cy="473.3" r="1.8"/><circle cx="630.1" cy="476.8" r="1.8"/><circle cx="600.0" cy="482.4" r="1.8"/><circle cx="599.7" cy="453.7" r="1.8"/><circle cx="616.9" cy="453.7" r="1.8"/><circle cx="601.0" cy="469.5" r="1.8"/><circle cx="592.9" cy="484.9" r="1.8"/><circle cx="599.6" cy="466.5" r="1.8"/><circle cx="631.1" cy="456.9" r="1.8"/><circle cx="601.7" cy="474.8" r="1.8"/><circle cx="612.9" cy="458.2" r="1.8"/><circle cx="600.6" cy="468.6" r="1.8"/><circle cx="594.5" cy="455.8" r="1.8"/><circle cx="617.7" cy="476.0" r="1.8"/><circle cx="617.6" cy="489.2" r="1.8"/><circle cx="586.6" cy="456.6" r="1.8"/><circle cx="618.2" cy="456.0" r="1.8"/><circle cx="600.5" cy="470.3" r="1.8"/><circle cx="613.7" cy="494.1" r="1.8"/><circle cx="595.4" cy="469.6" r="1.8"/><circle cx="610.3" cy="480.9" r="1.8"/><circle cx="619.8" cy="452.2" r="1.8"/><circle cx="597.9" cy="441.6" r="1.8"/><circle cx="594.7" cy="453.6" r="1.8"/><circle cx="616.6" cy="490.8" r="1.8"/><circle cx="609.5" cy="460.9" r="1.8"/><circle cx="602.4" cy="496.5" r="1.8"/><circle cx="606.8" cy="442.0" r="1.8"/><circle cx="595.2" cy="453.3" r="1.8"/><circle cx="613.0" cy="500.3" r="1.8"/><circle cx="610.6" cy="460.4" r="1.8"/><circle cx="602.5" cy="466.3" r="1.8"/><circle cx="596.4" cy="446.3" r="1.8"/><circle cx="600.2" cy="467.4" r="1.8"/><circle cx="608.8" cy="489.5" r="1.8"/><circle cx="630.6" cy="463.4" r="1.8"/><circle cx="592.0" cy="463.8" r="1.8"/><circle cx="601.5" cy="481.7" r="1.8"/><circle cx="590.1" cy="490.6" r="1.8"/><circle cx="603.0" cy="474.8" r="1.8"/><circle cx="626.3" cy="478.5" r="1.8"/><circle cx="635.2" cy="488.3" r="1.8"/><circle cx="619.5" cy="459.4" r="1.8"/><circle cx="621.0" cy="453.9" r="1.8"/><circle cx="611.5" cy="483.5" r="1.8"/><circle cx="623.4" cy="464.0" r="1.8"/><circle cx="613.3" cy="474.2" r="1.8"/><circle cx="621.3" cy="465.2" r="1.8"/><circle cx="588.2" cy="449.2" r="1.8"/><circle cx="611.0" cy="455.5" r="1.8"/><circle cx="609.8" cy="459.0" r="1.8"/><circle cx="599.0" cy="447.3" r="1.8"/><circle cx="609.8" cy="485.6" r="1.8"/><circle cx="616.9" cy="482.7" r="1.8"/><circle cx="624.2" cy="483.1" r="1.8"/><circle cx="607.3" cy="487.5" r="1.8"/><circle cx="610.2" cy="478.1" r="1.8"/><circle cx="591.3" cy="472.6" r="1.8"/><circle cx="595.4" cy="501.5" r="1.8"/><circle cx="614.6" cy="470.7" r="1.8"/><circle cx="600.0" cy="450.4" r="1.8"/><circle cx="599.8" cy="445.5" r="1.8"/><circle cx="604.2" cy="477.2" r="1.8"/><circle cx="636.3" cy="491.2" r="1.8"/><circle cx="594.5" cy="468.9" r="1.8"/><circle cx="598.6" cy="495.4" r="1.8"/><circle cx="626.8" cy="479.0" r="1.8"/><circle cx="625.9" cy="462.2" r="1.8"/><circle cx="610.8" cy="495.3" r="1.8"/><circle cx="591.3" cy="440.2" r="1.8"/><circle cx="602.3" cy="469.4" r="1.8"/><circle cx="611.3" cy="465.4" r="1.8"/><circle cx="596.7" cy="480.3" r="1.8"/><circle cx="588.9" cy="463.5" r="1.8"/><circle cx="591.7" cy="470.8" r="1.8"/><circle cx="610.5" cy="498.2" r="1.8"/><circle cx="602.0" cy="472.2" r="1.8"/><circle cx="592.6" cy="482.2" r="1.8"/><circle cx="608.2" cy="456.5" r="1.8"/><circle cx="621.1" cy="479.1" r="1.8"/><circle cx="609.1" cy="468.6" r="1.8"/><circle cx="605.6" cy="462.3" r="1.8"/><circle cx="596.4" cy="496.7" r="1.8"/><circle cx="614.1" cy="452.7" r="1.8"/><circle cx="596.4" cy="492.1" r="1.8"/><circle cx="621.4" cy="478.8" r="1.8"/><circle cx="623.5" cy="445.6" r="1.8"/><circle cx="590.8" cy="481.2" r="1.8"/><circle cx="629.6" cy="463.1" r="1.8"/><circle cx="609.1" cy="464.2" r="1.8"/><circle cx="616.7" cy="468.4" r="1.8"/><circle cx="622.2" cy="442.7" r="1.8"/><circle cx="608.7" cy="492.2" r="1.8"/><circle cx="599.8" cy="450.6" r="1.8"/><circle cx="624.1" cy="499.9" r="1.8"/><circle cx="595.8" cy="467.5" r="1.8"/><circle cx="606.3" cy="442.6" r="1.8"/><circle cx="616.2" cy="487.6" r="1.8"/><circle cx="614.9" cy="483.0" r="1.8"/><circle cx="627.5" cy="472.6" r="1.8"/><circle cx="596.9" cy="488.2" r="1.8"/><circle cx="631.0" cy="492.2" r="1.8"/><circle cx="627.8" cy="496.5" r="1.8"/><circle cx="631.4" cy="453.1" r="1.8"/><circle cx="619.3" cy="449.3" r="1.8"/><circle cx="610.9" cy="447.9" r="1.8"/><circle cx="597.2" cy="455.6" r="1.8"/><circle cx="598.5" cy="478.4" r="1.8"/><circle cx="595.4" cy="492.9" r="1.8"/><circle cx="606.5" cy="501.5" r="1.8"/><circle cx="625.7" cy="489.5" r="1.8"/><circle cx="620.5" cy="466.2" r="1.8"/><circle cx="615.3" cy="489.3" r="1.8"/><circle cx="601.5" cy="464.4" r="1.8"/><circle cx="621.0" cy="500.1" r="1.8"/><circle cx="595.2" cy="472.8" r="1.8"/><circle cx="619.1" cy="483.7" r="1.8"/><circle cx="594.4" cy="476.2" r="1.8"/><circle cx="601.1" cy="477.6" r="1.8"/><circle cx="609.7" cy="463.4" r="1.8"/><circle cx="601.3" cy="469.8" r="1.8"/><circle cx="623.2" cy="476.1" r="1.8"/><circle cx="603.9" cy="467.9" r="1.8"/><circle cx="633.9" cy="507.1" r="1.8"/><circle cx="628.5" cy="492.1" r="1.8"/><circle cx="630.1" cy="469.7" r="1.8"/><circle cx="594.1" cy="462.7" r="1.8"/><circle cx="616.7" cy="476.5" r="1.8"/><circle cx="621.4" cy="468.0" r="1.8"/><circle cx="607.0" cy="458.7" r="1.8"/><circle cx="606.7" cy="463.6" r="1.8"/><circle cx="594.3" cy="461.5" r="1.8"/><circle cx="615.7" cy="498.6" r="1.8"/><circle cx="623.7" cy="484.7" r="1.8"/><circle cx="613.5" cy="484.9" r="1.8"/><circle cx="610.1" cy="452.6" r="1.8"/><circle cx="625.1" cy="486.6" r="1.8"/><circle cx="606.8" cy="456.2" r="1.8"/><circle cx="607.2" cy="511.0" r="1.8"/><circle cx="601.1" cy="457.5" r="1.8"/><circle cx="619.4" cy="458.1" r="1.8"/><circle cx="627.3" cy="469.9" r="1.8"/><circle cx="602.9" cy="489.5" r="1.8"/><circle cx="610.0" cy="480.7" r="1.8"/><circle cx="607.3" cy="492.4" r="1.8"/><circle cx="638.6" cy="471.1" r="1.8"/><circle cx="599.5" cy="486.5" r="1.8"/><circle cx="599.8" cy="461.3" r="1.8"/><circle cx="624.5" cy="472.9" r="1.8"/><circle cx="617.6" cy="451.8" r="1.8"/><circle cx="609.9" cy="443.7" r="1.8"/><circle cx="603.3" cy="486.0" r="1.8"/><circle cx="625.7" cy="495.1" r="1.8"/><circle cx="601.0" cy="490.3" r="1.8"/><circle cx="601.1" cy="487.6" r="1.8"/><circle cx="600.0" cy="466.0" r="1.8"/><circle cx="601.4" cy="464.7" r="1.8"/><circle cx="598.3" cy="447.3" r="1.8"/><circle cx="600.4" cy="486.6" r="1.8"/><circle cx="597.1" cy="501.9" r="1.8"/><circle cx="600.6" cy="505.8" r="1.8"/><circle cx="599.6" cy="478.9" r="1.8"/><circle cx="602.9" cy="472.5" r="1.8"/><circle cx="599.0" cy="524.8" r="1.8"/><circle cx="598.8" cy="529.8" r="1.8"/><circle cx="596.7" cy="514.5" r="1.8"/><circle cx="601.5" cy="460.4" r="1.8"/><circle cx="597.2" cy="467.1" r="1.8"/><circle cx="602.7" cy="451.9" r="1.8"/><circle cx="598.4" cy="449.5" r="1.8"/><circle cx="595.7" cy="494.2" r="1.8"/><circle cx="601.0" cy="519.8" r="1.8"/><circle cx="603.4" cy="487.5" r="1.8"/><circle cx="601.5" cy="484.7" r="1.8"/><circle cx="600.1" cy="477.5" r="1.8"/><circle cx="598.7" cy="515.7" r="1.8"/><circle cx="599.5" cy="451.4" r="1.8"/><circle cx="604.5" cy="458.2" r="1.8"/><circle cx="603.8" cy="517.0" r="1.8"/><circle cx="601.6" cy="467.0" r="1.8"/><circle cx="597.5" cy="480.1" r="1.8"/><circle cx="609.9" cy="517.1" r="1.8"/><circle cx="611.1" cy="473.0" r="1.8"/><circle cx="610.5" cy="500.2" r="1.8"/><circle cx="613.3" cy="468.3" r="1.8"/><circle cx="615.7" cy="516.6" r="1.8"/><circle cx="612.9" cy="514.2" r="1.8"/><circle cx="611.7" cy="485.1" r="1.8"/><circle cx="604.7" cy="506.5" r="1.8"/><circle cx="609.9" cy="502.0" r="1.8"/><circle cx="612.4" cy="459.3" r="1.8"/><circle cx="610.4" cy="478.1" r="1.8"/><circle cx="613.4" cy="490.6" r="1.8"/><circle cx="612.7" cy="460.9" r="1.8"/><circle cx="612.1" cy="477.1" r="1.8"/><circle cx="611.9" cy="487.2" r="1.8"/><circle cx="613.1" cy="491.8" r="1.8"/><circle cx="613.4" cy="518.2" r="1.8"/><circle cx="610.6" cy="516.0" r="1.8"/><circle cx="612.6" cy="516.2" r="1.8"/><circle cx="608.8" cy="481.5" r="1.8"/><circle cx="613.1" cy="493.8" r="1.8"/><circle cx="614.5" cy="473.2" r="1.8"/><circle cx="613.6" cy="461.8" r="1.8"/><circle cx="612.2" cy="507.9" r="1.8"/><circle cx="612.8" cy="509.4" r="1.8"/><circle cx="613.3" cy="486.5" r="1.8"/><circle cx="611.6" cy="472.9" r="1.8"/><circle cx="617.0" cy="481.3" r="1.8"/><circle cx="612.6" cy="491.0" r="1.8"/><circle cx="612.5" cy="466.0" r="1.8"/><circle cx="621.0" cy="498.9" r="1.8"/><circle cx="620.2" cy="475.9" r="1.8"/><circle cx="620.9" cy="467.2" r="1.8"/><circle cx="619.4" cy="492.0" r="1.8"/><circle cx="620.8" cy="483.4" r="1.8"/><circle cx="618.0" cy="457.0" r="1.8"/><circle cx="622.3" cy="502.9" r="1.8"/><circle cx="624.5" cy="470.9" r="1.8"/><circle cx="623.2" cy="465.4" r="1.8"/><circle cx="621.7" cy="489.3" r="1.8"/><circle cx="621.0" cy="468.8" r="1.8"/><circle cx="618.8" cy="494.2" r="1.8"/><circle cx="621.5" cy="480.4" r="1.8"/><circle cx="624.4" cy="446.8" r="1.8"/><circle cx="623.0" cy="503.8" r="1.8"/><circle cx="618.5" cy="503.0" r="1.8"/><circle cx="622.3" cy="448.5" r="1.8"/><circle cx="619.0" cy="491.7" r="1.8"/><circle cx="618.6" cy="468.0" r="1.8"/><circle cx="623.9" cy="485.2" r="1.8"/><circle cx="618.4" cy="496.4" r="1.8"/><circle cx="622.8" cy="496.0" r="1.8"/><circle cx="624.0" cy="466.5" r="1.8"/><circle cx="543.9" cy="581.1" r="1.8"/><circle cx="535.9" cy="535.6" r="1.8"/><circle cx="532.5" cy="547.4" r="1.8"/><circle cx="554.8" cy="590.3" r="1.8"/><circle cx="529.3" cy="577.2" r="1.8"/><circle cx="550.9" cy="573.0" r="1.8"/><circle cx="545.3" cy="515.3" r="1.8"/><circle cx="537.5" cy="550.2" r="1.8"/><circle cx="548.4" cy="531.8" r="1.8"/><circle cx="547.3" cy="528.7" r="1.8"/><circle cx="564.6" cy="575.1" r="1.8"/><circle cx="563.0" cy="558.3" r="1.8"/><circle cx="546.5" cy="566.0" r="1.8"/><circle cx="552.5" cy="540.8" r="1.8"/><circle cx="561.5" cy="532.6" r="1.8"/><circle cx="548.1" cy="555.5" r="1.8"/><circle cx="545.3" cy="541.0" r="1.8"/><circle cx="530.9" cy="549.7" r="1.8"/><circle cx="538.3" cy="564.1" r="1.8"/><circle cx="558.8" cy="563.2" r="1.8"/><circle cx="535.1" cy="559.8" r="1.8"/><circle cx="547.5" cy="528.5" r="1.8"/><circle cx="552.2" cy="555.3" r="1.8"/><circle cx="546.4" cy="532.2" r="1.8"/><circle cx="578.2" cy="538.3" r="1.8"/><circle cx="544.6" cy="578.9" r="1.8"/><circle cx="553.3" cy="590.3" r="1.8"/><circle cx="548.7" cy="581.0" r="1.8"/><circle cx="543.2" cy="543.6" r="1.8"/><circle cx="557.6" cy="565.8" r="1.8"/><circle cx="556.1" cy="568.5" r="1.8"/><circle cx="559.7" cy="531.8" r="1.8"/><circle cx="548.3" cy="540.5" r="1.8"/><circle cx="552.1" cy="580.3" r="1.8"/><circle cx="537.6" cy="548.3" r="1.8"/><circle cx="552.9" cy="546.9" r="1.8"/><circle cx="552.1" cy="544.2" r="1.8"/><circle cx="562.1" cy="552.7" r="1.8"/><circle cx="557.8" cy="525.7" r="1.8"/><circle cx="539.7" cy="582.4" r="1.8"/><circle cx="528.7" cy="587.3" r="1.8"/><circle cx="537.9" cy="528.8" r="1.8"/><circle cx="548.6" cy="563.3" r="1.8"/><circle cx="531.3" cy="574.9" r="1.8"/><circle cx="549.3" cy="516.1" r="1.8"/><circle cx="561.1" cy="574.5" r="1.8"/><circle cx="544.0" cy="527.1" r="1.8"/><circle cx="552.8" cy="573.6" r="1.8"/><circle cx="557.2" cy="537.5" r="1.8"/><circle cx="559.7" cy="570.6" r="1.8"/><circle cx="561.1" cy="553.6" r="1.8"/><circle cx="558.2" cy="554.3" r="1.8"/><circle cx="556.9" cy="529.4" r="1.8"/><circle cx="537.5" cy="542.8" r="1.8"/><circle cx="543.0" cy="588.0" r="1.8"/><circle cx="562.2" cy="522.4" r="1.8"/><circle cx="531.3" cy="535.6" r="1.8"/><circle cx="561.7" cy="580.9" r="1.8"/><circle cx="561.5" cy="530.2" r="1.8"/><circle cx="540.5" cy="545.4" r="1.8"/><circle cx="537.2" cy="596.2" r="1.8"/><circle cx="533.9" cy="516.7" r="1.8"/><circle cx="534.6" cy="542.9" r="1.8"/><circle cx="540.4" cy="551.7" r="1.8"/><circle cx="549.1" cy="570.6" r="1.8"/><circle cx="534.7" cy="577.9" r="1.8"/><circle cx="547.5" cy="548.3" r="1.8"/><circle cx="543.3" cy="545.8" r="1.8"/><circle cx="542.1" cy="572.2" r="1.8"/><circle cx="551.4" cy="584.2" r="1.8"/><circle cx="553.8" cy="528.2" r="1.8"/><circle cx="564.1" cy="572.8" r="1.8"/><circle cx="557.2" cy="580.4" r="1.8"/><circle cx="534.4" cy="536.8" r="1.8"/><circle cx="555.2" cy="585.1" r="1.8"/><circle cx="546.8" cy="540.2" r="1.8"/><circle cx="566.8" cy="570.5" r="1.8"/><circle cx="554.6" cy="528.4" r="1.8"/><circle cx="573.1" cy="549.5" r="1.8"/><circle cx="538.9" cy="558.9" r="1.8"/><circle cx="539.2" cy="573.8" r="1.8"/><circle cx="532.8" cy="543.6" r="1.8"/><circle cx="545.3" cy="581.1" r="1.8"/><circle cx="548.4" cy="543.8" r="1.8"/><circle cx="569.9" cy="517.7" r="1.8"/><circle cx="554.9" cy="522.0" r="1.8"/><circle cx="536.3" cy="569.8" r="1.8"/><circle cx="548.7" cy="550.4" r="1.8"/><circle cx="563.9" cy="583.4" r="1.8"/><circle cx="537.4" cy="560.3" r="1.8"/><circle cx="544.8" cy="513.5" r="1.8"/><circle cx="545.4" cy="557.7" r="1.8"/><circle cx="552.1" cy="520.1" r="1.8"/><circle cx="541.2" cy="581.1" r="1.8"/><circle cx="566.1" cy="535.8" r="1.8"/><circle cx="568.1" cy="552.8" r="1.8"/><circle cx="554.1" cy="578.4" r="1.8"/><circle cx="535.5" cy="562.7" r="1.8"/><circle cx="559.5" cy="565.9" r="1.8"/><circle cx="547.3" cy="571.0" r="1.8"/><circle cx="558.8" cy="556.7" r="1.8"/><circle cx="519.8" cy="560.5" r="1.8"/><circle cx="552.8" cy="569.3" r="1.8"/><circle cx="535.9" cy="539.0" r="1.8"/><circle cx="542.6" cy="529.5" r="1.8"/><circle cx="558.4" cy="565.9" r="1.8"/><circle cx="525.9" cy="571.9" r="1.8"/><circle cx="541.4" cy="523.5" r="1.8"/><circle cx="558.2" cy="552.9" r="1.8"/><circle cx="542.9" cy="579.2" r="1.8"/><circle cx="531.3" cy="581.9" r="1.8"/><circle cx="552.3" cy="608.0" r="1.8"/><circle cx="547.0" cy="558.0" r="1.8"/><circle cx="591.9" cy="579.0" r="1.8"/><circle cx="582.1" cy="640.0" r="1.8"/><circle cx="590.3" cy="582.7" r="1.8"/><circle cx="544.0" cy="578.8" r="1.8"/><circle cx="534.6" cy="597.0" r="1.8"/><circle cx="588.9" cy="613.4" r="1.8"/><circle cx="579.4" cy="551.6" r="1.8"/><circle cx="555.0" cy="497.5" r="1.8"/><circle cx="530.2" cy="650.1" r="1.8"/><circle cx="547.0" cy="526.7" r="1.8"/><circle cx="571.8" cy="517.5" r="1.8"/><circle cx="582.0" cy="536.4" r="1.8"/><circle cx="570.4" cy="630.4" r="1.8"/><circle cx="597.6" cy="591.0" r="1.8"/><circle cx="579.9" cy="551.2" r="1.8"/><circle cx="581.7" cy="503.3" r="1.8"/><circle cx="579.0" cy="653.3" r="1.8"/><circle cx="528.1" cy="645.4" r="1.8"/><circle cx="533.7" cy="593.0" r="1.8"/><circle cx="576.0" cy="526.1" r="1.8"/><circle cx="589.1" cy="577.3" r="1.8"/><circle cx="558.9" cy="637.7" r="1.8"/><circle cx="582.3" cy="499.4" r="1.8"/><circle cx="565.7" cy="552.7" r="1.8"/><circle cx="578.1" cy="609.1" r="1.8"/><circle cx="555.7" cy="581.6" r="1.8"/><circle cx="562.3" cy="589.4" r="1.8"/><circle cx="523.4" cy="538.6" r="1.8"/><circle cx="549.4" cy="559.5" r="1.8"/><circle cx="539.6" cy="577.4" r="1.8"/><circle cx="572.0" cy="579.5" r="1.8"/><circle cx="570.7" cy="542.2" r="1.8"/><circle cx="556.4" cy="580.7" r="1.8"/><circle cx="544.8" cy="611.1" r="1.8"/><circle cx="569.9" cy="573.9" r="1.8"/><circle cx="579.9" cy="500.0" r="1.8"/><circle cx="547.4" cy="547.1" r="1.8"/><circle cx="536.7" cy="633.5" r="1.8"/><circle cx="572.5" cy="592.9" r="1.8"/><circle cx="581.7" cy="646.9" r="1.8"/><circle cx="573.0" cy="603.5" r="1.8"/><circle cx="535.0" cy="586.4" r="1.8"/><circle cx="558.8" cy="514.0" r="1.8"/><circle cx="581.2" cy="626.0" r="1.8"/><circle cx="605.4" cy="590.9" r="1.8"/><circle cx="573.6" cy="553.0" r="1.8"/><circle cx="529.5" cy="513.8" r="1.8"/><circle cx="527.2" cy="519.6" r="1.8"/><circle cx="591.7" cy="551.3" r="1.8"/><circle cx="561.8" cy="581.2" r="1.8"/><circle cx="542.8" cy="549.7" r="1.8"/><circle cx="527.7" cy="586.6" r="1.8"/><circle cx="532.2" cy="544.4" r="1.8"/><circle cx="568.0" cy="559.2" r="1.8"/><circle cx="562.5" cy="646.2" r="1.8"/><circle cx="525.0" cy="640.0" r="1.8"/><circle cx="528.7" cy="587.1" r="1.8"/><circle cx="571.2" cy="653.3" r="1.8"/><circle cx="534.9" cy="640.0" r="1.8"/><circle cx="554.8" cy="533.5" r="1.8"/><circle cx="544.6" cy="512.2" r="1.8"/><circle cx="542.0" cy="543.0" r="1.8"/><circle cx="574.1" cy="641.8" r="1.8"/><circle cx="534.9" cy="576.9" r="1.8"/><circle cx="555.4" cy="568.8" r="1.8"/><circle cx="558.6" cy="583.4" r="1.8"/><circle cx="537.3" cy="651.6" r="1.8"/><circle cx="585.8" cy="500.0" r="1.8"/><circle cx="592.1" cy="635.1" r="1.8"/><circle cx="535.7" cy="557.1" r="1.8"/><circle cx="558.0" cy="547.8" r="1.8"/><circle cx="551.1" cy="518.1" r="1.8"/><circle cx="569.8" cy="587.0" r="1.8"/><circle cx="538.9" cy="574.5" r="1.8"/><circle cx="511.6" cy="591.5" r="1.8"/><circle cx="533.9" cy="598.3" r="1.8"/><circle cx="553.7" cy="574.4" r="1.8"/><circle cx="655.1" cy="608.7" r="1.8"/><circle cx="656.1" cy="595.8" r="1.8"/><circle cx="656.1" cy="608.3" r="1.8"/><circle cx="654.5" cy="596.6" r="1.8"/><circle cx="654.9" cy="652.7" r="1.8"/><circle cx="656.9" cy="668.3" r="1.8"/><circle cx="652.0" cy="644.2" r="1.8"/><circle cx="655.5" cy="598.6" r="1.8"/><circle cx="659.2" cy="727.5" r="1.8"/><circle cx="654.5" cy="722.5" r="1.8"/><circle cx="656.1" cy="734.4" r="1.8"/><circle cx="655.2" cy="651.8" r="1.8"/><circle cx="657.9" cy="603.5" r="1.8"/><circle cx="660.7" cy="655.6" r="1.8"/><circle cx="653.3" cy="714.5" r="1.8"/><circle cx="653.9" cy="728.1" r="1.8"/><circle cx="656.3" cy="730.8" r="1.8"/><circle cx="658.5" cy="614.9" r="1.8"/><circle cx="651.2" cy="658.6" r="1.8"/><circle cx="654.5" cy="588.5" r="1.8"/><circle cx="654.9" cy="726.9" r="1.8"/><circle cx="655.3" cy="622.3" r="1.8"/><circle cx="658.2" cy="617.6" r="1.8"/><circle cx="655.0" cy="564.6" r="1.8"/><circle cx="656.6" cy="718.9" r="1.8"/><circle cx="652.5" cy="683.8" r="1.8"/><circle cx="655.7" cy="711.8" r="1.8"/><circle cx="654.2" cy="596.5" r="1.8"/><circle cx="658.4" cy="570.7" r="1.8"/><circle cx="656.1" cy="725.4" r="1.8"/><circle cx="653.7" cy="567.2" r="1.8"/><circle cx="654.9" cy="625.4" r="1.8"/><circle cx="653.9" cy="656.0" r="1.8"/><circle cx="653.7" cy="676.9" r="1.8"/><circle cx="654.8" cy="618.4" r="1.8"/><circle cx="655.3" cy="675.7" r="1.8"/><circle cx="652.7" cy="579.2" r="1.8"/><circle cx="652.1" cy="626.9" r="1.8"/><circle cx="656.3" cy="604.5" r="1.8"/><circle cx="655.7" cy="673.4" r="1.8"/><circle cx="655.1" cy="608.5" r="1.8"/><circle cx="656.5" cy="681.9" r="1.8"/><circle cx="654.2" cy="665.0" r="1.8"/><circle cx="654.7" cy="595.5" r="1.8"/><circle cx="658.1" cy="729.9" r="1.8"/><circle cx="653.2" cy="637.8" r="1.8"/><circle cx="658.2" cy="605.9" r="1.8"/><circle cx="656.2" cy="720.2" r="1.8"/><circle cx="656.4" cy="615.1" r="1.8"/><circle cx="654.7" cy="685.7" r="1.8"/><circle cx="657.0" cy="692.9" r="1.8"/><circle cx="655.7" cy="666.0" r="1.8"/><circle cx="653.2" cy="731.9" r="1.8"/><circle cx="654.5" cy="720.8" r="1.8"/><circle cx="654.2" cy="652.8" r="1.8"/><circle cx="656.0" cy="605.7" r="1.8"/><circle cx="655.0" cy="716.4" r="1.8"/><circle cx="654.8" cy="569.3" r="1.8"/><circle cx="652.9" cy="711.2" r="1.8"/><circle cx="656.0" cy="668.1" r="1.8"/><circle cx="654.4" cy="532.6" r="1.8"/><circle cx="665.1" cy="630.5" r="1.8"/><circle cx="665.8" cy="539.9" r="1.8"/><circle cx="667.8" cy="595.9" r="1.8"/><circle cx="649.8" cy="735.6" r="1.8"/><circle cx="662.6" cy="603.3" r="1.8"/><circle cx="657.8" cy="664.4" r="1.8"/><circle cx="649.8" cy="617.5" r="1.8"/><circle cx="635.0" cy="682.5" r="1.8"/><circle cx="654.3" cy="632.4" r="1.8"/><circle cx="672.4" cy="686.9" r="1.8"/><circle cx="658.2" cy="533.2" r="1.8"/><circle cx="650.8" cy="541.9" r="1.8"/><circle cx="669.5" cy="570.7" r="1.8"/><circle cx="669.7" cy="640.1" r="1.8"/><circle cx="654.2" cy="540.6" r="1.8"/><circle cx="657.8" cy="562.2" r="1.8"/><circle cx="647.0" cy="526.4" r="1.8"/><circle cx="664.5" cy="671.1" r="1.8"/><circle cx="671.6" cy="594.6" r="1.8"/><circle cx="655.1" cy="646.5" r="1.8"/><circle cx="672.2" cy="705.1" r="1.8"/><circle cx="673.0" cy="696.6" r="1.8"/><circle cx="655.7" cy="570.4" r="1.8"/><circle cx="657.0" cy="654.2" r="1.8"/><circle cx="650.2" cy="581.5" r="1.8"/><circle cx="667.1" cy="572.6" r="1.8"/><circle cx="654.5" cy="702.7" r="1.8"/><circle cx="638.5" cy="654.8" r="1.8"/><circle cx="638.0" cy="653.9" r="1.8"/><circle cx="648.6" cy="672.6" r="1.8"/><circle cx="664.6" cy="561.4" r="1.8"/><circle cx="653.3" cy="601.8" r="1.8"/><circle cx="673.5" cy="604.2" r="1.8"/><circle cx="660.2" cy="555.8" r="1.8"/><circle cx="669.3" cy="572.4" r="1.8"/><circle cx="662.0" cy="705.9" r="1.8"/><circle cx="647.1" cy="725.3" r="1.8"/><circle cx="667.7" cy="722.1" r="1.8"/><circle cx="674.8" cy="690.2" r="1.8"/><circle cx="687.6" cy="640.8" r="1.8"/><circle cx="687.3" cy="649.5" r="1.8"/><circle cx="698.4" cy="670.7" r="1.8"/><circle cx="696.1" cy="699.5" r="1.8"/><circle cx="707.6" cy="643.0" r="1.8"/><circle cx="690.3" cy="718.6" r="1.8"/><circle cx="720.8" cy="705.2" r="1.8"/><circle cx="709.5" cy="626.5" r="1.8"/><circle cx="697.7" cy="635.6" r="1.8"/><circle cx="708.1" cy="652.2" r="1.8"/><circle cx="706.1" cy="757.2" r="1.8"/><circle cx="715.5" cy="664.2" r="1.8"/><circle cx="713.0" cy="677.8" r="1.8"/><circle cx="701.0" cy="683.5" r="1.8"/><circle cx="695.0" cy="751.7" r="1.8"/><circle cx="681.6" cy="730.5" r="1.8"/><circle cx="712.3" cy="644.6" r="1.8"/><circle cx="693.4" cy="652.4" r="1.8"/><circle cx="698.0" cy="631.0" r="1.8"/><circle cx="703.1" cy="700.7" r="1.8"/><circle cx="683.8" cy="699.3" r="1.8"/><circle cx="726.6" cy="625.8" r="1.8"/><circle cx="700.1" cy="703.4" r="1.8"/><circle cx="686.9" cy="682.8" r="1.8"/><circle cx="695.7" cy="681.6" r="1.8"/><circle cx="683.0" cy="688.2" r="1.8"/><circle cx="715.4" cy="717.8" r="1.8"/><circle cx="703.9" cy="724.6" r="1.8"/><circle cx="687.0" cy="615.2" r="1.8"/><circle cx="687.9" cy="750.1" r="1.8"/><circle cx="697.6" cy="701.5" r="1.8"/><circle cx="684.7" cy="655.2" r="1.8"/><circle cx="705.8" cy="691.3" r="1.8"/><circle cx="663.6" cy="739.5" r="1.8"/><circle cx="682.5" cy="725.2" r="1.8"/><circle cx="697.3" cy="629.7" r="1.8"/><circle cx="691.3" cy="754.2" r="1.8"/><circle cx="689.2" cy="759.9" r="1.8"/><circle cx="700.5" cy="620.0" r="1.8"/><circle cx="713.4" cy="668.9" r="1.8"/><circle cx="714.7" cy="644.2" r="1.8"/><circle cx="714.7" cy="764.7" r="1.8"/><circle cx="709.5" cy="708.1" r="1.8"/><circle cx="703.9" cy="721.9" r="1.8"/><circle cx="717.8" cy="726.8" r="1.8"/><circle cx="699.5" cy="626.5" r="1.8"/><circle cx="680.1" cy="652.2" r="1.8"/><circle cx="699.1" cy="695.8" r="1.8"/><circle cx="706.9" cy="700.3" r="1.8"/><circle cx="691.6" cy="678.4" r="1.8"/><circle cx="710.3" cy="715.2" r="1.8"/><circle cx="688.3" cy="691.7" r="1.8"/><circle cx="716.0" cy="658.8" r="1.8"/><circle cx="712.9" cy="663.7" r="1.8"/><circle cx="690.3" cy="666.1" r="1.8"/><circle cx="692.7" cy="744.1" r="1.8"/><circle cx="688.0" cy="700.1" r="1.8"/><circle cx="683.4" cy="677.1" r="1.8"/><circle cx="715.9" cy="659.2" r="1.8"/><circle cx="715.1" cy="692.1" r="1.8"/><circle cx="695.1" cy="729.4" r="1.8"/><circle cx="696.6" cy="744.7" r="1.8"/><circle cx="697.1" cy="775.3" r="1.8"/><circle cx="698.4" cy="764.8" r="1.8"/><circle cx="695.5" cy="739.8" r="1.8"/><circle cx="693.9" cy="774.7" r="1.8"/><circle cx="698.7" cy="719.5" r="1.8"/><circle cx="695.1" cy="793.2" r="1.8"/><circle cx="697.0" cy="715.1" r="1.8"/><circle cx="695.4" cy="741.7" r="1.8"/><circle cx="695.4" cy="785.7" r="1.8"/><circle cx="692.7" cy="745.6" r="1.8"/><circle cx="690.5" cy="748.6" r="1.8"/><circle cx="694.6" cy="756.2" r="1.8"/><circle cx="694.9" cy="703.5" r="1.8"/><circle cx="694.0" cy="772.5" r="1.8"/><circle cx="695.1" cy="767.5" r="1.8"/><circle cx="695.1" cy="776.7" r="1.8"/><circle cx="694.5" cy="753.1" r="1.8"/><circle cx="695.8" cy="763.1" r="1.8"/><circle cx="694.7" cy="773.1" r="1.8"/><circle cx="693.0" cy="748.6" r="1.8"/><circle cx="695.5" cy="738.2" r="1.8"/><circle cx="695.2" cy="743.3" r="1.8"/><circle cx="693.5" cy="727.9" r="1.8"/><circle cx="691.7" cy="705.4" r="1.8"/><circle cx="695.2" cy="728.7" r="1.8"/><circle cx="695.8" cy="753.5" r="1.8"/><circle cx="697.4" cy="759.8" r="1.8"/><circle cx="694.1" cy="760.9" r="1.8"/><circle cx="696.5" cy="740.6" r="1.8"/><circle cx="697.0" cy="765.8" r="1.8"/><circle cx="693.9" cy="746.1" r="1.8"/><circle cx="697.4" cy="724.2" r="1.8"/><circle cx="698.7" cy="752.3" r="1.8"/><circle cx="519.2" cy="734.1" r="1.8"/><circle cx="520.9" cy="679.5" r="1.8"/><circle cx="536.6" cy="659.7" r="1.8"/><circle cx="543.1" cy="658.6" r="1.8"/><circle cx="498.6" cy="646.3" r="1.8"/><circle cx="523.2" cy="652.9" r="1.8"/><circle cx="544.8" cy="767.6" r="1.8"/><circle cx="487.7" cy="701.3" r="1.8"/><circle cx="524.2" cy="668.3" r="1.8"/><circle cx="528.5" cy="745.8" r="1.8"/><circle cx="547.4" cy="704.9" r="1.8"/><circle cx="517.9" cy="788.1" r="1.8"/><circle cx="539.7" cy="742.9" r="1.8"/><circle cx="487.1" cy="674.4" r="1.8"/><circle cx="510.8" cy="780.8" r="1.8"/><circle cx="564.0" cy="705.5" r="1.8"/><circle cx="510.3" cy="727.4" r="1.8"/><circle cx="489.1" cy="773.6" r="1.8"/><circle cx="546.3" cy="686.4" r="1.8"/><circle cx="523.2" cy="653.4" r="1.8"/><circle cx="560.0" cy="722.0" r="1.8"/><circle cx="551.1" cy="663.5" r="1.8"/><circle cx="551.8" cy="776.1" r="1.8"/><circle cx="531.2" cy="788.0" r="1.8"/><circle cx="530.4" cy="709.0" r="1.8"/><circle cx="545.1" cy="721.4" r="1.8"/><circle cx="553.4" cy="664.4" r="1.8"/><circle cx="565.9" cy="693.9" r="1.8"/><circle cx="550.5" cy="722.6" r="1.8"/><circle cx="525.3" cy="731.0" r="1.8"/><circle cx="550.1" cy="652.5" r="1.8"/><circle cx="500.2" cy="717.2" r="1.8"/><circle cx="514.5" cy="721.3" r="1.8"/><circle cx="517.5" cy="687.9" r="1.8"/><circle cx="550.3" cy="730.0" r="1.8"/><circle cx="531.4" cy="597.7" r="1.8"/><circle cx="730.0" cy="689.5" r="1.8"/><circle cx="608.6" cy="672.4" r="1.8"/><circle cx="611.2" cy="539.0" r="1.8"/><circle cx="665.1" cy="643.9" r="1.8"/><circle cx="736.7" cy="587.3" r="1.8"/><circle cx="720.4" cy="609.8" r="1.8"/><circle cx="555.5" cy="532.5" r="1.8"/><circle cx="502.4" cy="534.9" r="1.8"/><circle cx="585.6" cy="526.3" r="1.8"/><circle cx="698.5" cy="605.2" r="1.8"/><circle cx="495.3" cy="510.5" r="1.8"/><circle cx="650.3" cy="575.9" r="1.8"/><circle cx="711.3" cy="688.2" r="1.8"/><circle cx="596.3" cy="614.0" r="1.8"/><circle cx="563.7" cy="521.4" r="1.8"/><circle cx="612.7" cy="547.3" r="1.8"/><circle cx="691.7" cy="595.2" r="1.8"/><circle cx="507.2" cy="538.7" r="1.8"/><circle cx="567.5" cy="497.8" r="1.8"/><circle cx="531.0" cy="590.7" r="1.8"/><circle cx="606.4" cy="567.6" r="1.8"/><circle cx="675.8" cy="710.1" r="1.8"/><circle cx="653.6" cy="501.1" r="1.8"/><circle cx="541.2" cy="674.5" r="1.8"/></g>
<g fill="rgb(115,128,182)" fill-opacity="0.32"><circle cx="634.6" cy="486.3" r="1.8"/><circle cx="618.2" cy="537.7" r="1.8"/><circle cx="610.3" cy="532.9" r="1.8"/><circle cx="637.9" cy="550.1" r="1.8"/><circle cx="585.4" cy="545.3" r="1.8"/><circle cx="648.8" cy="502.0" r="1.8"/><circle cx="611.1" cy="518.0" r="1.8"/><circle cx="625.6" cy="542.7" r="1.8"/><circle cx="595.0" cy="521.8" r="1.8"/><circle cx="633.5" cy="549.9" r="1.8"/><circle cx="621.6" cy="531.1" r="1.8"/><circle cx="600.0" cy="495.2" r="1.8"/><circle cx="629.0" cy="503.7" r="1.8"/><circle cx="602.0" cy="489.6" r="1.8"/><circle cx="625.0" cy="491.3" r="1.8"/><circle cx="632.3" cy="548.6" r="1.8"/><circle cx="629.5" cy="540.9" r="1.8"/><circle cx="592.8" cy="522.1" r="1.8"/><circle cx="631.0" cy="525.1" r="1.8"/><circle cx="614.9" cy="554.1" r="1.8"/><circle cx="614.3" cy="547.4" r="1.8"/><circle cx="601.9" cy="493.1" r="1.8"/><circle cx="633.2" cy="494.3" r="1.8"/><circle cx="623.5" cy="515.3" r="1.8"/><circle cx="609.8" cy="541.1" r="1.8"/><circle cx="631.3" cy="504.2" r="1.8"/><circle cx="591.9" cy="505.9" r="1.8"/><circle cx="637.2" cy="499.2" r="1.8"/><circle cx="634.3" cy="547.8" r="1.8"/><circle cx="595.5" cy="518.1" r="1.8"/><circle cx="630.5" cy="516.6" r="1.8"/><circle cx="623.8" cy="517.1" r="1.8"/><circle cx="590.0" cy="515.3" r="1.8"/><circle cx="589.4" cy="517.0" r="1.8"/><circle cx="612.4" cy="556.5" r="1.8"/><circle cx="615.2" cy="519.5" r="1.8"/><circle cx="610.3" cy="545.6" r="1.8"/><circle cx="598.8" cy="528.4" r="1.8"/><circle cx="627.5" cy="493.8" r="1.8"/><circle cx="622.5" cy="477.4" r="1.8"/><circle cx="596.3" cy="526.6" r="1.8"/><circle cx="610.3" cy="525.7" r="1.8"/><circle cx="640.6" cy="493.6" r="1.8"/><circle cx="629.6" cy="555.2" r="1.8"/><circle cx="636.0" cy="536.5" r="1.8"/><circle cx="638.1" cy="555.4" r="1.8"/><circle cx="636.1" cy="561.1" r="1.8"/><circle cx="630.5" cy="507.8" r="1.8"/><circle cx="627.0" cy="535.4" r="1.8"/><circle cx="620.1" cy="560.1" r="1.8"/><circle cx="625.8" cy="489.1" r="1.8"/><circle cx="591.4" cy="546.1" r="1.8"/><circle cx="623.1" cy="523.9" r="1.8"/><circle cx="597.4" cy="552.7" r="1.8"/><circle cx="608.0" cy="526.7" r="1.8"/><circle cx="605.6" cy="507.8" r="1.8"/><circle cx="620.4" cy="504.5" r="1.8"/><circle cx="620.5" cy="547.8" r="1.8"/><circle cx="619.6" cy="534.1" r="1.8"/><circle cx="589.9" cy="519.1" r="1.8"/><circle cx="635.6" cy="533.8" r="1.8"/><circle cx="601.1" cy="513.7" r="1.8"/><circle cx="625.1" cy="528.9" r="1.8"/><circle cx="618.8" cy="562.5" r="1.8"/><circle cx="583.3" cy="531.3" r="1.8"/><circle cx="608.4" cy="501.3" r="1.8"/><circle cx="630.0" cy="491.3" r="1.8"/><circle cx="596.9" cy="474.1" r="1.8"/><circle cx="635.6" cy="540.0" r="1.8"/><circle cx="633.7" cy="524.8" r="1.8"/><circle cx="628.3" cy="518.0" r="1.8"/><circle cx="597.8" cy="555.0" r="1.8"/><circle cx="622.2" cy="490.0" r="1.8"/><circle cx="634.1" cy="533.9" r="1.8"/><circle cx="602.2" cy="513.4" r="1.8"/><circle cx="630.8" cy="493.2" r="1.8"/><circle cx="601.4" cy="498.0" r="1.8"/><circle cx="606.2" cy="506.7" r="1.8"/><circle cx="630.9" cy="525.9" r="1.8"/><circle cx="592.9" cy="517.1" r="1.8"/><circle cx="642.0" cy="534.8" r="1.8"/><circle cx="599.5" cy="503.7" r="1.8"/><circle cx="636.0" cy="489.8" r="1.8"/><circle cx="604.6" cy="496.9" r="1.8"/><circle cx="642.2" cy="496.8" r="1.8"/><circle cx="604.2" cy="545.3" r="1.8"/><circle cx="612.6" cy="518.7" r="1.8"/><circle cx="619.4" cy="510.7" r="1.8"/><circle cx="638.8" cy="495.6" r="1.8"/><circle cx="627.0" cy="481.7" r="1.8"/><circle cx="635.1" cy="518.0" r="1.8"/><circle cx="595.2" cy="514.9" r="1.8"/><circle cx="595.7" cy="487.4" r="1.8"/><circle cx="632.5" cy="490.3" r="1.8"/><circle cx="620.1" cy="508.7" r="1.8"/><circle cx="608.6" cy="538.6" r="1.8"/><circle cx="614.2" cy="521.3" r="1.8"/><circle cx="612.5" cy="556.0" r="1.8"/><circle cx="640.3" cy="478.0" r="1.8"/><circle cx="606.0" cy="482.0" r="1.8"/><circle cx="597.2" cy="527.8" r="1.8"/><circle cx="596.3" cy="486.6" r="1.8"/><circle cx="619.1" cy="537.9" r="1.8"/><circle cx="597.2" cy="537.9" r="1.8"/><circle cx="610.5" cy="530.1" r="1.8"/><circle cx="637.1" cy="527.6" r="1.8"/><circle cx="603.8" cy="553.3" r="1.8"/><circle cx="626.4" cy="549.8" r="1.8"/><circle cx="606.6" cy="503.6" r="1.8"/><circle cx="593.9" cy="557.4" r="1.8"/><circle cx="639.3" cy="485.8" r="1.8"/><circle cx="600.2" cy="525.0" r="1.8"/><circle cx="593.5" cy="504.2" r="1.8"/><circle cx="613.5" cy="511.7" r="1.8"/><circle cx="624.6" cy="532.2" r="1.8"/><circle cx="628.5" cy="531.3" r="1.8"/><circle cx="614.5" cy="558.4" r="1.8"/><circle cx="620.4" cy="489.9" r="1.8"/><circle cx="626.0" cy="553.7" r="1.8"/><circle cx="600.0" cy="487.5" r="1.8"/><circle cx="565.9" cy="627.0" r="1.8"/><circle cx="613.5" cy="540.9" r="1.8"/><circle cx="615.7" cy="554.0" r="1.8"/><circle cx="636.0" cy="564.1" r="1.8"/><circle cx="538.1" cy="597.6" r="1.8"/><circle cx="614.4" cy="506.8" r="1.8"/><circle cx="538.7" cy="672.8" r="1.8"/><circle cx="577.9" cy="576.6" r="1.8"/><circle cx="550.2" cy="662.0" r="1.8"/><circle cx="504.9" cy="678.2" r="1.8"/><circle cx="582.9" cy="629.3" r="1.8"/><circle cx="526.9" cy="644.8" r="1.8"/><circle cx="562.6" cy="622.8" r="1.8"/><circle cx="560.7" cy="595.7" r="1.8"/><circle cx="616.3" cy="561.2" r="1.8"/><circle cx="597.3" cy="540.0" r="1.8"/><circle cx="626.5" cy="567.0" r="1.8"/><circle cx="542.3" cy="626.0" r="1.8"/><circle cx="569.0" cy="559.7" r="1.8"/><circle cx="569.0" cy="581.6" r="1.8"/><circle cx="545.8" cy="616.8" r="1.8"/><circle cx="559.0" cy="590.5" r="1.8"/><circle cx="602.1" cy="558.3" r="1.8"/><circle cx="520.9" cy="668.1" r="1.8"/><circle cx="531.4" cy="636.7" r="1.8"/><circle cx="587.4" cy="550.7" r="1.8"/><circle cx="634.1" cy="537.7" r="1.8"/><circle cx="604.8" cy="549.1" r="1.8"/><circle cx="598.2" cy="535.4" r="1.8"/><circle cx="560.8" cy="592.3" r="1.8"/><circle cx="596.6" cy="549.9" r="1.8"/><circle cx="547.8" cy="597.6" r="1.8"/><circle cx="554.8" cy="608.6" r="1.8"/><circle cx="530.7" cy="635.3" r="1.8"/><circle cx="548.5" cy="583.2" r="1.8"/><circle cx="624.3" cy="557.7" r="1.8"/><circle cx="531.4" cy="640.9" r="1.8"/><circle cx="607.4" cy="547.5" r="1.8"/><circle cx="564.0" cy="641.7" r="1.8"/><circle cx="545.6" cy="629.9" r="1.8"/><circle cx="637.9" cy="543.8" r="1.8"/><circle cx="559.4" cy="664.7" r="1.8"/><circle cx="557.5" cy="658.8" r="1.8"/><circle cx="614.3" cy="535.6" r="1.8"/><circle cx="613.6" cy="572.0" r="1.8"/><circle cx="602.1" cy="556.2" r="1.8"/><circle cx="574.9" cy="592.7" r="1.8"/><circle cx="561.4" cy="599.1" r="1.8"/><circle cx="572.8" cy="576.6" r="1.8"/><circle cx="587.5" cy="538.1" r="1.8"/><circle cx="590.4" cy="615.2" r="1.8"/><circle cx="536.4" cy="607.9" r="1.8"/><circle cx="524.9" cy="631.7" r="1.8"/><circle cx="530.0" cy="672.3" r="1.8"/><circle cx="576.8" cy="617.1" r="1.8"/><circle cx="556.2" cy="600.3" r="1.8"/><circle cx="594.2" cy="575.8" r="1.8"/><circle cx="586.0" cy="568.6" r="1.8"/><circle cx="557.3" cy="598.0" r="1.8"/><circle cx="547.7" cy="650.1" r="1.8"/><circle cx="562.9" cy="579.3" r="1.8"/><circle cx="582.6" cy="565.2" r="1.8"/><circle cx="551.5" cy="598.7" r="1.8"/><circle cx="627.7" cy="542.8" r="1.8"/><circle cx="535.9" cy="668.1" r="1.8"/><circle cx="613.5" cy="543.4" r="1.8"/><circle cx="617.7" cy="535.0" r="1.8"/><circle cx="564.2" cy="585.1" r="1.8"/><circle cx="566.7" cy="616.8" r="1.8"/><circle cx="618.3" cy="561.2" r="1.8"/><circle cx="541.9" cy="634.6" r="1.8"/><circle cx="577.3" cy="571.5" r="1.8"/><circle cx="536.4" cy="637.9" r="1.8"/><circle cx="541.6" cy="683.0" r="1.8"/><circle cx="583.2" cy="586.1" r="1.8"/><circle cx="586.5" cy="557.9" r="1.8"/><circle cx="562.7" cy="607.6" r="1.8"/><circle cx="563.2" cy="620.7" r="1.8"/><circle cx="563.9" cy="600.4" r="1.8"/><circle cx="590.7" cy="511.5" r="1.8"/><circle cx="603.4" cy="576.1" r="1.8"/><circle cx="592.5" cy="584.2" r="1.8"/><circle cx="589.9" cy="583.8" r="1.8"/><circle cx="622.4" cy="533.6" r="1.8"/><circle cx="573.6" cy="545.6" r="1.8"/><circle cx="605.1" cy="531.4" r="1.8"/><circle cx="602.5" cy="555.5" r="1.8"/><circle cx="574.9" cy="620.1" r="1.8"/><circle cx="575.2" cy="591.8" r="1.8"/><circle cx="566.0" cy="616.2" r="1.8"/><circle cx="538.0" cy="615.0" r="1.8"/><circle cx="612.2" cy="533.9" r="1.8"/><circle cx="577.8" cy="555.3" r="1.8"/><circle cx="599.1" cy="529.4" r="1.8"/><circle cx="627.1" cy="550.3" r="1.8"/><circle cx="539.0" cy="646.8" r="1.8"/><circle cx="535.0" cy="630.2" r="1.8"/><circle cx="554.6" cy="588.9" r="1.8"/><circle cx="572.3" cy="581.9" r="1.8"/><circle cx="587.5" cy="534.6" r="1.8"/><circle cx="525.6" cy="667.6" r="1.8"/><circle cx="564.8" cy="568.2" r="1.8"/><circle cx="582.2" cy="585.5" r="1.8"/><circle cx="555.1" cy="565.6" r="1.8"/><circle cx="619.6" cy="552.5" r="1.8"/><circle cx="568.8" cy="614.8" r="1.8"/><circle cx="626.8" cy="555.5" r="1.8"/><circle cx="542.9" cy="584.4" r="1.8"/><circle cx="570.1" cy="595.0" r="1.8"/><circle cx="587.7" cy="550.4" r="1.8"/><circle cx="600.8" cy="563.6" r="1.8"/><circle cx="527.0" cy="631.8" r="1.8"/><circle cx="549.9" cy="594.0" r="1.8"/><circle cx="550.2" cy="618.2" r="1.8"/><circle cx="575.2" cy="596.5" r="1.8"/><circle cx="539.7" cy="623.9" r="1.8"/><circle cx="591.7" cy="552.5" r="1.8"/><circle cx="572.9" cy="591.3" r="1.8"/><circle cx="548.2" cy="654.3" r="1.8"/><circle cx="529.5" cy="614.9" r="1.8"/><circle cx="552.7" cy="621.8" r="1.8"/><circle cx="549.9" cy="562.8" r="1.8"/><circle cx="640.0" cy="539.0" r="1.8"/><circle cx="591.0" cy="572.6" r="1.8"/><circle cx="633.0" cy="562.4" r="1.8"/><circle cx="538.2" cy="635.6" r="1.8"/><circle cx="601.7" cy="531.0" r="1.8"/><circle cx="573.2" cy="623.3" r="1.8"/><circle cx="530.6" cy="653.8" r="1.8"/><circle cx="591.5" cy="555.5" r="1.8"/><circle cx="572.7" cy="548.6" r="1.8"/><circle cx="586.2" cy="587.2" r="1.8"/><circle cx="593.2" cy="555.5" r="1.8"/><circle cx="626.1" cy="550.7" r="1.8"/><circle cx="578.3" cy="599.8" r="1.8"/><circle cx="561.7" cy="581.5" r="1.8"/><circle cx="602.2" cy="543.4" r="1.8"/><circle cx="605.0" cy="543.2" r="1.8"/><circle cx="564.0" cy="609.3" r="1.8"/><circle cx="628.4" cy="573.2" r="1.8"/><circle cx="584.8" cy="535.2" r="1.8"/><circle cx="609.7" cy="555.3" r="1.8"/><circle cx="562.2" cy="604.8" r="1.8"/><circle cx="627.3" cy="557.9" r="1.8"/><circle cx="529.3" cy="620.7" r="1.8"/><circle cx="581.6" cy="579.4" r="1.8"/><circle cx="557.2" cy="631.2" r="1.8"/><circle cx="596.6" cy="562.0" r="1.8"/><circle cx="581.4" cy="578.4" r="1.8"/><circle cx="578.3" cy="553.9" r="1.8"/><circle cx="571.2" cy="574.8" r="1.8"/><circle cx="628.8" cy="559.1" r="1.8"/><circle cx="579.1" cy="586.5" r="1.8"/><circle cx="613.2" cy="542.0" r="1.8"/><circle cx="589.3" cy="574.0" r="1.8"/><circle cx="628.2" cy="526.3" r="1.8"/><circle cx="584.6" cy="535.8" r="1.8"/><circle cx="594.9" cy="554.5" r="1.8"/><circle cx="591.3" cy="556.4" r="1.8"/><circle cx="577.9" cy="591.9" r="1.8"/><circle cx="617.0" cy="565.7" r="1.8"/><circle cx="585.0" cy="554.4" r="1.8"/><circle cx="528.3" cy="642.6" r="1.8"/><circle cx="641.6" cy="559.9" r="1.8"/><circle cx="498.4" cy="630.5" r="1.8"/><circle cx="608.3" cy="534.2" r="1.8"/><circle cx="628.2" cy="556.8" r="1.8"/><circle cx="534.5" cy="601.2" r="1.8"/><circle cx="562.2" cy="597.5" r="1.8"/><circle cx="528.3" cy="661.5" r="1.8"/><circle cx="617.3" cy="572.4" r="1.8"/><circle cx="556.1" cy="608.6" r="1.8"/><circle cx="595.1" cy="549.1" r="1.8"/><circle cx="567.6" cy="608.0" r="1.8"/><circle cx="648.9" cy="582.2" r="1.8"/><circle cx="586.7" cy="543.2" r="1.8"/><circle cx="572.9" cy="581.9" r="1.8"/><circle cx="591.8" cy="553.5" r="1.8"/><circle cx="579.6" cy="562.8" r="1.8"/><circle cx="627.5" cy="511.7" r="1.8"/><circle cx="531.3" cy="615.6" r="1.8"/><circle cx="531.8" cy="623.3" r="1.8"/><circle cx="542.0" cy="617.1" r="1.8"/><circle cx="602.4" cy="536.0" r="1.8"/><circle cx="571.7" cy="591.0" r="1.8"/><circle cx="574.7" cy="552.8" r="1.8"/><circle cx="508.8" cy="631.1" r="1.8"/><circle cx="595.7" cy="575.4" r="1.8"/><circle cx="570.7" cy="559.4" r="1.8"/><circle cx="569.4" cy="596.8" r="1.8"/><circle cx="623.9" cy="537.9" r="1.8"/><circle cx="617.4" cy="510.2" r="1.8"/><circle cx="571.3" cy="601.6" r="1.8"/><circle cx="547.7" cy="624.1" r="1.8"/><circle cx="562.6" cy="608.6" r="1.8"/><circle cx="546.1" cy="594.8" r="1.8"/><circle cx="542.0" cy="621.0" r="1.8"/><circle cx="605.7" cy="560.1" r="1.8"/><circle cx="545.1" cy="628.7" r="1.8"/><circle cx="560.0" cy="584.5" r="1.8"/><circle cx="634.0" cy="638.0" r="1.8"/><circle cx="593.7" cy="573.9" r="1.8"/><circle cx="640.5" cy="553.0" r="1.8"/><circle cx="636.6" cy="530.8" r="1.8"/><circle cx="641.6" cy="575.5" r="1.8"/><circle cx="622.8" cy="590.7" r="1.8"/><circle cx="615.5" cy="550.5" r="1.8"/><circle cx="606.8" cy="553.9" r="1.8"/><circle cx="640.6" cy="603.7" r="1.8"/><circle cx="593.3" cy="620.2" r="1.8"/><circle cx="653.8" cy="623.9" r="1.8"/><circle cx="645.7" cy="572.0" r="1.8"/><circle cx="607.0" cy="590.2" r="1.8"/><circle cx="646.3" cy="604.9" r="1.8"/><circle cx="622.8" cy="586.8" r="1.8"/><circle cx="645.6" cy="631.0" r="1.8"/><circle cx="601.2" cy="632.8" r="1.8"/><circle cx="599.2" cy="577.2" r="1.8"/><circle cx="602.9" cy="618.7" r="1.8"/><circle cx="611.0" cy="612.0" r="1.8"/><circle cx="603.2" cy="546.7" r="1.8"/><circle cx="648.0" cy="619.7" r="1.8"/><circle cx="630.7" cy="635.8" r="1.8"/><circle cx="606.2" cy="559.8" r="1.8"/><circle cx="607.0" cy="623.4" r="1.8"/><circle cx="638.2" cy="584.4" r="1.8"/><circle cx="621.6" cy="593.3" r="1.8"/><circle cx="654.0" cy="607.3" r="1.8"/><circle cx="648.7" cy="565.3" r="1.8"/><circle cx="639.1" cy="599.6" r="1.8"/><circle cx="608.0" cy="560.5" r="1.8"/><circle cx="597.7" cy="598.7" r="1.8"/><circle cx="633.0" cy="613.1" r="1.8"/><circle cx="628.4" cy="635.8" r="1.8"/><circle cx="643.4" cy="637.4" r="1.8"/><circle cx="628.0" cy="624.4" r="1.8"/><circle cx="643.3" cy="648.7" r="1.8"/><circle cx="652.4" cy="626.9" r="1.8"/><circle cx="656.9" cy="599.8" r="1.8"/><circle cx="601.9" cy="560.8" r="1.8"/><circle cx="626.2" cy="593.7" r="1.8"/><circle cx="623.5" cy="593.4" r="1.8"/><circle cx="604.8" cy="551.2" r="1.8"/><circle cx="634.8" cy="594.6" r="1.8"/><circle cx="625.6" cy="601.2" r="1.8"/><circle cx="630.8" cy="569.6" r="1.8"/><circle cx="654.1" cy="587.3" r="1.8"/><circle cx="609.5" cy="606.0" r="1.8"/><circle cx="600.1" cy="580.7" r="1.8"/><circle cx="609.8" cy="590.3" r="1.8"/><circle cx="639.3" cy="592.2" r="1.8"/><circle cx="621.9" cy="616.1" r="1.8"/><circle cx="613.2" cy="634.1" r="1.8"/><circle cx="616.4" cy="598.5" r="1.8"/><circle cx="651.4" cy="556.9" r="1.8"/><circle cx="646.1" cy="623.6" r="1.8"/><circle cx="611.2" cy="557.0" r="1.8"/><circle cx="627.9" cy="642.9" r="1.8"/><circle cx="627.5" cy="590.5" r="1.8"/><circle cx="612.0" cy="602.8" r="1.8"/><circle cx="603.1" cy="576.3" r="1.8"/><circle cx="633.7" cy="574.4" r="1.8"/><circle cx="621.7" cy="555.9" r="1.8"/><circle cx="626.4" cy="603.3" r="1.8"/><circle cx="621.7" cy="590.3" r="1.8"/><circle cx="643.2" cy="587.3" r="1.8"/><circle cx="611.1" cy="553.1" r="1.8"/><circle cx="619.4" cy="607.6" r="1.8"/><circle cx="613.3" cy="642.0" r="1.8"/><circle cx="622.0" cy="578.5" r="1.8"/><circle cx="608.9" cy="568.1" r="1.8"/><circle cx="652.8" cy="559.1" r="1.8"/><circle cx="600.7" cy="640.9" r="1.8"/><circle cx="634.9" cy="607.2" r="1.8"/><circle cx="650.5" cy="603.6" r="1.8"/><circle cx="626.2" cy="639.2" r="1.8"/><circle cx="629.2" cy="635.8" r="1.8"/><circle cx="625.8" cy="621.1" r="1.8"/><circle cx="633.9" cy="601.4" r="1.8"/><circle cx="633.7" cy="555.6" r="1.8"/><circle cx="654.9" cy="712.9" r="1.8"/><circle cx="657.5" cy="535.4" r="1.8"/><circle cx="659.1" cy="601.0" r="1.8"/><circle cx="652.2" cy="587.5" r="1.8"/><circle cx="651.5" cy="598.3" r="1.8"/><circle cx="658.2" cy="539.7" r="1.8"/><circle cx="652.7" cy="700.9" r="1.8"/><circle cx="657.9" cy="722.5" r="1.8"/><circle cx="658.6" cy="674.8" r="1.8"/><circle cx="656.6" cy="701.5" r="1.8"/><circle cx="655.1" cy="631.8" r="1.8"/><circle cx="659.8" cy="522.0" r="1.8"/><circle cx="661.2" cy="528.5" r="1.8"/><circle cx="653.3" cy="712.9" r="1.8"/><circle cx="658.1" cy="723.5" r="1.8"/><circle cx="660.3" cy="594.6" r="1.8"/><circle cx="658.8" cy="576.4" r="1.8"/><circle cx="655.1" cy="593.4" r="1.8"/><circle cx="655.0" cy="521.8" r="1.8"/><circle cx="651.6" cy="731.4" r="1.8"/><circle cx="657.3" cy="550.3" r="1.8"/><circle cx="654.0" cy="688.4" r="1.8"/><circle cx="658.5" cy="634.6" r="1.8"/><circle cx="658.5" cy="706.9" r="1.8"/><circle cx="656.8" cy="561.2" r="1.8"/><circle cx="657.7" cy="691.3" r="1.8"/><circle cx="660.6" cy="651.5" r="1.8"/><circle cx="656.3" cy="658.7" r="1.8"/><circle cx="662.9" cy="533.3" r="1.8"/><circle cx="658.8" cy="569.0" r="1.8"/><circle cx="654.0" cy="723.6" r="1.8"/><circle cx="653.7" cy="580.7" r="1.8"/><circle cx="659.8" cy="535.8" r="1.8"/><circle cx="658.2" cy="678.7" r="1.8"/><circle cx="651.4" cy="592.5" r="1.8"/><circle cx="658.0" cy="577.6" r="1.8"/><circle cx="662.5" cy="683.7" r="1.8"/><circle cx="658.0" cy="617.9" r="1.8"/><circle cx="653.9" cy="654.6" r="1.8"/><circle cx="659.5" cy="689.9" r="1.8"/><circle cx="659.9" cy="514.0" r="1.8"/><circle cx="654.7" cy="636.8" r="1.8"/><circle cx="658.5" cy="656.4" r="1.8"/><circle cx="652.3" cy="676.7" r="1.8"/><circle cx="662.7" cy="725.1" r="1.8"/><circle cx="657.9" cy="657.0" r="1.8"/><circle cx="651.6" cy="718.6" r="1.8"/><circle cx="655.3" cy="692.2" r="1.8"/><circle cx="655.1" cy="745.3" r="1.8"/><circle cx="653.3" cy="684.7" r="1.8"/><circle cx="660.6" cy="640.9" r="1.8"/><circle cx="659.1" cy="616.3" r="1.8"/><circle cx="658.1" cy="694.2" r="1.8"/><circle cx="660.0" cy="622.7" r="1.8"/><circle cx="654.5" cy="759.1" r="1.8"/><circle cx="655.3" cy="655.6" r="1.8"/><circle cx="659.9" cy="694.4" r="1.8"/><circle cx="659.0" cy="639.2" r="1.8"/><circle cx="657.7" cy="517.5" r="1.8"/><circle cx="656.3" cy="734.3" r="1.8"/><circle cx="657.8" cy="607.9" r="1.8"/><circle cx="654.7" cy="727.8" r="1.8"/><circle cx="653.2" cy="627.0" r="1.8"/><circle cx="651.7" cy="690.4" r="1.8"/><circle cx="658.6" cy="612.7" r="1.8"/><circle cx="661.0" cy="680.3" r="1.8"/><circle cx="655.8" cy="541.8" r="1.8"/><circle cx="659.9" cy="538.7" r="1.8"/><circle cx="657.2" cy="744.3" r="1.8"/><circle cx="654.6" cy="557.5" r="1.8"/><circle cx="659.8" cy="613.1" r="1.8"/><circle cx="656.0" cy="581.7" r="1.8"/><circle cx="655.8" cy="629.2" r="1.8"/><circle cx="656.9" cy="690.5" r="1.8"/><circle cx="655.8" cy="633.2" r="1.8"/><circle cx="652.6" cy="603.4" r="1.8"/><circle cx="654.6" cy="694.4" r="1.8"/><circle cx="654.3" cy="538.3" r="1.8"/><circle cx="657.6" cy="651.1" r="1.8"/><circle cx="659.0" cy="653.4" r="1.8"/><circle cx="716.9" cy="689.7" r="1.8"/><circle cx="688.9" cy="614.0" r="1.8"/><circle cx="687.2" cy="676.7" r="1.8"/><circle cx="690.2" cy="670.9" r="1.8"/><circle cx="701.4" cy="674.2" r="1.8"/><circle cx="684.3" cy="614.7" r="1.8"/><circle cx="688.0" cy="682.9" r="1.8"/><circle cx="689.7" cy="621.5" r="1.8"/><circle cx="721.8" cy="693.3" r="1.8"/><circle cx="679.3" cy="627.7" r="1.8"/><circle cx="692.5" cy="615.0" r="1.8"/><circle cx="694.6" cy="694.6" r="1.8"/><circle cx="690.8" cy="632.8" r="1.8"/><circle cx="724.3" cy="677.2" r="1.8"/><circle cx="707.8" cy="672.5" r="1.8"/><circle cx="691.7" cy="623.2" r="1.8"/><circle cx="718.2" cy="626.5" r="1.8"/><circle cx="690.5" cy="612.1" r="1.8"/><circle cx="705.5" cy="612.4" r="1.8"/><circle cx="704.6" cy="615.7" r="1.8"/><circle cx="713.5" cy="682.8" r="1.8"/><circle cx="690.3" cy="700.8" r="1.8"/><circle cx="699.8" cy="699.4" r="1.8"/><circle cx="719.1" cy="614.6" r="1.8"/><circle cx="714.9" cy="649.7" r="1.8"/><circle cx="712.3" cy="652.3" r="1.8"/><circle cx="706.2" cy="658.9" r="1.8"/><circle cx="705.9" cy="676.8" r="1.8"/><circle cx="686.6" cy="637.5" r="1.8"/><circle cx="724.8" cy="641.1" r="1.8"/><circle cx="696.8" cy="683.6" r="1.8"/><circle cx="696.8" cy="615.5" r="1.8"/><circle cx="703.5" cy="651.5" r="1.8"/><circle cx="678.8" cy="644.3" r="1.8"/><circle cx="692.8" cy="677.3" r="1.8"/><circle cx="706.3" cy="619.7" r="1.8"/><circle cx="718.2" cy="618.0" r="1.8"/><circle cx="690.4" cy="640.2" r="1.8"/><circle cx="692.9" cy="681.5" r="1.8"/><circle cx="716.4" cy="615.9" r="1.8"/><circle cx="707.2" cy="592.3" r="1.8"/><circle cx="704.6" cy="652.4" r="1.8"/><circle cx="695.6" cy="698.8" r="1.8"/><circle cx="726.4" cy="615.8" r="1.8"/><circle cx="709.4" cy="667.8" r="1.8"/><circle cx="684.9" cy="636.7" r="1.8"/><circle cx="694.4" cy="689.8" r="1.8"/><circle cx="692.3" cy="649.9" r="1.8"/><circle cx="685.2" cy="652.2" r="1.8"/><circle cx="705.9" cy="688.8" r="1.8"/><circle cx="729.3" cy="638.6" r="1.8"/><circle cx="688.4" cy="625.6" r="1.8"/><circle cx="725.2" cy="623.9" r="1.8"/><circle cx="700.0" cy="654.9" r="1.8"/><circle cx="666.8" cy="680.4" r="1.8"/><circle cx="699.8" cy="625.5" r="1.8"/><circle cx="705.1" cy="672.1" r="1.8"/><circle cx="693.3" cy="660.0" r="1.8"/><circle cx="715.3" cy="605.8" r="1.8"/><circle cx="686.0" cy="694.0" r="1.8"/><circle cx="715.7" cy="650.4" r="1.8"/><circle cx="718.1" cy="620.9" r="1.8"/><circle cx="681.4" cy="651.3" r="1.8"/><circle cx="703.5" cy="675.8" r="1.8"/><circle cx="714.3" cy="612.8" r="1.8"/><circle cx="692.1" cy="707.6" r="1.8"/><circle cx="729.4" cy="638.0" r="1.8"/><circle cx="728.9" cy="619.2" r="1.8"/><circle cx="723.8" cy="650.3" r="1.8"/><circle cx="702.0" cy="605.2" r="1.8"/><circle cx="714.6" cy="618.8" r="1.8"/><circle cx="715.1" cy="648.2" r="1.8"/><circle cx="693.0" cy="637.4" r="1.8"/><circle cx="699.9" cy="674.7" r="1.8"/><circle cx="687.7" cy="636.7" r="1.8"/><circle cx="686.6" cy="627.9" r="1.8"/><circle cx="722.9" cy="699.5" r="1.8"/><circle cx="699.1" cy="631.6" r="1.8"/><circle cx="697.2" cy="670.0" r="1.8"/><circle cx="682.9" cy="675.3" r="1.8"/><circle cx="713.6" cy="636.4" r="1.8"/><circle cx="705.4" cy="614.7" r="1.8"/><circle cx="677.4" cy="623.1" r="1.8"/><circle cx="709.1" cy="621.7" r="1.8"/><circle cx="704.1" cy="666.8" r="1.8"/><circle cx="675.5" cy="647.9" r="1.8"/><circle cx="722.0" cy="637.6" r="1.8"/><circle cx="718.5" cy="631.9" r="1.8"/><circle cx="683.8" cy="618.0" r="1.8"/><circle cx="707.1" cy="660.2" r="1.8"/><circle cx="728.4" cy="780.3" r="1.8"/><circle cx="697.0" cy="775.3" r="1.8"/><circle cx="695.2" cy="706.2" r="1.8"/><circle cx="699.7" cy="703.7" r="1.8"/><circle cx="698.4" cy="740.7" r="1.8"/><circle cx="674.8" cy="749.1" r="1.8"/><circle cx="693.7" cy="742.3" r="1.8"/><circle cx="709.4" cy="768.5" r="1.8"/><circle cx="696.3" cy="706.5" r="1.8"/><circle cx="704.9" cy="756.1" r="1.8"/><circle cx="705.2" cy="723.3" r="1.8"/><circle cx="713.7" cy="773.6" r="1.8"/><circle cx="697.8" cy="746.0" r="1.8"/><circle cx="684.4" cy="773.5" r="1.8"/><circle cx="683.3" cy="751.8" r="1.8"/><circle cx="687.8" cy="775.1" r="1.8"/><circle cx="704.5" cy="753.1" r="1.8"/><circle cx="686.6" cy="757.1" r="1.8"/><circle cx="720.1" cy="737.4" r="1.8"/><circle cx="683.1" cy="732.9" r="1.8"/><circle cx="726.1" cy="726.6" r="1.8"/><circle cx="719.0" cy="732.7" r="1.8"/><circle cx="715.1" cy="717.0" r="1.8"/><circle cx="716.1" cy="730.9" r="1.8"/><circle cx="695.6" cy="725.0" r="1.8"/><circle cx="697.2" cy="766.8" r="1.8"/><circle cx="701.8" cy="755.4" r="1.8"/><circle cx="678.7" cy="757.9" r="1.8"/><circle cx="681.8" cy="759.1" r="1.8"/><circle cx="691.9" cy="765.8" r="1.8"/><circle cx="705.6" cy="753.5" r="1.8"/><circle cx="708.4" cy="776.6" r="1.8"/><circle cx="684.0" cy="774.5" r="1.8"/><circle cx="722.4" cy="757.4" r="1.8"/><circle cx="718.4" cy="720.6" r="1.8"/><circle cx="712.5" cy="774.2" r="1.8"/><circle cx="700.6" cy="715.1" r="1.8"/><circle cx="705.7" cy="775.8" r="1.8"/><circle cx="695.8" cy="726.9" r="1.8"/><circle cx="710.2" cy="750.5" r="1.8"/><circle cx="703.5" cy="619.4" r="1.8"/><circle cx="702.8" cy="641.7" r="1.8"/><circle cx="716.2" cy="612.8" r="1.8"/><circle cx="708.3" cy="633.6" r="1.8"/><circle cx="702.0" cy="612.5" r="1.8"/><circle cx="720.5" cy="644.3" r="1.8"/><circle cx="711.1" cy="628.5" r="1.8"/><circle cx="707.6" cy="630.7" r="1.8"/><circle cx="707.4" cy="609.9" r="1.8"/><circle cx="700.6" cy="603.6" r="1.8"/><circle cx="707.0" cy="606.4" r="1.8"/><circle cx="705.6" cy="624.8" r="1.8"/><circle cx="704.3" cy="629.1" r="1.8"/><circle cx="711.2" cy="591.1" r="1.8"/><circle cx="706.6" cy="608.6" r="1.8"/><circle cx="700.0" cy="611.9" r="1.8"/><circle cx="702.3" cy="650.5" r="1.8"/><circle cx="709.5" cy="654.4" r="1.8"/><circle cx="693.4" cy="594.3" r="1.8"/><circle cx="690.4" cy="626.4" r="1.8"/><circle cx="701.7" cy="604.0" r="1.8"/><circle cx="718.5" cy="604.6" r="1.8"/><circle cx="698.5" cy="592.3" r="1.8"/><circle cx="710.6" cy="652.8" r="1.8"/><circle cx="701.2" cy="630.4" r="1.8"/><circle cx="706.7" cy="636.8" r="1.8"/><circle cx="714.9" cy="633.6" r="1.8"/><circle cx="707.3" cy="655.3" r="1.8"/><circle cx="701.9" cy="622.0" r="1.8"/><circle cx="707.3" cy="628.3" r="1.8"/><circle cx="499.8" cy="670.2" r="1.8"/><circle cx="541.8" cy="703.7" r="1.8"/><circle cx="550.3" cy="653.5" r="1.8"/><circle cx="538.9" cy="657.3" r="1.8"/><circle cx="563.6" cy="697.0" r="1.8"/><circle cx="545.2" cy="661.0" r="1.8"/><circle cx="504.6" cy="677.7" r="1.8"/><circle cx="500.5" cy="764.0" r="1.8"/><circle cx="551.5" cy="721.2" r="1.8"/><circle cx="522.5" cy="663.7" r="1.8"/><circle cx="501.1" cy="666.2" r="1.8"/><circle cx="532.7" cy="632.1" r="1.8"/><circle cx="501.8" cy="686.2" r="1.8"/><circle cx="521.2" cy="784.6" r="1.8"/><circle cx="544.0" cy="755.6" r="1.8"/><circle cx="537.7" cy="650.0" r="1.8"/><circle cx="508.1" cy="694.9" r="1.8"/><circle cx="501.9" cy="786.9" r="1.8"/><circle cx="515.3" cy="786.9" r="1.8"/><circle cx="519.3" cy="661.3" r="1.8"/><circle cx="551.1" cy="677.5" r="1.8"/><circle cx="544.8" cy="716.1" r="1.8"/><circle cx="496.2" cy="740.8" r="1.8"/><circle cx="539.4" cy="761.5" r="1.8"/><circle cx="536.7" cy="640.5" r="1.8"/><circle cx="546.1" cy="690.9" r="1.8"/><circle cx="510.9" cy="780.7" r="1.8"/><circle cx="513.0" cy="796.8" r="1.8"/><circle cx="517.4" cy="650.6" r="1.8"/><circle cx="520.5" cy="674.7" r="1.8"/><circle cx="522.2" cy="633.3" r="1.8"/><circle cx="506.7" cy="760.7" r="1.8"/><circle cx="528.8" cy="760.3" r="1.8"/><circle cx="523.4" cy="741.2" r="1.8"/><circle cx="517.1" cy="658.1" r="1.8"/><circle cx="605.1" cy="666.2" r="1.8"/><circle cx="689.7" cy="745.7" r="1.8"/><circle cx="618.9" cy="718.4" r="1.8"/><circle cx="610.6" cy="598.3" r="1.8"/><circle cx="688.7" cy="714.4" r="1.8"/><circle cx="701.8" cy="683.4" r="1.8"/><circle cx="516.3" cy="503.7" r="1.8"/><circle cx="576.0" cy="661.6" r="1.8"/><circle cx="765.5" cy="601.9" r="1.8"/><circle cx="722.2" cy="748.5" r="1.8"/><circle cx="616.7" cy="497.4" r="1.8"/><circle cx="691.5" cy="683.0" r="1.8"/><circle cx="502.5" cy="632.4" r="1.8"/><circle cx="576.3" cy="524.4" r="1.8"/><circle cx="539.6" cy="616.7" r="1.8"/><circle cx="568.7" cy="492.6" r="1.8"/><circle cx="613.4" cy="478.4" r="1.8"/><circle cx="491.9" cy="752.4" r="1.8"/><circle cx="500.7" cy="553.1" r="1.8"/><circle cx="718.9" cy="679.6" r="1.8"/><circle cx="472.1" cy="665.7" r="1.8"/><circle cx="672.7" cy="739.4" r="1.8"/><circle cx="469.9" cy="668.8" r="1.8"/><circle cx="537.7" cy="585.0" r="1.8"/><circle cx="576.1" cy="617.1" r="1.8"/><circle cx="631.7" cy="655.8" r="1.8"/><circle cx="534.7" cy="590.3" r="1.8"/><circle cx="649.4" cy="714.4" r="1.8"/><circle cx="493.4" cy="647.9" r="1.8"/><circle cx="683.9" cy="692.7" r="1.8"/></g>
</g>
<path d="M73.1,249.5 C74.5,251.3 78.1,256.2 81.3,260.3 C84.5,264.4 88.5,269.6 92.1,273.9 C95.7,278.2 99.3,282.3 102.9,286.1 C106.5,289.9 110.2,293.3 113.8,296.9 C117.4,300.5 121.4,304.8 124.6,307.7 C127.8,310.6 130.0,312.2 132.7,314.5 C135.4,316.8 138.2,319.4 140.9,321.3 C143.6,323.2 145.8,324.7 149.0,326.0 C152.2,327.3 156.1,328.1 160.0,328.9 C163.9,329.7 168.3,330.2 172.5,330.6 C176.7,331.0 180.8,331.0 185.0,331.2 C189.2,331.5 193.3,331.7 197.5,331.9 C201.7,332.1 206.1,332.4 210.0,332.5 C213.9,332.6 217.7,332.9 221.0,332.6 C224.3,332.3 227.2,331.7 230.0,330.6 C232.8,329.5 234.6,328.3 237.5,326.2 C240.4,324.2 244.6,320.7 247.5,318.1 C250.4,315.5 252.1,313.3 255.0,310.5 C257.9,307.7 261.5,304.4 264.8,301.5 C268.0,298.6 271.2,296.4 274.5,293.4 C277.8,290.4 281.0,286.6 284.2,283.6 C287.5,280.6 290.8,278.2 294.0,275.5 C297.2,272.8 300.0,270.1 303.8,267.4 C307.5,264.7 312.4,261.6 316.8,259.2 C321.1,256.9 325.4,255.2 329.8,253.6 C334.1,252.0 338.4,250.6 342.8,249.5 C347.1,248.4 352.2,247.5 355.8,247.1 C359.3,246.7 362.5,246.9 363.9,246.8" fill="none" stroke="#5a77bc" stroke-width="4.2" stroke-linejoin="round"/>
<path d="M75.2,359.2 C76.9,357.7 81.3,353.7 85.3,350.4 C89.2,347.1 94.4,343.2 98.9,339.6 C103.4,336.0 107.9,332.5 112.4,328.8 C116.9,325.1 121.5,321.2 126.0,317.2 C130.5,313.2 135.0,309.3 139.5,305.0 C144.0,300.7 149.7,294.8 153.1,291.5 C156.5,288.2 157.6,287.4 160.0,285.0 C162.4,282.6 165.0,279.6 167.5,277.0 C170.0,274.4 172.5,272.0 175.0,269.5 C177.5,267.0 180.0,264.1 182.5,262.0 C185.0,259.9 187.5,258.3 190.0,256.9 C192.5,255.5 195.2,254.4 197.5,253.8 C199.8,253.1 201.7,252.7 203.8,253.1 C205.8,253.5 207.9,254.8 210.0,256.2 C212.1,257.7 214.2,260.1 216.2,261.9 C218.3,263.7 220.4,264.9 222.5,266.9 C224.6,268.9 226.7,271.9 228.8,273.8 C230.8,275.6 232.3,276.6 235.0,278.1 C237.7,279.6 241.7,281.2 245.0,282.5 C248.3,283.8 251.2,284.8 255.0,286.1 C258.8,287.4 263.7,289.3 268.0,290.1 C272.3,290.9 276.7,290.9 281.0,290.9 C285.3,290.9 289.7,290.6 294.0,290.1 C298.3,289.6 302.7,288.8 307.0,287.7 C311.3,286.6 315.7,285.1 320.0,283.6 C324.3,282.1 328.7,280.6 333.0,278.8 C337.3,276.9 341.7,274.6 346.0,272.2 C350.3,269.9 355.2,267.1 359.0,264.9 C362.8,262.7 365.9,260.7 368.8,259.2 C371.6,257.8 374.9,256.5 376.1,256.0" fill="none" stroke="#e26942" stroke-width="4.2" stroke-linejoin="round"/>
<path d="M466.9,306.4 C468.0,301.8 470.9,288.8 473.8,278.9 C476.7,269.0 481.6,255.0 484.5,246.8 C487.4,238.7 488.9,235.3 490.9,230.0 C492.9,224.7 494.6,220.0 496.5,215.0 C498.4,210.0 500.5,205.0 502.5,200.0 C504.5,195.0 506.5,190.0 508.5,185.0 C510.5,180.0 512.7,174.4 514.4,170.0 C516.1,165.6 517.3,162.3 518.8,158.5 C520.3,154.7 521.8,150.4 523.3,146.9 C524.8,143.4 526.3,140.7 528.0,137.6 C529.7,134.5 531.7,131.3 533.5,128.2 C535.3,125.1 537.0,121.9 539.0,118.8 C541.0,115.7 543.0,112.5 545.2,109.4 C547.4,106.3 549.8,103.1 552.2,100.0 C554.7,96.9 556.7,94.0 560.0,91.0 C563.3,88.0 567.3,84.4 572.0,82.0 C576.7,79.6 582.7,77.7 588.0,76.4 C593.3,75.1 598.7,74.7 604.0,74.4 C609.3,74.1 615.3,74.0 620.0,74.4 C624.7,74.8 628.0,75.6 632.0,77.0 C636.0,78.4 640.6,80.9 644.0,83.0 C647.4,85.1 649.4,86.8 652.3,89.5 C655.2,92.2 658.4,95.9 661.5,99.2 C664.6,102.5 667.8,105.7 670.7,109.5 C673.6,113.3 676.2,117.7 678.7,122.1 C681.2,126.5 683.3,131.3 685.6,135.9 C687.9,140.5 690.4,145.3 692.5,149.7 C694.6,154.1 696.3,157.9 698.2,162.3 C700.1,166.7 702.1,171.3 704.0,176.1 C705.9,180.9 708.1,186.8 709.7,191.0 C711.3,195.2 711.2,194.7 713.8,201.6 C716.3,208.5 721.2,222.2 725.0,232.5 C728.8,242.8 732.5,252.7 736.2,263.5 C740.0,274.3 744.2,286.4 747.5,297.2 C750.8,308.0 753.5,318.8 755.9,328.2 C758.3,337.6 761.1,349.3 762.1,353.5" fill="none" stroke="#5a77bc" stroke-width="4.2" stroke-linejoin="round"/>
<path d="M469.2,269.7 C470.7,266.1 475.5,254.6 478.3,248.0 C481.1,241.4 483.9,235.5 486.2,230.0 C488.6,224.5 490.2,220.0 492.2,215.0 C494.2,210.0 496.0,205.0 498.1,200.0 C500.2,195.0 502.2,189.9 504.7,185.0 C507.2,180.1 510.8,174.1 513.0,170.4 C515.2,166.7 516.2,165.2 517.8,162.6 C519.4,160.0 520.9,157.4 522.5,154.8 C524.1,152.2 525.5,149.5 527.2,146.9 C528.9,144.3 531.0,141.4 532.7,139.1 C534.4,136.8 535.8,134.8 537.4,132.9 C539.0,131.0 540.4,129.1 542.1,127.4 C543.8,125.7 545.7,124.1 547.6,122.7 C549.5,121.3 551.7,119.8 553.8,118.8 C555.9,117.8 557.0,117.2 560.0,116.8 C563.0,116.4 568.0,116.4 572.0,116.4 C576.0,116.4 580.0,116.5 584.0,117.0 C588.0,117.5 592.7,119.1 596.0,119.6 C599.3,120.1 601.0,120.3 604.0,120.0 C607.0,119.7 610.7,119.2 614.0,118.0 C617.3,116.8 620.3,114.7 624.0,113.0 C627.7,111.3 632.0,109.4 636.0,108.0 C640.0,106.6 644.1,104.7 648.0,104.5 C651.9,104.3 656.0,105.6 659.2,106.7 C662.4,107.7 664.7,109.1 667.2,110.7 C669.7,112.3 671.8,114.1 674.1,116.4 C676.4,118.7 678.7,121.3 681.0,124.4 C683.3,127.5 685.6,131.4 687.9,134.8 C690.2,138.2 692.5,141.5 694.8,145.1 C697.1,148.7 699.4,152.6 701.7,156.6 C704.0,160.6 706.2,164.8 708.5,169.2 C710.8,173.6 713.3,178.4 715.4,183.0 C717.5,187.6 717.7,188.1 721.2,196.8 C724.7,205.5 731.4,222.8 736.2,235.3 C741.1,247.8 746.1,260.2 750.3,271.9 C754.5,283.6 758.3,294.4 761.6,305.7 C764.9,316.9 767.4,326.5 770.0,339.4 C772.6,352.3 775.8,375.7 777.0,383.0" fill="none" stroke="#e26942" stroke-width="4.2" stroke-linejoin="round"/>
<path d="M73.5,781.5 C76.2,781.1 84.8,780.0 90.0,779.0 C95.2,778.0 100.0,776.9 105.0,775.5 C110.0,774.1 115.0,772.3 120.0,770.5 C125.0,768.7 129.8,766.8 135.0,764.5 C140.2,762.2 146.5,759.3 151.0,756.6 C155.5,753.9 158.3,751.1 162.0,748.4 C165.7,745.6 169.3,743.1 173.0,740.1 C176.7,737.1 181.0,733.2 184.0,730.5 C187.0,727.8 188.6,726.4 190.9,723.6 C193.2,720.9 195.5,717.2 197.8,714.0 C200.0,710.8 202.3,707.3 204.6,704.4 C206.9,701.5 209.2,699.1 211.5,696.8 C213.8,694.5 216.1,692.0 218.4,690.6 C220.7,689.2 223.0,688.7 225.2,688.6 C227.5,688.5 229.8,688.9 232.1,689.9 C234.4,690.9 236.9,692.4 239.0,694.8 C241.1,697.1 242.8,700.4 244.7,704.2 C246.6,708.0 248.2,712.6 250.3,717.5 C252.4,722.4 254.8,729.0 257.5,733.8 C260.2,738.5 263.3,741.9 266.2,746.0 C269.2,750.1 271.8,754.2 275.0,758.2 C278.2,762.3 282.0,766.7 285.5,770.5 C289.0,774.3 292.5,778.1 296.0,781.0 C299.5,783.9 302.7,786.0 306.5,788.0 C310.3,790.0 314.7,792.1 318.8,793.2 C322.8,794.4 327.2,795.0 331.0,795.0 C334.8,795.0 338.0,794.3 341.5,793.2 C345.0,792.2 348.4,790.8 352.0,788.9 C355.6,787.0 361.5,783.1 363.4,781.9" fill="none" stroke="#5a77bc" stroke-width="4.2" stroke-linejoin="round"/>
<path d="M75.3,752.5 C77.8,752.6 85.0,752.8 90.0,753.0 C95.0,753.2 100.0,753.8 105.0,754.0 C110.0,754.2 114.2,754.0 120.0,754.0 C125.8,754.0 134.8,754.1 140.0,753.9 C145.2,753.6 147.3,753.0 151.0,752.5 C154.7,752.0 158.3,751.6 162.0,751.1 C165.7,750.6 169.3,750.7 173.0,749.8 C176.7,748.8 180.8,747.2 184.0,745.6 C187.2,744.0 189.5,742.4 192.2,740.1 C195.0,737.8 198.0,734.6 200.5,731.9 C203.0,729.1 205.3,726.6 207.4,723.6 C209.5,720.6 210.8,717.0 212.9,714.0 C215.0,711.0 217.5,708.3 219.8,705.8 C222.0,703.2 224.3,700.4 226.6,698.9 C228.9,697.4 231.2,696.7 233.5,696.8 C235.8,696.9 238.1,697.9 240.4,699.6 C242.7,701.3 245.0,704.4 247.2,707.1 C249.5,709.8 251.7,712.7 254.0,716.0 C256.3,719.3 258.1,722.6 261.0,726.8 C263.9,730.9 268.0,736.4 271.5,740.8 C275.0,745.1 278.5,749.2 282.0,753.0 C285.5,756.8 289.0,760.4 292.5,763.5 C296.0,766.6 299.5,769.1 303.0,771.4 C306.5,773.7 309.7,775.9 313.5,777.5 C317.3,779.1 321.7,780.3 325.8,781.0 C329.8,781.7 333.9,782.2 338.0,781.9 C342.1,781.6 346.2,780.6 350.2,779.2 C354.3,777.9 358.0,776.3 362.5,774.0 C367.0,771.7 374.9,766.7 377.4,765.2" fill="none" stroke="#e26942" stroke-width="4.2" stroke-linejoin="round"/>
<path d="M466.9,685.5 C469.2,684.4 476.0,681.1 480.6,678.6 C485.2,676.1 489.8,673.6 494.4,670.4 C499.0,667.2 503.5,663.5 508.1,659.4 C512.7,655.3 517.3,650.6 521.9,645.6 C526.5,640.6 531.0,635.1 535.6,629.1 C540.2,623.1 545.5,615.6 549.4,609.9 C553.3,604.2 556.2,599.1 559.0,594.7 C561.8,590.3 563.9,587.2 566.3,583.5 C568.7,579.8 571.2,576.1 573.6,572.5 C576.0,568.9 578.6,565.3 580.9,562.0 C583.1,558.7 585.2,555.5 587.1,552.5 C589.0,549.5 590.7,546.6 592.3,544.0 C593.9,541.4 594.9,539.3 596.5,537.0 C598.1,534.7 599.8,532.5 601.7,530.3 C603.6,528.1 605.9,525.4 608.0,524.0 C610.1,522.6 612.0,521.7 614.3,521.9 C616.6,522.1 619.4,523.3 621.9,525.3 C624.4,527.3 627.2,530.5 629.4,533.8 C631.6,537.1 633.1,540.6 635.0,545.0 C636.9,549.4 638.8,554.4 640.7,560.0 C642.6,565.6 644.4,572.5 646.3,578.8 C648.2,585.1 650.0,592.0 651.9,597.6 C653.8,603.2 655.3,607.3 657.5,612.6 C659.7,617.9 662.5,624.2 665.0,629.5 C667.5,634.8 670.0,640.0 672.5,644.5 C675.0,649.0 677.5,653.2 680.0,656.5 C682.5,659.8 684.8,662.6 687.5,664.5 C690.2,666.4 693.4,667.4 696.3,667.6 C699.2,667.8 702.1,667.0 705.0,665.8 C707.9,664.5 711.1,662.5 713.8,660.1 C716.5,657.7 718.8,655.0 721.3,651.4 C723.8,647.8 726.5,643.2 728.8,638.8 C731.1,634.4 733.0,629.9 735.1,625.1 C737.2,620.3 739.4,615.1 741.3,610.1 C743.2,605.1 744.8,599.8 746.3,595.0 C747.8,590.2 748.9,585.7 750.1,581.3 C751.4,576.9 753.2,570.9 753.8,568.8" fill="none" stroke="#5a77bc" stroke-width="4.2" stroke-linejoin="round"/>
<path d="M468.2,675.9 C470.3,674.8 476.2,671.8 480.6,669.0 C485.0,666.2 489.8,663.3 494.4,659.4 C499.0,655.5 503.5,650.6 508.1,645.6 C512.7,640.6 517.3,635.1 521.9,629.1 C526.5,623.1 531.0,616.8 535.6,609.9 C540.2,603.0 545.5,594.3 549.4,587.9 C553.3,581.5 555.5,578.0 559.0,571.4 C562.5,564.8 566.8,555.8 570.4,548.5 C574.0,541.2 577.7,534.1 580.9,527.5 C584.1,520.9 587.3,513.5 589.5,509.0 C591.7,504.5 592.5,503.4 594.0,500.8 C595.5,498.1 597.0,495.5 598.5,493.2 C600.0,491.0 601.5,488.8 603.0,487.2 C604.5,485.8 606.0,484.8 607.5,484.2 C609.0,483.7 610.5,483.7 612.0,483.9 C613.5,484.1 615.0,484.6 616.5,485.4 C618.0,486.2 619.5,487.3 621.0,488.8 C622.5,490.2 624.0,491.8 625.5,494.0 C627.0,496.2 628.6,499.5 630.0,502.2 C631.4,505.0 632.5,507.4 633.8,510.5 C635.0,513.6 636.3,517.1 637.5,521.0 C638.7,524.9 638.9,527.3 640.7,533.8 C642.5,540.3 645.7,551.9 648.2,560.0 C650.7,568.1 653.2,575.1 655.7,582.6 C658.2,590.1 660.7,598.1 663.2,605.0 C665.7,611.9 667.9,616.9 670.7,623.8 C673.5,630.7 677.2,640.5 680.0,646.4 C682.8,652.2 684.8,655.4 687.5,658.9 C690.2,662.4 693.4,665.5 696.3,667.6 C699.2,669.7 702.1,670.9 705.0,671.4 C707.9,671.9 710.9,671.6 713.8,670.8 C716.7,670.0 719.7,668.6 722.6,666.4 C725.5,664.2 728.4,660.9 731.3,657.6 C734.2,654.3 737.4,650.4 740.1,646.4 C742.8,642.4 745.3,638.4 747.6,633.8 C749.9,629.2 751.7,624.2 753.8,618.8 C755.9,613.4 758.0,608.1 760.1,601.3 C762.2,594.5 765.4,582.0 766.4,578.1" fill="none" stroke="#e26942" stroke-width="4.2" stroke-linejoin="round"/>
<path d="M57.5,12.5 V395.9 H392.8" fill="none" stroke="#1a1a1a" stroke-width="1.6"/><line x1="54.5" y1="388.5" x2="57.5" y2="388.5" stroke="#333" stroke-width="1.1"/><line x1="54.5" y1="310.5" x2="57.5" y2="310.5" stroke="#333" stroke-width="1.1"/><line x1="54.5" y1="232.3" x2="57.5" y2="232.3" stroke="#333" stroke-width="1.1"/><line x1="54.5" y1="153.0" x2="57.5" y2="153.0" stroke="#333" stroke-width="1.1"/><line x1="54.5" y1="75.7" x2="57.5" y2="75.7" stroke="#333" stroke-width="1.1"/><text x="12.0" y="80.7" font-size="18" font-family="Liberation Sans, sans-serif" fill="#111" stroke="#111" stroke-width="0.45">4000</text><text x="12.1" y="158.4" font-size="18" font-family="Liberation Sans, sans-serif" fill="#111" stroke="#111" stroke-width="0.45">3000</text><text x="12.1" y="238.4" font-size="18" font-family="Liberation Sans, sans-serif" fill="#111" stroke="#111" stroke-width="0.45">2000</text><text x="12.1" y="317.6" font-size="18" font-family="Liberation Sans, sans-serif" fill="#111" stroke="#111" stroke-width="0.45">1000</text><text x="32.6" y="393.8" font-size="18" font-family="Liberation Sans, sans-serif" fill="#111" stroke="#111" stroke-width="0.45">0</text><line x1="130.9" y1="395.9" x2="130.9" y2="398.9" stroke="#333" stroke-width="1.1"/><line x1="212.9" y1="395.9" x2="212.9" y2="398.9" stroke="#333" stroke-width="1.1"/><line x1="294.5" y1="395.9" x2="294.5" y2="398.9" stroke="#333" stroke-width="1.1"/><line x1="376.9" y1="395.9" x2="376.9" y2="398.9" stroke="#333" stroke-width="1.1"/><text x="129.7" y="415.3" text-anchor="middle" font-size="22.5" font-family="Liberation Sans, sans-serif" fill="#111" stroke="#111" stroke-width="0.45">-30</text><text x="212.0" y="415.3" text-anchor="middle" font-size="22.5" font-family="Liberation Sans, sans-serif" fill="#111" stroke="#111" stroke-width="0.45">0</text><text x="297.8" y="415.3" text-anchor="middle" font-size="22.5" font-family="Liberation Sans, sans-serif" fill="#111" stroke="#111" stroke-width="0.45">30</text><text x="381.1" y="415.3" text-anchor="middle" font-size="22.5" font-family="Liberation Sans, sans-serif" fill="#111" stroke="#111" stroke-width="0.45">60</text>
<path d="M451.7,12.5 V402.3 H787.0" fill="none" stroke="#1a1a1a" stroke-width="1.6"/><line x1="448.7" y1="391.3" x2="451.7" y2="391.3" stroke="#333" stroke-width="1.1"/><line x1="448.7" y1="296.8" x2="451.7" y2="296.8" stroke="#333" stroke-width="1.1"/><line x1="448.7" y1="201.7" x2="451.7" y2="201.7" stroke="#333" stroke-width="1.1"/><line x1="448.7" y1="107.1" x2="451.7" y2="107.1" stroke="#333" stroke-width="1.1"/><text x="418.6" y="394.2" font-size="18" font-family="Liberation Sans, sans-serif" fill="#111" stroke="#111" stroke-width="0.45">-10</text><text x="430.1" y="301.6" font-size="18" font-family="Liberation Sans, sans-serif" fill="#111" stroke="#111" stroke-width="0.45">0</text><text x="425.4" y="209.0" font-size="18" font-family="Liberation Sans, sans-serif" fill="#111" stroke="#111" stroke-width="0.45">10</text><text x="424.1" y="111.4" font-size="18" font-family="Liberation Sans, sans-serif" fill="#111" stroke="#111" stroke-width="0.45">20</text><line x1="524.7" y1="402.3" x2="524.7" y2="405.3" stroke="#333" stroke-width="1.1"/><line x1="607.1" y1="402.3" x2="607.1" y2="405.3" stroke="#333" stroke-width="1.1"/><line x1="689.5" y1="402.3" x2="689.5" y2="405.3" stroke="#333" stroke-width="1.1"/><line x1="771.9" y1="402.3" x2="771.9" y2="405.3" stroke="#333" stroke-width="1.1"/><text x="524.0" y="421.7" text-anchor="middle" font-size="22.5" font-family="Liberation Sans, sans-serif" fill="#111" stroke="#111" stroke-width="0.45">-30</text><text x="606.5" y="421.7" text-anchor="middle" font-size="22.5" font-family="Liberation Sans, sans-serif" fill="#111" stroke="#111" stroke-width="0.45">0</text><text x="692.0" y="421.7" text-anchor="middle" font-size="22.5" font-family="Liberation Sans, sans-serif" fill="#111" stroke="#111" stroke-width="0.45">30</text><text x="776.0" y="421.7" text-anchor="middle" font-size="22.5" font-family="Liberation Sans, sans-serif" fill="#111" stroke="#111" stroke-width="0.45">60</text>
<path d="M57.5,431.5 V833.6 H393.0" fill="none" stroke="#1a1a1a" stroke-width="1.6"/><line x1="54.5" y1="824.9" x2="57.5" y2="824.9" stroke="#333" stroke-width="1.1"/><line x1="54.5" y1="709.6" x2="57.5" y2="709.6" stroke="#333" stroke-width="1.1"/><line x1="54.5" y1="595.3" x2="57.5" y2="595.3" stroke="#333" stroke-width="1.1"/><line x1="54.5" y1="480.6" x2="57.5" y2="480.6" stroke="#333" stroke-width="1.1"/><text x="11.6" y="485.9" font-size="18" font-family="Liberation Sans, sans-serif" fill="#111" stroke="#111" stroke-width="0.45">6000</text><text x="11.7" y="599.5" font-size="18" font-family="Liberation Sans, sans-serif" fill="#111" stroke="#111" stroke-width="0.45">4000</text><text x="11.9" y="715.2" font-size="18" font-family="Liberation Sans, sans-serif" fill="#111" stroke="#111" stroke-width="0.45">2000</text><text x="32.4" y="830.7" font-size="18" font-family="Liberation Sans, sans-serif" fill="#111" stroke="#111" stroke-width="0.45">0</text><line x1="130.7" y1="833.6" x2="130.7" y2="836.6" stroke="#333" stroke-width="1.1"/><line x1="212.8" y1="833.6" x2="212.8" y2="836.6" stroke="#333" stroke-width="1.1"/><line x1="295.0" y1="833.6" x2="295.0" y2="836.6" stroke="#333" stroke-width="1.1"/><line x1="377.2" y1="833.6" x2="377.2" y2="836.6" stroke="#333" stroke-width="1.1"/><text x="129.5" y="853.5" text-anchor="middle" font-size="22.5" font-family="Liberation Sans, sans-serif" fill="#111" stroke="#111" stroke-width="0.45">-30</text><text x="212.2" y="853.5" text-anchor="middle" font-size="22.5" font-family="Liberation Sans, sans-serif" fill="#111" stroke="#111" stroke-width="0.45">0</text><text x="297.3" y="853.5" text-anchor="middle" font-size="22.5" font-family="Liberation Sans, sans-serif" fill="#111" stroke="#111" stroke-width="0.45">30</text><text x="381.5" y="853.5" text-anchor="middle" font-size="22.5" font-family="Liberation Sans, sans-serif" fill="#111" stroke="#111" stroke-width="0.45">60</text>
<path d="M451.1,431.3 V833.9 H787.0" fill="none" stroke="#1a1a1a" stroke-width="1.6"/><line x1="448.1" y1="761.8" x2="451.1" y2="761.8" stroke="#333" stroke-width="1.1"/><line x1="448.1" y1="654.0" x2="451.1" y2="654.0" stroke="#333" stroke-width="1.1"/><line x1="448.1" y1="545.4" x2="451.1" y2="545.4" stroke="#333" stroke-width="1.1"/><line x1="448.1" y1="437.8" x2="451.1" y2="437.8" stroke="#333" stroke-width="1.1"/><text x="428.0" y="834.2" font-size="18" font-family="Liberation Sans, sans-serif" fill="#111" stroke="#111" stroke-width="0.45">0</text><text x="422.9" y="767.8" font-size="18" font-family="Liberation Sans, sans-serif" fill="#111" stroke="#111" stroke-width="0.45">25</text><text x="423.7" y="661.1" font-size="18" font-family="Liberation Sans, sans-serif" fill="#111" stroke="#111" stroke-width="0.45">50</text><text x="423.7" y="553.2" font-size="18" font-family="Liberation Sans, sans-serif" fill="#111" stroke="#111" stroke-width="0.45">75</text><line x1="524.7" y1="833.9" x2="524.7" y2="836.9" stroke="#333" stroke-width="1.1"/><line x1="606.9" y1="833.9" x2="606.9" y2="836.9" stroke="#333" stroke-width="1.1"/><line x1="689.3" y1="833.9" x2="689.3" y2="836.9" stroke="#333" stroke-width="1.1"/><line x1="771.8" y1="833.9" x2="771.8" y2="836.9" stroke="#333" stroke-width="1.1"/><text x="524.0" y="853.2" text-anchor="middle" font-size="22.5" font-family="Liberation Sans, sans-serif" fill="#111" stroke="#111" stroke-width="0.45">-30</text><text x="606.3" y="853.2" text-anchor="middle" font-size="22.5" font-family="Liberation Sans, sans-serif" fill="#111" stroke="#111" stroke-width="0.45">0</text><text x="693.0" y="853.2" text-anchor="middle" font-size="22.5" font-family="Liberation Sans, sans-serif" fill="#111" stroke="#111" stroke-width="0.45">30</text><text x="777.0" y="853.2" text-anchor="middle" font-size="22.5" font-family="Liberation Sans, sans-serif" fill="#111" stroke="#111" stroke-width="0.45">60</text>
<text x="64.6" y="31.3" font-size="25.5" font-weight="bold" font-family="Liberation Sans, sans-serif" fill="#000">elevation</text><text x="64.6" y="61.9" font-size="25.5" font-weight="bold" font-family="Liberation Sans, sans-serif" fill="#000">(m)</text><text x="52.9" y="29.0" font-size="21.5" letter-spacing="0.6" text-anchor="end" font-family="Liberation Sans, sans-serif" fill="#111" stroke="#111" stroke-width="0.3">(a)</text>
<text x="460.1" y="31.4" font-size="25.5" font-weight="bold" font-family="Liberation Sans, sans-serif" fill="#000">mean annual temperature</text><text x="460.1" y="62.0" font-size="25.5" font-weight="bold" font-family="Liberation Sans, sans-serif" fill="#000">(°C)</text><text x="447.1" y="29.0" font-size="21.5" letter-spacing="0.6" text-anchor="end" font-family="Liberation Sans, sans-serif" fill="#111" stroke="#111" stroke-width="0.3">(b)</text>
<text x="65.4" y="453.8" font-size="25.5" font-weight="bold" font-family="Liberation Sans, sans-serif" fill="#000">mean annual precipitation</text><text x="65.4" y="484.4" font-size="25.5" font-weight="bold" font-family="Liberation Sans, sans-serif" fill="#000">(mm)</text><text x="52.3" y="452.3" font-size="21.5" letter-spacing="0.6" text-anchor="end" font-family="Liberation Sans, sans-serif" fill="#111" stroke="#111" stroke-width="0.3">(c)</text>
<text x="459.1" y="455.0" font-size="25.5" font-weight="bold" font-family="Liberation Sans, sans-serif" fill="#000">cloud cover</text><text x="459.1" y="485.6" font-size="25.5" font-weight="bold" font-family="Liberation Sans, sans-serif" fill="#000">(%)</text><text x="441.1" y="452.3" font-size="21.5" letter-spacing="0.6" text-anchor="end" font-family="Liberation Sans, sans-serif" fill="#111" stroke="#111" stroke-width="0.3">(d)</text>
<text x="225.6" y="878" text-anchor="middle" font-size="22" font-family="Liberation Sans, sans-serif" fill="#111" stroke="#111" stroke-width="0.45">latitude (°)</text>
<text x="620" y="878" text-anchor="middle" font-size="22" font-family="Liberation Sans, sans-serif" fill="#111" stroke="#111" stroke-width="0.45">latitude (°)</text>
<text x="129.1" y="918.5" font-size="22" font-weight="bold" font-family="Liberation Sans, sans-serif" fill="#1f68a4">insect</text>
<text x="371.1" y="918.7" font-size="22" font-weight="bold" font-family="Liberation Sans, sans-serif" fill="#b84a22">vertebrate</text>
<g fill="#000"><path d="M82.00,916.50 C80.92,915.67 78.00,916.75 76.00,916.60 C74.00,916.45 71.83,915.90 70.00,915.60 C68.17,915.30 66.67,915.17 65.00,914.80 C63.33,914.43 61.58,913.72 60.00,913.40 C58.42,913.08 56.60,912.77 55.50,912.90 C54.40,913.03 53.65,913.58 53.40,914.20 C53.15,914.82 53.60,915.83 54.00,916.60 C54.40,917.37 55.05,918.08 55.80,918.80 C56.55,919.52 57.47,920.28 58.50,920.90 C59.53,921.52 60.83,921.95 62.00,922.50 C63.17,923.05 64.17,923.68 65.50,924.20 C66.83,924.72 68.50,925.47 70.00,925.60 C71.50,925.73 73.08,925.37 74.50,925.00 C75.92,924.63 77.17,923.97 78.50,923.40 C79.83,922.83 81.92,922.75 82.50,921.60 C83.08,920.45 83.08,917.33 82.00,916.50Z"/><path d="M89.50,915.60 C90.13,914.47 92.42,915.42 94.00,915.00 C95.58,914.58 97.29,913.63 99.00,913.10 C100.71,912.57 102.50,912.12 104.25,911.80 C106.00,911.48 107.79,911.28 109.50,911.20 C111.21,911.12 113.25,911.12 114.50,911.30 C115.75,911.48 116.62,911.82 117.00,912.30 C117.38,912.78 117.13,913.58 116.80,914.20 C116.47,914.82 115.80,915.30 115.00,916.00 C114.20,916.70 113.18,917.57 112.00,918.40 C110.82,919.23 109.19,920.22 107.90,921.00 C106.61,921.78 105.40,922.50 104.25,923.10 C103.10,923.70 102.12,924.42 101.00,924.60 C99.88,924.78 98.75,924.52 97.50,924.20 C96.25,923.88 94.72,923.10 93.50,922.70 C92.28,922.30 90.87,922.98 90.20,921.80 C89.53,920.62 88.87,916.73 89.50,915.60Z"/><path d="M85.90,924.50 C87.05,924.50 88.55,924.83 89.50,925.50 C90.45,926.17 91.10,927.33 91.60,928.50 C92.10,929.67 92.40,931.17 92.50,932.50 C92.60,933.83 92.48,935.22 92.20,936.50 C91.92,937.78 91.45,939.12 90.80,940.20 C90.15,941.28 89.10,942.40 88.30,943.00 C87.50,943.60 86.78,943.80 86.00,943.80 C85.22,943.80 84.38,943.60 83.60,943.00 C82.82,942.40 81.90,941.28 81.30,940.20 C80.70,939.12 80.23,937.78 80.00,936.50 C79.77,935.22 79.80,933.83 79.90,932.50 C80.00,931.17 80.15,929.67 80.60,928.50 C81.05,927.33 81.72,926.17 82.60,925.50 C83.48,924.83 84.75,924.50 85.90,924.50Z"/><path d="M85.30,913.00 C86.45,913.00 87.92,913.22 88.80,913.80 C89.68,914.38 90.23,915.55 90.60,916.50 C90.97,917.45 91.03,918.45 91.00,919.50 C90.97,920.55 90.82,921.83 90.40,922.80 C89.98,923.77 89.35,924.77 88.50,925.30 C87.65,925.83 86.37,926.00 85.30,926.00 C84.23,926.00 82.93,925.83 82.10,925.30 C81.27,924.77 80.68,923.77 80.30,922.80 C79.92,921.83 79.82,920.55 79.80,919.50 C79.78,918.45 79.85,917.45 80.20,916.50 C80.55,915.55 81.05,914.38 81.90,913.80 C82.75,913.22 84.15,913.00 85.30,913.00Z"/><path d="M85.00,908.00 C85.82,908.00 86.78,908.03 87.50,908.30 C88.22,908.57 88.83,909.12 89.30,909.60 C89.77,910.08 90.25,910.67 90.30,911.20 C90.35,911.73 90.07,912.37 89.60,912.80 C89.13,913.23 88.27,913.60 87.50,913.80 C86.73,914.00 85.83,914.00 85.00,914.00 C84.17,914.00 83.25,914.00 82.50,913.80 C81.75,913.60 80.93,913.23 80.50,912.80 C80.07,912.37 79.83,911.73 79.90,911.20 C79.97,910.67 80.45,910.08 80.90,909.60 C81.35,909.12 81.92,908.57 82.60,908.30 C83.28,908.03 84.18,908.00 85.00,908.00Z"/></g><g fill="none" stroke="#000" stroke-width="1.5" stroke-linecap="round" stroke-linejoin="round"><path d="M81.00,915.50 L78.00,915.50 L74.00,913.00 L72.00,910.00 L68.50,906.50" stroke-width="1.6"/><path d="M83.00,909.00 L80.00,907.00 L74.50,904.00" stroke-width="1.1"/><path d="M87.50,908.50 L93.75,903.20" stroke-width="1.1"/><path d="M90.50,914.70 L95.50,910.80 L96.60,908.20 L101.00,905.00" stroke-width="1.6"/><path d="M81.00,925.00 L76.00,926.50 L73.00,928.70 L71.00,932.00 L67.50,934.50" stroke-width="1.6"/><path d="M81.00,928.00 L77.00,932.00 L74.00,936.50 L71.00,941.00" stroke-width="1.6"/><path d="M91.00,923.60 L96.90,926.80 L99.50,929.60 L103.70,933.10" stroke-width="1.6"/><path d="M91.00,927.80 L95.30,933.60 L99.00,937.30 L102.10,939.90" stroke-width="1.6"/></g>
<path d="M292.20,904.90 C292.66,904.44 295.18,904.42 297.25,904.50 C299.32,904.58 302.19,904.94 304.65,905.40 C307.11,905.86 309.53,906.48 312.00,907.25 C314.47,908.02 317.28,909.16 319.45,910.00 C321.62,910.84 323.54,911.60 325.00,912.30 C326.46,913.00 327.12,914.58 328.20,914.20 C329.28,913.82 330.57,911.32 331.50,910.00 C332.43,908.68 333.03,907.30 333.80,906.30 C334.57,905.30 335.10,904.48 336.10,904.00 C337.10,903.52 338.57,903.45 339.80,903.40 C341.03,903.35 342.50,903.55 343.50,903.70 C344.50,903.85 344.57,904.35 345.80,904.30 C347.03,904.25 349.12,903.65 350.90,903.40 C352.67,903.15 356.14,902.75 356.45,902.80 C356.76,902.85 354.29,903.30 352.75,903.70 C351.21,904.10 348.59,904.61 347.20,905.20 C345.81,905.79 345.32,906.28 344.40,907.25 C343.47,908.22 342.57,909.69 341.65,911.00 C340.73,912.31 339.59,914.03 338.90,915.10 C338.21,916.17 337.97,916.40 337.50,917.40 C337.03,918.40 336.80,919.87 336.10,921.10 C335.40,922.33 334.53,923.41 333.30,924.80 C332.07,926.19 330.39,927.90 328.70,929.45 C327.01,931.00 324.69,932.71 323.15,934.10 C321.61,935.49 320.68,936.27 319.45,937.80 C318.22,939.33 316.76,941.83 315.75,943.30 C314.74,944.77 313.40,947.06 313.40,946.60 C313.40,946.14 314.90,942.48 315.75,940.55 C316.60,938.62 317.73,937.01 318.50,935.00 C319.27,932.99 319.85,930.27 320.40,928.50 C320.95,926.73 322.12,925.32 321.80,924.40 C321.48,923.48 320.13,923.78 318.50,923.00 C316.87,922.22 314.15,920.93 312.00,919.70 C309.85,918.47 307.75,917.05 305.60,915.60 C303.45,914.15 300.95,912.39 299.10,911.00 C297.25,909.61 295.65,908.27 294.50,907.25 C293.35,906.23 291.74,905.36 292.20,904.90Z" fill="#000"/>
</g>
</svg>
</body></html>
